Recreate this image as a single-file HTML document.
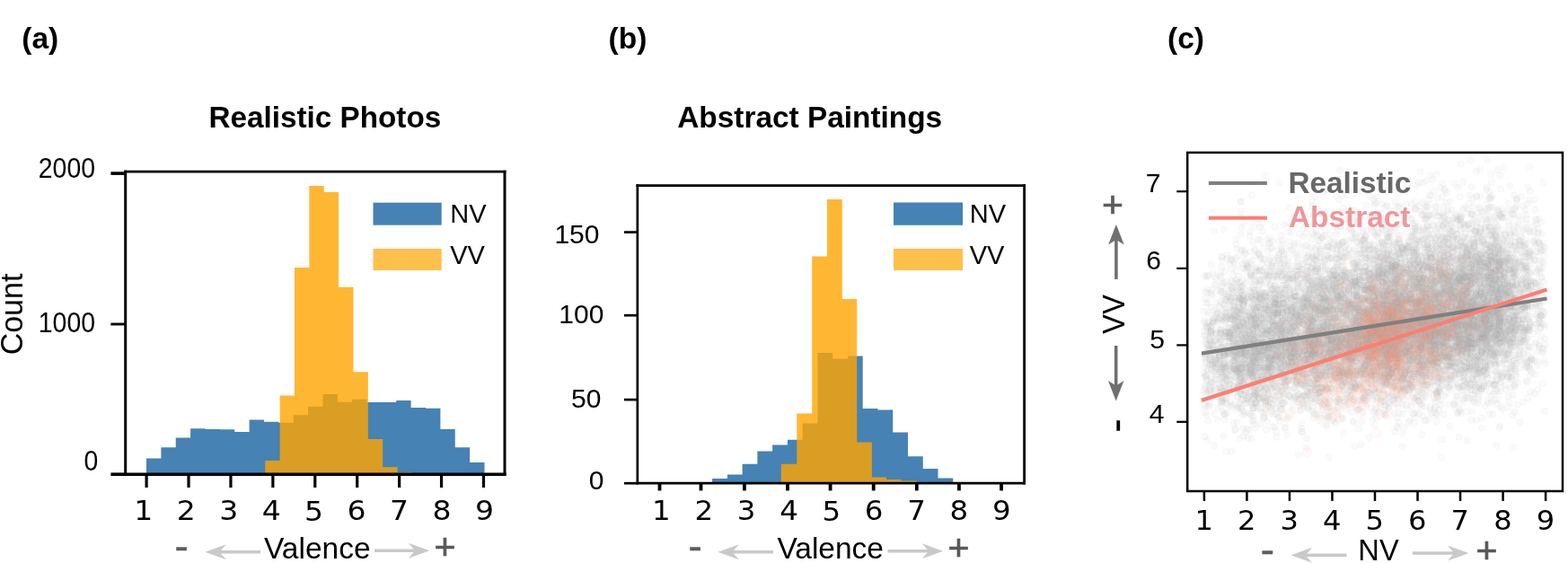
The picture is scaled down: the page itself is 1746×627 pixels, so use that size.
<!DOCTYPE html>
<html lang="en"><head><meta charset="utf-8"><title>Valence distributions</title>
<style>
html,body{margin:0;padding:0;background:#fff;}
body{width:1746px;height:627px;overflow:hidden;font-family:"Liberation Sans", Arial, Helvetica, sans-serif;}
svg{display:block;}
</style></head><body>
<svg width="1746" height="627" viewBox="0 0 1746 627">
<rect width="1746" height="627" fill="#fff"/>
<text x="24.3" y="54.2" font-family='"Liberation Sans", Arial, Helvetica, sans-serif' font-size="33.5" font-weight="bold" text-anchor="start" fill="#000" >(a)</text>
<text x="677.6" y="54.2" font-family='"Liberation Sans", Arial, Helvetica, sans-serif' font-size="33.5" font-weight="bold" text-anchor="start" fill="#000" >(b)</text>
<text x="1300.0" y="54.2" font-family='"Liberation Sans", Arial, Helvetica, sans-serif' font-size="33.5" font-weight="bold" text-anchor="start" fill="#000" >(c)</text>
<text x="361.9" y="141.6" font-family='"Liberation Sans", Arial, Helvetica, sans-serif' font-size="33.25" font-weight="bold" text-anchor="middle" fill="#000" >Realistic Photos</text>
<text x="901.7" y="141.7" font-family='"Liberation Sans", Arial, Helvetica, sans-serif' font-size="33.4" font-weight="bold" text-anchor="middle" fill="#000" >Abstract Paintings</text>
<path d="M163.00,528.2L163.00,510.60L179.37,510.60L179.37,498.30L195.74,498.30L195.74,487.60L212.11,487.60L212.11,477.30L228.48,477.30L228.48,478.10L244.85,478.10L244.85,478.30L261.22,478.30L261.22,481.10L277.59,481.10L277.59,467.60L293.96,467.60L293.96,469.80L310.33,469.80L310.33,470.80L326.70,470.80L326.70,462.30L343.07,462.30L343.07,452.80L359.43,452.80L359.43,439.10L375.80,439.10L375.80,447.80L392.17,447.80L392.17,444.80L408.54,444.80L408.54,448.10L424.91,448.10L424.91,448.10L441.28,448.10L441.28,446.10L457.65,446.10L457.65,454.10L474.02,454.10L474.02,454.80L490.39,454.80L490.39,478.10L506.76,478.10L506.76,498.30L523.13,498.30L523.13,515.10L539.50,515.10L539.50,528.2Z" fill="#4682b4" fill-opacity="1"/>
<path d="M295.26,528.2L295.26,513.10L311.63,513.10L311.63,440.40L328.00,440.40L328.00,297.90L344.37,297.90L344.37,207.00L360.73,207.00L360.73,214.00L377.10,214.00L377.10,319.80L393.47,319.80L393.47,414.20L409.84,414.20L409.84,489.10L426.21,489.10L426.21,520.30L442.58,520.30L442.58,526.00L458.95,526.00L458.95,528.2Z" fill="#ffa500" fill-opacity="0.8"/>
<line x1="139.7" y1="189.79999999999998" x2="139.7" y2="530.0" stroke="#000" stroke-width="3.0"/>
<line x1="562" y1="189.79999999999998" x2="562" y2="530.0" stroke="#000" stroke-width="3.0"/>
<line x1="138.2" y1="191.1" x2="563.5" y2="191.1" stroke="#000" stroke-width="2.6"/>
<line x1="138.2" y1="528.2" x2="563.5" y2="528.2" stroke="#000" stroke-width="3.6"/>
<line x1="123.4" y1="193.1" x2="139.7" y2="193.1" stroke="#000" stroke-width="3.6"/>
<text transform="translate(105.98,198.3) scale(1.0,1.095)" font-family='"Liberation Sans", Arial, Helvetica, sans-serif' font-size="28.4" text-anchor="end" fill="#000">2000</text>
<line x1="123.4" y1="361.0" x2="139.7" y2="361.0" stroke="#000" stroke-width="2.9"/>
<text transform="translate(105.98,370.4) scale(1.0,1.095)" font-family='"Liberation Sans", Arial, Helvetica, sans-serif' font-size="28.4" text-anchor="end" fill="#000">1000</text>
<line x1="123.4" y1="528.2" x2="139.7" y2="528.2" stroke="#000" stroke-width="3.6"/>
<text transform="translate(109.38,523.5) scale(1.0,1.095)" font-family='"Liberation Sans", Arial, Helvetica, sans-serif' font-size="28.4" text-anchor="end" fill="#000">0</text>
<line x1="163.10" y1="528.2" x2="163.10" y2="543" stroke="#000" stroke-width="3.2"/>
<text transform="translate(159.80,579.1) scale(1.12,1)" font-family='"DejaVu Sans", "Liberation Sans", sans-serif' font-size="29.5" text-anchor="middle" fill="#000">1</text>
<line x1="210.02" y1="528.2" x2="210.02" y2="543" stroke="#000" stroke-width="3.2"/>
<text transform="translate(207.25,579.1) scale(1.12,1)" font-family='"DejaVu Sans", "Liberation Sans", sans-serif' font-size="29.5" text-anchor="middle" fill="#000">2</text>
<line x1="256.94" y1="528.2" x2="256.94" y2="543" stroke="#000" stroke-width="3.2"/>
<text transform="translate(254.70,579.1) scale(1.12,1)" font-family='"DejaVu Sans", "Liberation Sans", sans-serif' font-size="29.5" text-anchor="middle" fill="#000">3</text>
<line x1="303.86" y1="528.2" x2="303.86" y2="543" stroke="#000" stroke-width="3.2"/>
<text transform="translate(302.15,579.1) scale(1.12,1)" font-family='"DejaVu Sans", "Liberation Sans", sans-serif' font-size="29.5" text-anchor="middle" fill="#000">4</text>
<line x1="350.78" y1="528.2" x2="350.78" y2="543" stroke="#000" stroke-width="3.2"/>
<text transform="translate(349.60,580.2) scale(1.12,1)" font-family='"DejaVu Sans", "Liberation Sans", sans-serif' font-size="29.5" text-anchor="middle" fill="#000">5</text>
<line x1="397.70" y1="528.2" x2="397.70" y2="543" stroke="#000" stroke-width="3.2"/>
<text transform="translate(397.05,579.1) scale(1.12,1)" font-family='"DejaVu Sans", "Liberation Sans", sans-serif' font-size="29.5" text-anchor="middle" fill="#000">6</text>
<line x1="444.62" y1="528.2" x2="444.62" y2="543" stroke="#000" stroke-width="3.2"/>
<text transform="translate(444.50,579.1) scale(1.12,1)" font-family='"DejaVu Sans", "Liberation Sans", sans-serif' font-size="29.5" text-anchor="middle" fill="#000">7</text>
<line x1="491.54" y1="528.2" x2="491.54" y2="543" stroke="#000" stroke-width="3.2"/>
<text transform="translate(491.95,579.1) scale(1.12,1)" font-family='"DejaVu Sans", "Liberation Sans", sans-serif' font-size="29.5" text-anchor="middle" fill="#000">8</text>
<line x1="538.46" y1="528.2" x2="538.46" y2="543" stroke="#000" stroke-width="3.2"/>
<text transform="translate(539.40,579.1) scale(1.12,1)" font-family='"DejaVu Sans", "Liberation Sans", sans-serif' font-size="29.5" text-anchor="middle" fill="#000">9</text>
<rect x="415.5" y="225.7" width="76.2" height="25" fill="#4682b4"/>
<rect x="415.5" y="277" width="76.2" height="24" fill="#ffa500" fill-opacity="0.7"/>
<text x="501.2" y="247.5" font-family='"Liberation Sans", Arial, Helvetica, sans-serif' font-size="29" font-weight="normal" text-anchor="start" fill="#000" >NV</text>
<text x="501.2" y="293.6" font-family='"Liberation Sans", Arial, Helvetica, sans-serif' font-size="29" font-weight="normal" text-anchor="start" fill="#000" >VV</text>
<text transform="translate(24.9,350.0) rotate(-90) scale(1,1.025)" font-family='"Liberation Sans", Arial, Helvetica, sans-serif' font-size="34" text-anchor="middle">Count</text>
<text x="353.3" y="622" font-family='"Liberation Sans", Arial, Helvetica, sans-serif' font-size="33.5" font-weight="normal" text-anchor="middle" fill="#000" >Valence</text>
<text transform="translate(202.0,611.9) rotate(0)" x="-7.83" y="12.50" font-family='"Liberation Sans", Arial, Helvetica, sans-serif' font-size="47" font-weight="normal" fill="#5e5e5e" stroke="#5e5e5e" stroke-width="0.3">-</text>
<line x1="290" y1="614.7" x2="243.4" y2="614.7" stroke="#c9c9c9" stroke-width="3.6"/>
<polygon points="228.4,614.7 251.9,606.2 244.4,614.7 251.9,623.2" fill="#c9c9c9"/>
<line x1="417" y1="613.2" x2="463.3" y2="613.2" stroke="#c9c9c9" stroke-width="3.6"/>
<polygon points="478.3,613.2 454.8,604.7 462.3,613.2 454.8,621.7" fill="#c9c9c9"/>
<text transform="translate(495.55,609.6) rotate(0)" x="-11.97" y="13.63" font-family='"Liberation Sans", Arial, Helvetica, sans-serif' font-size="41" font-weight="normal" fill="#595959" stroke="#595959" stroke-width="0.7">+</text>
<path d="M793.10,538.2L793.10,532.90L809.86,532.90L809.86,528.40L826.62,528.40L826.62,516.70L843.38,516.70L843.38,502.40L860.14,502.40L860.14,495.40L876.90,495.40L876.90,489.70L893.66,489.70L893.66,471.40L910.42,471.40L910.42,393.10L927.18,393.10L927.18,399.60L943.94,399.60L943.94,396.40L960.70,396.40L960.70,455.00L977.46,455.00L977.46,456.40L994.22,456.40L994.22,481.40L1010.98,481.40L1010.98,508.20L1027.74,508.20L1027.74,521.90L1044.50,521.90L1044.50,532.40L1061.26,532.40L1061.26,538.2Z" fill="#4682b4" fill-opacity="1"/>
<path d="M869.80,538.2L869.80,516.70L887.30,516.70L887.30,460.40L904.20,460.40L904.20,285.60L921.00,285.60L921.00,222.00L937.80,222.00L937.80,333.00L954.20,333.00L954.20,492.40L970.90,492.40L970.90,531.40L987.00,531.40L987.00,534.00L1003.40,534.00L1003.40,535.40L1020.80,535.40L1020.80,538.2Z" fill="#ffa500" fill-opacity="0.8"/>
<line x1="709.85" y1="205.29999999999998" x2="709.85" y2="539.6" stroke="#000" stroke-width="2.7"/>
<line x1="1140.6" y1="205.29999999999998" x2="1140.6" y2="539.6" stroke="#000" stroke-width="2.8"/>
<line x1="708.5" y1="206.7" x2="1142.0" y2="206.7" stroke="#000" stroke-width="2.8"/>
<line x1="708.5" y1="538.2" x2="1142.0" y2="538.2" stroke="#000" stroke-width="2.8"/>
<line x1="695" y1="258.6" x2="709.85" y2="258.6" stroke="#000" stroke-width="2.7"/>
<text transform="translate(667.44,271.3) scale(1.0,1.0)" font-family='"Liberation Sans", Arial, Helvetica, sans-serif' font-size="30" text-anchor="end" fill="#000">150</text>
<line x1="695" y1="351.2" x2="709.85" y2="351.2" stroke="#000" stroke-width="2.7"/>
<text transform="translate(672.34,360.4) scale(1.0,1.0)" font-family='"Liberation Sans", Arial, Helvetica, sans-serif' font-size="30" text-anchor="end" fill="#000">100</text>
<line x1="695" y1="445.1" x2="709.85" y2="445.1" stroke="#000" stroke-width="2.7"/>
<text transform="translate(669.34,453.7) scale(1.0,1.0)" font-family='"Liberation Sans", Arial, Helvetica, sans-serif' font-size="30" text-anchor="end" fill="#000">50</text>
<line x1="695" y1="538.2" x2="709.85" y2="538.2" stroke="#000" stroke-width="2.7"/>
<text transform="translate(672.34,545.4) scale(1.0,1.0)" font-family='"Liberation Sans", Arial, Helvetica, sans-serif' font-size="30" text-anchor="end" fill="#000">0</text>
<line x1="734.50" y1="538.2" x2="734.50" y2="546.4" stroke="#000" stroke-width="3.8"/>
<text transform="translate(736.40,578.9) scale(1.1,1)" font-family='"DejaVu Sans", "Liberation Sans", sans-serif' font-size="29.5" text-anchor="middle" fill="#000">1</text>
<line x1="780.50" y1="538.2" x2="780.50" y2="546.4" stroke="#000" stroke-width="3.8"/>
<text transform="translate(783.75,578.9) scale(1.1,1)" font-family='"DejaVu Sans", "Liberation Sans", sans-serif' font-size="29.5" text-anchor="middle" fill="#000">2</text>
<line x1="828.90" y1="538.2" x2="828.90" y2="546.4" stroke="#000" stroke-width="3.8"/>
<text transform="translate(831.10,578.9) scale(1.1,1)" font-family='"DejaVu Sans", "Liberation Sans", sans-serif' font-size="29.5" text-anchor="middle" fill="#000">3</text>
<line x1="877.00" y1="538.2" x2="877.00" y2="546.4" stroke="#000" stroke-width="3.8"/>
<text transform="translate(878.45,578.9) scale(1.1,1)" font-family='"DejaVu Sans", "Liberation Sans", sans-serif' font-size="29.5" text-anchor="middle" fill="#000">4</text>
<line x1="924.60" y1="538.2" x2="924.60" y2="546.4" stroke="#000" stroke-width="3.8"/>
<text transform="translate(925.80,579.6) scale(1.1,1)" font-family='"DejaVu Sans", "Liberation Sans", sans-serif' font-size="29.5" text-anchor="middle" fill="#000">5</text>
<line x1="972.70" y1="538.2" x2="972.70" y2="546.4" stroke="#000" stroke-width="3.8"/>
<text transform="translate(973.15,578.9) scale(1.1,1)" font-family='"DejaVu Sans", "Liberation Sans", sans-serif' font-size="29.5" text-anchor="middle" fill="#000">6</text>
<line x1="1020.80" y1="538.2" x2="1020.80" y2="546.4" stroke="#000" stroke-width="3.8"/>
<text transform="translate(1020.50,578.9) scale(1.1,1)" font-family='"DejaVu Sans", "Liberation Sans", sans-serif' font-size="29.5" text-anchor="middle" fill="#000">7</text>
<line x1="1067.90" y1="538.2" x2="1067.90" y2="546.4" stroke="#000" stroke-width="3.8"/>
<text transform="translate(1067.85,578.9) scale(1.1,1)" font-family='"DejaVu Sans", "Liberation Sans", sans-serif' font-size="29.5" text-anchor="middle" fill="#000">8</text>
<line x1="1115.00" y1="538.2" x2="1115.00" y2="546.4" stroke="#000" stroke-width="3.8"/>
<text transform="translate(1115.20,578.9) scale(1.1,1)" font-family='"DejaVu Sans", "Liberation Sans", sans-serif' font-size="29.5" text-anchor="middle" fill="#000">9</text>
<rect x="995" y="225.5" width="77" height="25.3" fill="#4682b4"/>
<rect x="995" y="277" width="77" height="24" fill="#ffa500" fill-opacity="0.7"/>
<text x="1079.7" y="247.5" font-family='"Liberation Sans", Arial, Helvetica, sans-serif' font-size="29" font-weight="normal" text-anchor="start" fill="#000" >NV</text>
<text x="1079.7" y="293.8" font-family='"Liberation Sans", Arial, Helvetica, sans-serif' font-size="29" font-weight="normal" text-anchor="start" fill="#000" >VV</text>
<text x="924.7" y="622" font-family='"Liberation Sans", Arial, Helvetica, sans-serif' font-size="33.5" font-weight="normal" text-anchor="middle" fill="#000" >Valence</text>
<text transform="translate(774.2,611.8) rotate(0)" x="-7.83" y="12.50" font-family='"Liberation Sans", Arial, Helvetica, sans-serif' font-size="47" font-weight="normal" fill="#5e5e5e" stroke="#5e5e5e" stroke-width="0.3">-</text>
<line x1="861" y1="614.8" x2="814.4" y2="614.8" stroke="#c9c9c9" stroke-width="3.6"/>
<polygon points="799.4,614.8 822.9,606.3 815.4,614.8 822.9,623.3" fill="#c9c9c9"/>
<line x1="988.4" y1="613.8" x2="1035.2" y2="613.8" stroke="#c9c9c9" stroke-width="3.6"/>
<polygon points="1050.2,613.8 1026.7,605.3 1034.2,613.8 1026.7,622.3" fill="#c9c9c9"/>
<text transform="translate(1067.5,610) rotate(0)" x="-11.97" y="13.63" font-family='"Liberation Sans", Arial, Helvetica, sans-serif' font-size="41" font-weight="normal" fill="#595959" stroke="#595959" stroke-width="0.7">+</text>
<defs><marker id="mg" markerUnits="userSpaceOnUse" markerWidth="12" markerHeight="12" refX="6" refY="6"><circle cx="6" cy="6" r="3.6" fill="#b4b4b4" fill-opacity="0.062" stroke="#a0a0a0" stroke-opacity="0.06" stroke-width="0.9"/></marker><marker id="ms" markerUnits="userSpaceOnUse" markerWidth="18" markerHeight="18" refX="9" refY="9"><circle cx="9" cy="9" r="5.6" fill="#ff9a76" fill-opacity="0.055" stroke="#ff9670" stroke-opacity="0.045" stroke-width="1"/></marker><filter id="bl" x="0" y="0" width="100%" height="100%" filterUnits="userSpaceOnUse"><feGaussianBlur stdDeviation="0.55"/></filter><clipPath id="cc"><rect x="1322.2" y="169.9" width="417.79999999999995" height="377.1"/></clipPath></defs>
<g clip-path="url(#cc)"><g filter="url(#bl)">
<polyline fill="none" stroke="none" marker-start="url(#mg)" marker-mid="url(#mg)" marker-end="url(#mg)" points="1522.5,344.4 1509.0,396.1 1558.1,319.5 1558.3,319.8 1561.3,336.2 1694.5,341.7 1541.3,366.2 1489.7,394.3 1505.3,282.6 1356.0,398.5 1650.8,333.4 1537.0,340.5 1584.1,347.4 1618.6,286.4 1625.4,322.5 1630.7,368.3 1449.4,471.4 1376.3,397.9 1701.4,313.7 1558.0,328.3 1490.1,373.1 1719.4,350.5 1634.3,390.1 1629.5,289.7 1383.9,409.1 1538.1,298.8 1452.4,390.8 1392.8,429.1 1674.9,317.8 1564.0,321.1 1340.6,415.7 1585.1,353.3 1398.4,437.9 1678.0,288.6 1470.7,326.9 1525.3,355.8 1597.0,351.8 1593.8,299.5 1397.7,359.8 1441.9,309.5 1660.0,356.4 1599.5,290.0 1625.8,384.2 1564.9,335.6 1573.0,401.0 1385.9,327.4 1595.1,383.8 1612.9,337.0 1473.2,421.1 1598.8,256.0 1671.6,363.1 1525.3,379.2 1520.7,376.3 1395.1,454.6 1622.2,340.3 1625.4,327.9 1522.6,317.4 1627.2,306.9 1489.9,345.6 1449.1,358.7 1522.0,381.0 1398.8,284.8 1566.3,399.6 1624.0,314.3 1565.1,351.2 1522.7,387.6 1602.8,398.4 1588.7,278.1 1539.6,389.6 1416.0,295.9 1375.4,365.5 1438.7,382.5 1492.9,319.1 1377.2,352.8 1468.5,336.8 1472.6,313.7 1702.9,282.4 1665.2,374.1 1435.3,372.9 1452.6,380.6 1630.8,317.7 1472.4,344.0 1462.3,394.9 1566.2,413.6 1653.2,333.3 1669.6,332.6 1512.4,382.3 1410.7,417.6 1498.6,328.4 1694.0,263.5 1565.9,335.6 1567.3,412.5 1372.6,324.4 1450.0,410.6 1363.6,375.2 1457.7,309.9 1625.7,354.9 1568.4,359.5 1626.9,298.6 1494.0,317.7 1446.2,392.2 1600.5,390.6 1631.0,286.1 1566.3,360.1 1699.2,309.6 1534.0,374.1 1618.7,352.5 1528.8,318.6 1396.5,421.9 1466.5,422.4 1607.6,320.2 1603.6,348.4 1511.0,390.1 1377.6,409.9 1579.5,378.8 1419.3,338.4 1517.2,443.1 1623.7,385.9 1539.0,360.3 1691.4,369.5 1547.0,327.9 1659.9,394.3 1393.2,307.4 1600.9,328.4 1623.6,278.5 1346.1,362.7 1582.7,430.7 1692.8,409.4 1489.6,329.3 1592.4,314.8 1401.4,403.8 1426.4,418.5 1486.8,355.5 1686.2,344.1 1625.4,256.0 1423.7,393.9 1515.4,238.7 1597.0,332.4 1540.6,362.1 1370.4,447.6 1521.2,379.4 1445.2,346.7 1392.8,430.5 1557.6,347.3 1359.5,367.7 1597.6,365.6 1587.4,356.0 1561.5,277.8 1525.7,270.0 1591.3,284.4 1624.6,377.6 1628.3,395.9 1683.0,359.9 1474.9,363.5 1568.7,359.6 1526.9,420.6 1632.6,375.0 1631.3,393.8 1478.9,382.9 1666.3,301.3 1579.4,374.6 1548.6,357.7 1514.2,251.7 1405.7,383.1 1634.9,334.3 1417.2,404.9 1639.7,221.1 1658.9,331.0 1643.0,340.3 1575.6,361.2 1572.3,367.6 1523.5,378.6 1508.4,387.4 1598.9,300.7 1569.5,376.2 1594.4,337.4 1677.6,292.2 1679.0,335.0 1644.1,358.1 1441.4,386.5 1527.7,417.7 1460.6,393.7 1359.0,446.4 1446.4,301.5 1366.8,417.3 1510.3,344.0 1525.4,385.4 1660.6,441.2 1353.2,434.4 1601.9,336.0 1562.6,347.5 1425.7,368.5 1680.5,294.5 1536.1,354.2 1531.4,365.8 1403.0,337.9 1551.0,375.4 1478.0,378.6 1627.2,257.6 1597.2,368.3 1594.1,271.2 1554.7,298.0 1614.5,407.6 1462.1,339.1 1502.8,345.1 1362.9,394.6 1595.7,343.9 1599.5,462.4 1432.8,395.7 1368.2,405.8 1714.9,301.7 1494.9,269.4 1634.6,249.0 1344.3,423.3 1575.8,305.7 1620.6,404.6 1620.9,371.0 1571.1,350.5 1577.3,332.8 1418.4,364.7 1496.5,322.6 1594.2,358.4 1512.9,384.3 1597.7,343.3 1422.7,338.9 1502.2,369.9 1548.2,352.2 1480.8,435.6 1636.1,284.4 1588.9,409.5 1517.5,364.1 1584.6,335.6 1716.2,344.1 1603.2,347.0 1564.7,319.5 1585.2,329.3 1503.0,410.0 1451.2,401.1 1413.6,303.2 1674.3,398.0 1662.3,285.6 1687.2,243.6 1509.5,293.8 1666.6,372.8 1699.7,286.2 1537.5,444.7 1538.2,417.6 1346.1,405.5 1472.9,383.6 1410.8,345.3 1641.6,386.7 1352.3,496.1 1409.7,411.6 1639.6,237.8 1622.9,459.5 1656.4,178.0 1562.3,394.7 1570.8,429.4 1657.3,310.5 1550.4,347.7 1650.1,377.1 1595.1,399.5 1602.3,300.5 1589.7,405.7 1496.8,377.4 1519.6,332.5 1488.2,315.7 1617.5,346.8 1342.4,332.9 1396.6,355.6 1474.4,401.1 1577.6,316.3 1395.5,385.5 1555.7,362.1 1641.3,363.7 1568.5,360.5 1667.6,335.9 1622.3,351.5 1654.5,355.0 1606.4,407.4 1639.5,342.5 1595.0,311.8 1514.1,363.4 1642.7,427.9 1375.1,323.7 1402.6,326.9 1351.9,390.1 1632.3,272.5 1390.4,444.2 1543.2,285.4 1552.4,352.3 1661.6,316.4 1527.5,359.7 1625.7,245.2 1620.2,453.1 1403.9,311.4 1642.2,350.8 1420.0,340.0 1601.5,372.1 1394.4,406.8 1621.8,385.1 1478.3,378.3 1574.7,301.6 1610.9,265.7 1465.9,290.5 1532.8,391.7 1517.5,374.2 1602.9,352.4 1541.5,369.8 1650.2,311.9 1477.7,332.4 1700.2,296.2 1672.3,238.7 1623.6,390.6 1654.2,346.2 1503.8,414.6 1577.3,347.0 1609.9,345.4 1411.7,451.7 1541.0,337.6 1649.2,433.1 1528.7,387.6 1385.1,449.8 1347.3,451.5 1529.2,272.0 1384.1,360.8 1496.3,350.0 1543.3,384.2 1580.9,364.0 1582.9,370.7 1406.1,328.6 1629.8,408.5 1657.1,347.3 1384.3,485.8 1690.0,426.2 1476.2,401.6 1618.1,278.9 1387.1,404.7 1482.1,390.2 1557.8,470.1 1548.0,359.6 1556.2,385.4 1688.0,364.4 1479.4,377.1 1460.5,390.3 1674.6,283.3 1423.9,302.2 1640.5,383.5 1533.4,426.7 1454.6,387.1 1582.0,393.3 1359.7,410.0 1540.2,383.1 1595.2,367.8 1592.8,298.9 1641.5,291.4 1387.9,383.8 1628.4,420.5 1684.5,333.8 1663.9,445.9 1383.3,393.0 1502.8,367.0 1587.3,352.5 1605.8,377.9 1642.9,329.0 1606.7,353.1 1651.6,399.4 1462.2,377.5 1429.7,331.7 1544.7,304.9 1521.5,228.6 1507.2,402.1 1437.4,390.3 1674.8,316.4 1562.2,325.6 1630.5,308.9 1638.3,302.9 1595.3,318.2 1486.2,325.0 1418.9,423.8 1584.1,359.1 1519.6,415.9 1670.3,350.5 1450.9,342.0 1675.1,392.5 1531.4,342.4 1515.5,278.5 1678.1,349.6 1426.5,369.2 1465.5,285.6 1661.5,333.2 1688.8,230.3 1654.2,354.9 1443.3,330.3 1628.8,362.0 1671.1,294.7 1493.7,377.0 1657.8,253.0 1412.1,333.5 1678.1,414.5 1374.3,370.4 1427.8,413.3 1405.2,422.5 1448.3,350.0 1471.7,317.9 1567.5,406.2 1396.1,317.4 1495.6,415.7 1423.2,348.7 1624.5,356.3 1547.9,343.4 1406.7,344.2 1519.7,354.3 1530.8,308.9 1457.0,426.1 1579.4,229.5 1484.6,327.8 1540.0,304.3 1544.5,304.5 1441.4,373.4 1597.6,403.0 1644.1,293.7 1570.1,361.2 1544.8,304.4 1568.4,320.0 1485.4,399.1 1609.5,380.2 1558.8,344.8 1394.5,347.5 1494.4,346.0 1667.2,347.8 1539.1,250.0 1540.3,377.3 1571.7,226.7 1527.8,358.2 1631.3,308.2 1646.0,268.5 1401.1,441.0 1395.9,333.6 1408.1,330.1 1616.2,285.2 1618.7,425.7 1480.3,408.5 1546.8,371.7 1556.0,306.0 1641.5,274.0 1410.5,341.7 1695.8,369.9 1419.3,322.6 1716.5,278.8 1628.6,313.1 1651.1,329.5 1558.7,433.5 1421.6,367.0 1402.0,282.9 1498.4,356.4 1384.6,342.5 1640.5,345.9 1384.6,393.6 1392.3,304.0 1497.8,366.4 1412.7,354.9 1382.5,325.1 1489.9,357.9 1366.7,394.4 1556.8,383.7 1552.4,337.8 1659.0,288.9 1622.8,359.2 1642.9,256.8 1527.8,346.9 1647.5,301.1 1647.5,368.6 1464.3,417.4 1509.6,402.1 1687.1,231.9 1559.9,380.9 1685.4,305.7 1630.1,416.8 1666.4,333.3 1681.1,301.4 1569.0,404.5 1536.3,367.2 1608.2,210.8 1593.2,330.3 1538.0,345.9 1465.2,395.2 1593.5,341.1 1387.6,384.4 1544.1,373.2 1593.6,356.8 1665.3,354.1 1535.9,364.1 1400.6,415.4 1536.7,304.8 1641.4,266.6 1466.4,382.7 1561.9,299.8 1411.3,347.3 1401.6,444.6 1664.7,274.8 1545.5,373.7 1582.9,325.2 1504.0,368.1 1593.5,366.7 1423.8,385.0 1640.3,372.2 1589.7,320.3 1343.3,422.7 1394.8,398.7 1484.8,371.9 1639.8,353.8 1529.3,338.8 1616.4,344.5 1637.5,312.4 1599.4,374.8 1468.8,314.6 1626.2,378.4 1643.5,363.4 1579.6,292.4 1650.5,432.9 1528.8,376.4 1692.8,269.2 1593.8,277.6 1632.7,397.1 1680.0,320.4 1413.9,412.6 1528.9,240.4 1634.2,278.1 1680.7,301.5 1488.2,314.7 1448.9,352.2 1536.9,310.1 1474.5,346.3 1648.8,375.9 1523.3,313.0 1489.8,288.0 1626.4,289.1 1371.6,353.1 1647.5,328.2 1535.2,303.2 1655.7,371.0 1566.7,323.8 1576.7,394.3 1614.5,286.4 1452.8,378.2 1541.0,302.6 1426.5,389.7 1471.5,367.0 1610.4,360.5 1534.6,371.1 1667.6,299.7 1650.3,260.1 1609.8,368.0 1620.5,409.9 1430.8,404.5 1567.5,387.1 1695.6,340.4 1420.5,441.4 1369.6,294.0 1600.3,292.3 1543.8,346.8 1400.2,454.9 1462.7,262.0 1590.7,340.2 1651.0,325.6 1411.3,388.6 1376.7,398.1 1625.6,348.1 1583.1,379.4 1574.8,386.7 1494.8,360.1 1657.7,403.0 1402.9,328.4 1664.8,290.8 1638.0,367.2 1546.4,284.4 1545.4,378.9 1621.1,396.1 1539.5,362.4 1650.0,390.6 1628.7,394.9 1559.4,414.0 1558.6,379.2 1473.4,416.7 1516.9,332.6 1513.6,346.6 1459.9,313.5 1532.9,391.4 1567.0,359.7 1458.2,342.6 1563.5,385.4 1544.1,314.3 1603.9,286.2 1552.9,480.7 1428.1,381.4 1628.5,429.8 1457.3,405.5 1367.3,353.0 1545.9,370.5 1552.5,307.9 1553.9,394.8 1527.3,422.0 1468.5,362.4 1506.8,393.1 1670.8,427.3 1389.7,297.4 1351.6,435.0 1454.6,377.0 1583.4,336.9 1562.2,282.7 1350.1,357.5 1397.6,408.1 1609.2,366.0 1644.5,363.0 1490.8,408.8 1572.8,397.6 1476.9,361.1 1553.4,347.1 1582.3,388.9 1615.3,322.9 1625.9,336.5 1556.3,388.2 1373.8,402.4 1464.7,373.1 1544.4,370.8 1583.5,320.8 1649.0,324.3 1432.0,392.8 1531.1,340.2 1603.1,370.1 1516.5,213.2 1529.8,388.4 1390.5,440.7 1511.1,456.3 1493.0,327.5 1527.8,405.0 1419.1,347.5 1584.4,378.4 1619.4,336.9 1666.5,310.9 1589.1,323.0 1479.1,367.6 1483.3,379.1 1345.6,395.8 1609.0,397.6 1607.6,402.0 1378.2,433.6 1503.9,319.0 1705.7,312.6 1672.3,386.6 1593.2,365.2 1553.2,302.2 1393.0,291.5 1465.1,389.3 1378.5,333.2 1342.5,417.4 1539.3,404.8 1606.6,364.3 1639.7,387.4 1506.5,300.9 1491.9,389.8 1660.5,301.3 1519.3,323.5 1386.2,372.0 1600.5,361.2 1619.3,409.0 1579.2,339.9 1415.6,415.0 1619.7,355.2 1545.1,427.0 1502.9,371.0 1600.1,364.7 1602.8,360.2 1602.4,316.7 1620.6,303.5 1393.5,382.0 1595.2,313.1 1665.7,373.3 1638.5,434.2 1533.1,376.8 1447.9,457.3 1657.7,290.3 1423.7,365.5 1532.8,411.5 1477.3,431.7 1655.5,362.4 1606.9,363.6 1642.9,278.8 1624.9,373.1 1599.3,395.3 1569.3,318.2 1717.7,353.8 1588.0,353.4 1458.4,366.1 1542.2,340.2 1669.3,296.8 1533.4,398.4 1531.7,302.6 1559.0,333.4 1446.9,244.8 1610.4,428.6 1504.6,372.6 1609.6,281.1 1658.7,261.9 1564.9,360.6 1668.8,297.3 1347.5,380.0 1611.4,373.3 1445.2,385.2 1468.0,364.5 1643.8,381.3 1649.6,418.3 1625.2,347.8 1660.2,194.7 1715.1,272.4 1373.8,372.4 1653.9,408.8 1585.4,382.5 1577.0,316.1 1603.0,435.3 1625.8,312.6 1395.3,424.3 1434.5,406.3 1495.6,306.9 1459.6,321.4 1660.1,335.8 1549.5,373.0 1612.7,319.5 1659.4,285.3 1533.3,397.2 1525.0,303.8 1539.9,313.5 1502.5,341.0 1379.3,424.6 1581.5,387.2 1674.8,357.3 1630.6,347.5 1673.0,374.0 1537.7,369.2 1458.4,399.4 1633.3,323.1 1486.6,368.1 1432.7,359.9 1633.4,319.0 1632.0,303.1 1624.0,337.7 1365.0,410.1 1598.9,378.6 1563.2,354.7 1344.8,435.2 1703.8,279.5 1561.2,300.2 1675.3,401.6 1714.0,353.8 1657.0,367.8 1603.8,339.5 1701.5,364.9 1717.4,298.7 1460.2,382.5 1541.8,280.9 1493.5,411.2 1410.0,386.7 1606.0,306.5 1568.8,352.7 1487.5,297.0 1544.9,305.9 1508.9,388.6 1411.8,279.6 1668.5,325.2 1544.7,365.7 1477.9,344.1 1542.0,408.1 1432.7,385.2 1667.1,373.0 1608.9,358.6 1642.6,314.0 1444.3,292.8 1594.8,426.1 1654.4,272.5 1561.6,393.5 1675.5,363.9 1651.1,357.3 1601.6,263.3 1557.8,460.1 1659.9,328.1 1588.9,363.7 1510.3,417.7 1394.0,419.3 1434.6,354.7 1343.5,397.4 1637.2,314.4 1544.4,312.7 1603.7,410.5 1399.9,394.5 1404.7,249.3 1655.5,297.1 1662.3,376.3 1692.9,311.2 1691.9,268.9 1592.8,393.1 1629.7,295.8 1665.4,271.9 1377.6,371.6 1562.2,374.3 1630.7,387.4 1582.1,406.0 1343.0,393.4 1493.0,340.7 1525.0,289.8 1591.4,361.7 1596.8,319.5 1368.7,371.5 1416.5,344.9 1559.5,306.3 1419.9,381.6 1546.6,396.6 1523.1,392.0 1630.6,350.2 1544.5,374.4 1566.9,359.7 1589.6,269.6 1648.4,355.0 1383.1,278.3 1650.0,293.0 1655.3,369.0 1641.2,425.8 1552.8,460.3 1602.4,291.9 1600.4,350.2 1674.1,400.8 1537.5,370.2 1540.1,403.6 1596.5,406.3 1553.0,378.1 1623.2,412.0 1619.1,359.5 1534.8,458.7 1633.9,395.6 1658.2,346.9 1492.1,314.2 1512.4,428.5 1632.1,442.7 1556.9,305.6 1511.6,323.8 1567.0,298.3 1658.1,353.2 1616.4,276.8 1386.6,384.9 1673.0,320.1 1674.6,308.8 1620.8,238.7 1384.8,412.9 1535.6,345.4 1554.3,294.2 1408.8,401.6 1569.1,274.8 1355.5,390.8 1574.0,385.4 1482.2,458.3 1581.9,382.0 1663.7,286.1 1432.6,379.0 1645.9,361.8 1459.9,286.3 1628.4,298.7 1691.3,240.3 1624.5,345.8 1490.6,414.5 1585.9,372.0 1643.7,366.6 1578.3,340.9 1593.5,391.7 1427.1,322.0 1566.4,318.9 1545.6,323.7 1401.4,392.3 1569.1,386.2 1605.1,363.3 1649.6,310.6 1605.2,351.6 1447.4,397.2 1576.1,301.6 1673.5,394.5 1544.9,375.4 1656.6,328.4 1373.8,361.1 1492.4,445.5 1479.9,394.1 1617.1,370.9 1670.1,343.8 1627.9,449.5 1360.6,318.7 1622.5,369.5 1626.2,360.3 1649.8,290.8 1687.7,394.8 1528.8,335.5 1663.0,312.2 1527.1,321.7 1403.9,414.3 1596.7,459.5 1664.7,260.3 1542.4,417.1 1520.4,399.4 1469.0,347.3 1354.8,372.0 1479.8,340.6 1584.3,416.4 1383.7,377.6 1573.2,287.9 1542.3,371.6 1569.4,362.3 1504.5,382.9 1417.0,328.2 1572.5,402.2 1476.7,375.0 1489.6,293.6 1380.4,428.9 1502.5,340.0 1669.4,293.9 1536.8,376.0 1438.0,359.8 1349.2,419.5 1442.8,405.6 1616.5,313.9 1634.4,378.6 1514.5,337.4 1548.3,318.1 1558.6,377.7 1565.0,377.5 1412.4,418.0 1475.8,300.0 1686.7,369.1 1477.8,411.0 1523.7,362.6 1668.8,378.0 1580.8,375.1 1517.8,366.3 1649.9,294.8 1445.2,398.7 1615.2,352.4 1511.3,352.8 1564.4,326.2 1651.3,350.7 1463.5,423.8 1667.5,343.6 1642.3,435.0 1670.7,389.2 1651.4,374.5 1662.3,303.7 1530.5,394.4 1572.4,343.1 1371.7,289.2 1662.3,257.0 1518.6,420.8 1446.2,355.9 1698.2,296.9 1490.9,296.1 1688.5,419.6 1626.6,327.5 1504.6,310.5 1429.2,338.0 1546.9,289.4 1664.3,428.6 1586.8,360.0 1600.4,372.1 1586.4,357.6 1620.8,351.5 1423.4,277.8 1377.0,373.1 1553.3,270.2 1508.3,372.5 1637.0,313.1 1564.5,416.1 1651.7,369.7 1530.6,386.3 1403.7,376.4 1525.2,352.7 1531.8,359.8 1667.1,389.0 1359.7,351.1 1532.1,402.1 1512.3,446.3 1427.8,344.0 1585.0,264.9 1398.0,398.8 1556.1,382.5 1598.4,359.5 1561.4,367.3 1472.5,432.2 1553.6,368.6 1431.2,385.7 1431.2,400.8 1569.8,375.4 1503.0,389.9 1428.3,401.1 1607.5,287.5 1536.6,406.1 1646.7,416.4 1478.0,454.3 1485.7,384.7 1476.7,322.9 1628.4,330.0 1573.4,375.5 1361.7,332.1 1623.2,331.3 1459.2,427.4 1597.8,395.0 1570.8,279.2 1513.1,343.7 1634.4,378.4 1598.4,330.3 1685.4,358.2 1505.8,257.7 1604.6,351.0 1428.2,397.0 1453.9,356.1 1545.6,413.6 1611.6,306.6 1412.0,389.1 1587.7,323.0 1572.8,279.0 1693.9,244.3 1543.3,398.5 1583.6,436.9 1354.7,400.7 1501.5,371.1 1453.0,416.7 1669.6,382.0 1491.5,390.9 1479.5,431.9 1640.8,245.7 1344.0,322.0 1364.5,397.9 1414.9,406.0 1465.6,400.4 1625.9,330.0 1556.0,336.1 1604.9,370.5 1467.7,268.0 1600.2,301.7 1379.9,409.9 1614.4,367.9 1470.5,390.3 1516.8,389.0 1595.6,359.9 1457.8,386.2 1600.4,367.9 1497.6,421.5 1524.7,353.4 1485.0,389.5 1639.7,341.1 1656.2,375.0 1692.2,339.8 1492.0,272.1 1504.7,410.3 1557.2,373.9 1567.2,323.9 1662.7,341.2 1482.8,380.4 1676.8,329.2 1544.8,342.9 1496.7,403.0 1702.5,223.2 1574.3,316.3 1500.4,285.2 1497.3,395.4 1631.3,361.4 1425.4,382.5 1467.7,414.9 1558.1,372.4 1433.3,345.6 1558.8,362.9 1389.8,368.2 1589.6,428.3 1522.1,426.7 1682.9,327.3 1454.8,376.9 1378.9,413.8 1526.5,396.0 1470.9,333.4 1604.2,371.1 1394.9,400.6 1569.8,309.1 1630.0,435.6 1508.3,277.1 1576.3,350.3 1407.0,409.3 1639.2,335.8 1546.5,373.9 1576.0,379.6 1526.0,336.0 1365.0,427.9 1639.8,303.5 1617.2,402.2 1363.8,349.0 1615.2,406.2 1519.6,298.0 1646.0,268.7 1583.8,324.2 1626.3,343.7 1535.1,367.6 1526.1,376.1 1528.8,409.3 1549.3,292.5 1444.8,427.0 1535.2,347.7 1509.7,380.9 1650.3,288.4 1472.1,315.7 1553.3,396.8 1598.5,291.6 1645.0,327.6 1677.3,410.0 1525.6,321.0 1573.4,299.8 1557.4,313.8 1522.6,302.6 1396.0,440.8 1467.0,422.1 1647.5,348.5 1567.5,348.1 1664.7,257.0 1659.8,365.1 1382.2,325.4 1416.4,371.6 1489.6,371.8 1511.4,337.1 1579.9,354.0 1594.4,366.6 1626.5,407.2 1540.1,381.4 1653.4,287.9 1609.6,408.2 1670.0,291.1 1511.3,367.4 1645.3,395.7 1429.6,435.7 1521.9,383.3 1429.7,369.8 1653.2,313.8 1680.3,325.0 1472.0,368.3 1504.9,375.4 1633.6,336.0 1581.0,362.6 1512.3,389.1 1417.0,401.3 1639.4,353.4 1509.1,363.5 1403.6,406.6 1518.2,383.0 1519.1,443.4 1569.0,360.1 1587.1,329.2 1498.5,382.2 1584.9,362.4 1489.5,391.1 1574.9,310.7 1388.3,422.0 1623.0,363.0 1602.3,385.3 1657.2,310.7 1580.1,414.4 1583.0,354.6 1468.7,400.5 1435.6,364.8 1669.0,308.6 1696.5,447.9 1606.3,326.3 1587.6,348.9 1554.0,332.9 1574.2,280.9 1501.1,428.1 1552.5,370.7 1581.4,304.0 1604.9,423.1 1586.3,429.5 1512.8,379.6 1603.5,288.7 1603.6,421.0 1706.7,343.1 1552.6,314.8 1665.0,294.1 1602.8,331.5 1437.5,347.6 1604.9,422.4 1612.2,287.8 1697.0,341.9 1633.1,320.6 1655.5,339.0 1531.4,339.6 1503.3,388.6 1534.6,311.1 1554.7,296.1 1528.6,372.8 1574.5,323.4 1497.6,346.3 1438.4,398.4 1611.2,310.5 1440.9,355.4 1495.7,381.5 1476.7,473.0 1459.2,383.8 1430.2,426.4 1513.8,363.5 1629.8,429.4 1621.3,289.3 1640.5,362.2 1546.8,411.9 1676.7,322.6 1536.1,412.5 1654.6,348.5 1535.6,398.8 1417.9,385.1 1574.1,292.9 1568.1,356.4 1572.5,367.2 1615.9,385.4 1626.1,388.8 1544.5,339.5 1393.6,407.9 1561.2,339.7 1591.9,401.8 1683.6,365.6 1663.3,352.5 1546.3,363.7 1397.1,425.7 1705.5,330.1 1560.5,380.7 1669.0,293.4 1428.0,425.6 1576.3,393.3 1596.4,443.9 1486.9,343.5 1599.8,373.5 1597.8,316.4 1392.3,387.4 1540.7,369.4 1593.4,381.9 1638.6,373.7 1699.3,315.1 1553.7,358.4 1505.8,357.0 1469.0,394.5 1586.4,349.5 1584.9,362.2 1568.3,372.6 1649.4,394.4 1465.6,315.7 1656.2,382.6 1462.0,395.2 1402.0,397.4 1542.0,350.7 1603.4,352.7 1612.7,344.7 1438.9,302.5 1561.8,461.0 1418.6,344.6 1427.4,377.6 1576.6,278.5 1568.9,305.6 1518.4,346.8 1651.6,413.8 1613.9,279.1 1655.8,380.6 1604.3,278.6 1648.7,385.0 1675.4,316.1 1456.4,291.1 1495.5,317.3 1675.1,305.1 1653.7,371.0 1570.3,370.4 1633.8,309.2 1678.8,325.2 1674.6,346.7 1603.7,305.0 1628.6,388.2 1591.4,295.8 1569.1,285.1 1392.9,390.6 1434.7,423.3 1559.5,357.6 1693.5,263.8 1466.9,394.9 1535.8,417.9 1486.6,252.3 1559.1,409.3 1589.0,354.3 1638.7,381.3 1678.2,362.6 1718.4,270.3 1530.6,313.0 1441.1,330.4 1539.9,393.8 1643.3,295.8 1593.4,370.3 1523.6,324.5 1570.1,405.4 1564.5,322.1 1373.9,406.8 1366.6,287.8 1423.2,333.3 1364.7,327.1 1615.8,423.7 1559.0,293.8 1453.5,367.3 1614.5,302.6 1509.0,313.6 1584.8,341.4 1396.6,323.0 1530.8,279.0 1615.0,260.6 1383.2,383.7 1569.6,311.1 1540.8,408.0 1486.6,417.1 1525.6,298.9 1554.0,306.5 1456.2,406.5 1528.0,368.1 1380.0,348.7 1537.0,373.0 1674.6,393.5 1571.5,324.8 1426.0,375.4 1549.1,310.8 1674.4,343.7 1400.9,346.9 1497.8,415.7 1659.9,280.3 1459.0,400.9 1582.4,383.0 1533.9,376.0 1540.1,375.4 1660.5,366.4 1567.9,377.2 1571.5,366.1 1540.3,303.9 1504.8,402.6 1467.8,381.2 1465.8,339.3 1610.5,292.4 1549.2,383.6 1567.9,268.2 1370.1,423.7 1451.8,344.1 1508.9,356.2 1598.4,428.8 1382.6,445.7 1411.5,434.6 1613.7,301.9 1628.2,369.6 1667.0,291.4 1545.2,390.9 1555.6,338.7 1674.8,340.4 1398.1,279.1 1459.1,363.5 1520.0,332.9 1682.0,351.9 1462.0,329.5 1627.0,339.2 1364.1,431.0 1533.8,361.3 1452.5,331.4 1387.0,437.5 1534.0,380.7 1599.5,313.7 1555.6,465.4 1458.8,399.7 1601.5,352.9 1592.5,456.0 1595.3,371.5 1370.7,413.2 1637.0,384.8 1446.7,381.6 1553.1,364.9 1482.4,398.9 1649.0,414.6 1606.5,344.8 1576.1,248.6 1513.1,376.9 1545.2,345.9 1387.3,376.5 1701.3,317.3 1470.7,349.9 1623.1,369.4 1627.7,344.3 1532.6,244.1 1520.2,311.9 1569.2,435.6 1555.4,377.8 1567.4,369.6 1485.6,392.7 1579.8,418.6 1579.6,398.4 1461.9,387.0 1559.0,369.0 1443.9,381.4 1374.0,436.7 1603.7,343.3 1532.1,334.3 1388.3,357.0 1633.2,274.6 1684.4,377.8 1429.4,415.9 1632.5,307.0 1533.7,343.0 1411.8,386.8 1436.5,360.8 1380.9,408.0 1449.7,321.1 1565.9,371.9 1422.8,349.5 1580.3,320.9 1361.9,405.6 1385.7,414.4 1393.5,304.9 1579.6,203.4 1614.8,318.0 1481.3,383.1 1483.7,378.2 1540.9,350.0 1616.9,352.9 1541.9,387.4 1605.0,300.4 1633.0,458.5 1579.4,400.4 1514.8,384.2 1407.8,410.1 1587.1,227.6 1617.7,407.6 1358.6,391.5 1364.3,359.5 1422.1,372.8 1476.5,345.0 1493.6,418.3 1657.4,291.4 1599.8,337.3 1397.3,438.8 1595.8,377.2 1613.2,328.3 1418.0,361.5 1360.7,290.7 1540.3,366.3 1509.3,368.0 1656.6,281.3 1574.1,318.7 1626.1,297.9 1587.0,389.2 1501.6,385.3 1599.3,384.0 1554.9,408.0 1407.5,464.9 1537.3,357.0 1531.0,369.5 1545.9,454.1 1677.8,381.0 1572.9,391.6 1598.8,270.8 1597.9,403.6 1608.4,272.5 1529.0,353.9 1426.4,415.3 1680.3,355.7 1494.9,277.0 1352.9,379.6 1392.4,385.5 1413.3,339.2 1374.6,351.4 1400.6,360.1 1569.3,285.6 1422.8,363.3 1427.1,279.2 1638.3,377.1 1373.9,471.2 1428.4,391.6 1548.1,321.1 1517.2,377.4 1511.0,391.1 1522.1,372.5 1393.5,406.0 1550.3,383.5 1426.0,365.9 1588.4,272.9 1514.0,309.4 1599.2,229.8 1453.1,360.8 1421.0,397.3 1567.9,274.7 1426.0,404.6 1615.4,292.7 1499.4,414.2 1587.8,292.4 1549.7,366.1 1546.2,348.4 1562.2,328.7 1551.0,339.2 1626.6,312.4 1520.7,315.3 1439.4,372.7 1686.1,395.7 1584.0,357.4 1635.8,358.8 1611.9,359.6 1551.3,293.2 1588.4,384.6 1368.9,335.5 1462.2,335.4 1643.4,285.7 1665.0,377.1 1581.1,348.6 1410.2,384.6 1670.5,320.7 1542.6,323.5 1459.2,364.3 1586.1,375.4 1463.3,348.0 1532.5,359.8 1454.9,498.6 1548.6,425.1 1599.0,403.0 1484.8,396.1 1615.0,372.5 1473.4,332.3 1569.8,467.9 1572.5,389.0 1572.3,431.8 1644.5,218.1 1440.8,353.6 1643.7,316.8 1653.5,298.2 1632.7,348.4 1436.1,390.7 1527.2,376.8 1542.7,358.1 1593.3,346.1 1499.8,374.8 1690.2,382.7 1469.2,391.4 1622.8,332.7 1643.5,341.8 1560.2,398.6 1644.1,253.2 1626.8,269.6 1529.2,323.0 1618.1,266.7 1445.8,383.9 1610.6,367.5 1346.2,350.7 1491.1,388.7 1507.4,292.7 1628.1,341.9 1679.4,389.6 1663.1,334.6 1527.2,417.6 1537.2,362.6 1364.3,347.7 1654.1,316.9 1499.7,365.5 1367.1,373.6 1569.0,356.8 1402.4,407.6 1469.5,440.3 1429.1,401.9 1656.5,388.6 1674.2,341.5 1591.1,390.9 1451.9,361.1 1534.3,343.7 1670.5,356.0 1539.4,362.5 1427.7,355.1 1557.0,304.6 1456.6,390.0 1585.2,309.7 1555.7,403.5 1538.7,318.7 1599.6,265.3 1545.5,346.2 1555.4,423.7 1526.5,309.2 1522.2,333.9 1487.0,332.0 1506.3,314.1 1399.5,375.2 1453.2,382.1 1599.8,382.4 1539.6,368.5 1638.2,283.8 1395.5,368.2 1611.9,364.5 1672.4,370.8 1575.4,385.1 1356.5,367.1 1601.7,273.1 1591.6,352.9 1401.5,413.1 1668.8,315.6 1452.1,333.1 1351.6,385.9 1447.9,385.1 1608.9,315.5 1581.7,326.4 1418.9,392.9 1518.8,370.0 1667.1,319.6 1704.1,327.7 1460.6,356.7 1633.0,333.8 1521.5,287.2 1639.9,370.0 1654.0,351.5 1617.7,327.3 1710.2,289.8 1629.5,264.7 1653.2,426.4 1508.0,357.2 1528.5,444.9 1604.3,284.2 1633.1,280.1 1631.1,314.7 1653.6,394.5 1383.8,337.5 1363.5,394.3 1576.2,350.4 1486.2,372.6 1459.2,382.9 1619.3,316.9 1470.4,340.6 1536.9,394.1 1484.0,306.9 1465.2,389.3 1563.3,354.8 1638.1,335.3 1593.2,357.4 1558.7,342.9 1432.0,402.7 1463.4,342.5 1621.0,386.3 1451.9,377.9 1442.4,414.3 1373.6,410.3 1344.9,347.3 1488.2,432.0 1532.0,362.8 1453.8,393.9 1485.0,403.0 1681.7,324.9 1394.8,372.2 1575.5,232.6 1524.4,300.4 1528.1,360.3 1650.9,296.4 1668.5,392.8 1534.4,356.6 1347.8,372.5 1478.9,374.1 1594.8,363.1 1381.7,386.4 1619.9,373.6 1471.4,372.3 1591.3,303.3 1533.1,368.6 1633.3,326.7 1462.1,358.1 1649.1,282.7 1632.1,373.5 1401.6,359.7 1489.8,421.2 1578.9,270.1 1385.9,405.9 1601.5,360.9 1455.2,488.4 1466.7,421.8 1558.1,343.1 1670.5,324.5 1380.9,424.9 1583.0,385.0 1456.4,403.5 1670.5,474.1 1485.3,376.3 1542.5,372.2 1609.3,402.1 1586.9,371.3 1418.2,398.9 1676.9,336.6 1576.4,283.9 1402.0,317.4 1691.5,293.5 1423.1,361.8 1409.4,195.9 1573.3,308.0 1347.5,400.4 1625.6,250.5 1344.8,370.9 1467.2,342.6 1537.3,338.4 1547.2,402.9 1694.6,360.5 1667.7,328.2 1601.4,409.0 1439.7,311.2 1600.8,398.6 1556.0,381.3 1569.7,317.1 1562.0,352.8 1591.0,390.9 1632.0,379.4 1593.2,311.0 1577.4,375.2 1650.1,433.5 1660.6,388.3 1478.1,369.8 1419.3,338.3 1520.0,320.7 1685.5,335.6 1720.2,275.9 1673.5,381.0 1548.3,346.6 1454.1,424.8 1549.5,210.3 1373.3,378.0 1579.7,384.0 1684.6,378.0 1364.1,416.4 1495.1,287.8 1680.3,355.2 1343.9,359.7 1452.0,326.3 1373.9,397.0 1702.2,276.8 1544.2,405.7 1513.9,348.6 1679.7,287.6 1563.4,444.6 1600.6,354.9 1667.1,363.7 1532.5,436.8 1487.2,345.1 1604.3,394.6 1498.8,324.0 1393.4,415.7 1396.2,306.5 1423.4,347.5 1374.2,381.3 1519.7,374.4 1642.6,245.0 1603.6,342.3 1601.0,398.3 1573.9,398.1 1468.2,345.0 1444.9,385.5 1570.0,287.2 1539.7,254.7 1561.3,429.3 1361.9,325.1 1561.2,420.4 1540.4,358.1 1556.3,397.8 1460.0,303.5 1440.0,398.6 1606.1,363.2 1417.0,403.7 1437.1,398.3 1579.8,324.3 1574.3,321.0 1569.7,399.3 1524.3,328.3 1556.8,266.2 1669.0,403.3 1466.2,373.9 1598.9,396.9 1390.9,294.4 1613.7,402.8 1636.6,344.4 1377.7,441.8 1496.8,386.8 1710.7,244.8 1626.7,339.3 1509.0,396.5 1560.5,337.1 1658.2,357.3 1467.6,382.0 1578.0,376.4 1578.9,374.2 1404.1,381.4 1437.0,397.9 1530.4,289.8 1461.0,322.6 1371.4,313.1 1625.7,318.2 1525.9,272.4 1570.7,313.1 1567.5,395.1 1489.9,388.2 1477.9,373.2 1556.1,358.0 1654.4,335.3 1605.3,289.4 1550.6,298.3 1521.0,381.1 1559.8,292.7 1488.6,279.9 1614.4,387.8 1491.0,287.3 1487.3,396.7 1573.4,369.2 1635.2,311.9 1579.1,323.1 1433.9,408.8 1669.3,315.3 1549.4,398.7 1570.6,391.0 1573.0,428.5 1394.1,448.4 1664.4,391.6 1482.5,368.0 1554.3,296.6 1655.4,313.4 1579.3,406.3 1667.4,311.7 1459.9,336.7 1450.8,395.0 1503.2,338.4 1437.5,412.4 1439.6,402.9 1648.3,402.6 1506.3,378.1 1445.3,307.0 1569.3,304.5 1664.2,358.0 1418.8,402.9 1641.6,314.3 1586.5,389.7 1668.0,303.6 1651.5,403.0 1482.3,337.7 1674.1,329.0 1525.7,358.3 1402.3,330.5 1458.7,416.3 1538.4,346.4 1685.2,359.3 1592.5,362.9 1557.9,370.5 1683.8,366.5 1557.2,344.2 1612.8,295.9 1663.8,343.1 1403.6,348.3 1668.4,264.3 1545.4,409.1 1587.4,312.2 1607.2,230.0 1359.5,357.8 1633.2,370.7 1445.3,375.5 1500.8,342.1 1547.8,416.7 1557.9,342.7 1395.6,402.4 1569.6,427.9 1601.9,411.1 1493.3,428.5 1582.5,384.3 1615.8,359.3 1548.1,371.1 1673.4,290.8 1548.9,405.0 1403.3,383.3 1379.6,404.7 1668.2,322.0 1357.7,355.5 1431.0,365.0 1407.3,274.9 1395.8,384.5 1442.1,415.0 1497.4,382.6 1539.6,314.4 1618.4,323.3 1522.6,355.9 1482.5,377.7 1543.2,379.6 1622.1,365.0 1378.9,357.3 1661.3,423.9 1660.9,371.0 1576.3,358.0 1659.9,286.0 1516.6,391.2 1464.3,400.9 1359.2,377.5 1621.8,362.9 1398.5,353.7 1661.8,303.7 1621.8,358.6 1435.4,321.2 1552.2,343.6 1584.2,326.1 1580.4,342.1 1670.2,300.8 1482.3,431.9 1550.0,367.7 1468.7,318.4 1370.6,375.8 1641.0,362.9 1589.5,364.2 1681.6,272.7 1440.5,363.0 1550.6,389.3 1591.6,466.5 1499.0,374.9 1522.8,318.9 1695.6,352.7 1560.3,274.9 1486.3,337.9 1586.9,374.4 1597.0,312.8 1677.9,324.8 1482.5,398.3 1559.5,341.1 1511.6,359.2 1530.0,376.4 1464.5,344.0 1686.7,301.3 1493.3,386.4 1649.9,317.1 1363.6,396.1 1397.9,476.7 1551.1,429.9 1616.2,407.8 1641.5,364.3 1385.4,335.5 1537.9,291.9 1593.8,343.6 1397.3,371.9 1621.4,352.0 1581.6,405.7 1383.3,358.6 1659.6,329.7 1593.8,336.8 1570.6,304.2 1557.8,296.2 1395.5,383.9 1391.0,374.0 1532.9,412.3 1638.4,270.3 1582.0,385.9 1648.0,315.7 1449.9,404.1 1620.8,306.1 1633.4,393.4 1583.6,324.5 1575.6,319.9 1473.5,215.3 1375.5,381.7 1597.7,307.0 1573.4,309.7 1608.0,275.6 1524.4,304.6 1592.0,372.0 1599.0,355.8 1490.6,384.7 1653.7,375.6 1391.2,377.3 1356.5,388.7 1485.2,411.2 1494.6,414.3 1440.2,397.6 1575.4,362.7 1444.4,333.6 1623.0,313.1 1589.1,351.8 1518.5,322.8 1364.3,410.8 1426.9,351.8 1569.5,315.4 1378.4,406.8 1610.9,373.9 1648.9,325.6 1530.3,309.6 1664.5,321.2 1594.1,412.6 1543.3,337.5 1428.4,415.0 1437.0,326.9 1466.3,407.6 1633.0,404.8 1412.8,271.2 1498.9,303.2 1648.8,292.4 1648.0,365.3 1495.9,374.1 1597.0,371.8 1523.8,371.2 1439.5,386.8 1388.9,418.8 1438.0,376.4 1450.8,397.2 1409.6,378.8 1406.4,375.4 1481.3,245.0 1433.8,380.6 1430.3,367.5 1391.6,418.1 1466.6,319.7 1600.5,220.8 1498.4,376.3 1684.3,331.9 1544.9,442.8 1534.5,378.6 1640.2,335.4 1684.3,462.5 1428.1,354.1 1392.9,397.3 1612.3,342.2 1529.2,388.5 1434.9,287.0 1418.7,394.5 1622.8,324.8 1627.3,341.9 1655.7,322.9 1641.8,388.4 1595.1,382.9 1545.5,409.7 1503.8,405.2 1697.0,380.4 1618.0,421.0 1365.1,333.6 1607.0,387.4 1392.2,382.6 1607.1,275.0 1666.9,291.5 1558.1,391.4 1533.2,277.3 1453.1,383.2 1657.5,244.5 1621.8,386.4 1653.1,254.5 1641.3,275.6 1462.9,412.1 1546.0,409.2 1490.6,390.4 1412.3,368.5 1554.8,425.8 1401.2,387.2 1526.4,355.3 1452.4,409.7 1655.8,346.0 1642.4,400.5 1620.1,330.2 1519.2,278.6 1485.9,353.9 1575.2,284.7 1348.3,325.5 1666.6,371.2 1520.6,386.6 1575.0,399.1 1562.9,320.5 1509.9,385.7 1661.5,325.3 1649.0,350.4 1692.9,365.1 1483.3,312.7 1631.3,307.2 1668.3,270.6 1595.8,287.3 1490.2,332.2 1381.2,345.1 1554.7,314.3 1451.7,388.3 1377.7,383.1 1417.7,418.9 1410.6,334.2 1572.2,382.4 1660.1,312.6 1671.0,340.1 1448.2,346.4 1409.4,393.3 1407.7,369.3 1532.5,394.2 1567.8,304.3 1394.2,384.7 1635.4,372.0 1612.9,394.5 1413.8,387.7 1482.7,389.9 1382.4,365.6 1456.3,455.0 1589.2,391.4 1622.8,412.5 1464.1,301.9 1566.7,433.9 1351.0,358.4 1533.5,318.9 1606.9,281.8 1635.1,346.6 1461.0,388.9 1635.5,281.8 1694.4,326.0 1636.4,353.8 1346.8,449.1 1439.7,385.4 1624.9,403.9 1500.4,438.1 1534.5,392.7 1379.7,413.2 1666.2,339.6 1719.1,313.8 1606.3,251.3 1391.7,393.8 1492.4,386.8 1394.5,321.0 1673.2,241.8 1455.1,390.5 1628.1,312.1 1635.0,286.4 1501.1,339.8 1546.1,299.9 1652.9,413.1 1445.2,321.4 1389.6,409.3 1529.5,409.8 1563.4,475.8 1457.9,360.6 1397.5,376.3 1580.5,371.5 1668.6,356.9 1664.5,400.8 1639.1,309.6 1375.3,320.2 1353.6,349.8 1581.7,380.7 1386.6,364.0 1348.7,368.6 1645.4,330.4 1501.6,333.4 1561.3,333.4 1549.0,315.1 1480.5,305.6 1626.5,294.4 1603.0,360.4 1655.1,297.4 1495.8,232.2 1598.8,369.9 1560.3,423.9 1613.4,361.4 1528.9,315.7 1617.7,258.9 1385.6,279.4 1679.3,384.2 1537.1,363.8 1710.8,303.2 1622.6,351.5 1659.3,275.1 1647.9,321.6 1538.5,394.6 1480.1,363.5 1627.1,392.3 1603.8,370.8 1537.9,351.6 1556.0,329.7 1548.1,343.5 1502.8,335.5 1638.6,467.7 1597.3,300.6 1557.5,375.6 1398.6,334.5 1367.0,369.0 1619.7,387.0 1507.8,375.1 1641.3,275.0 1687.9,289.4 1716.7,375.1 1669.8,328.3 1547.3,387.1 1438.5,383.9 1474.6,344.8 1439.1,382.2 1435.1,355.5 1420.8,405.4 1400.8,365.2 1576.4,347.0 1447.5,359.7 1358.3,393.2 1691.9,383.6 1574.6,381.7 1489.3,384.3 1352.5,414.0 1574.5,277.7 1471.8,344.6 1578.8,358.9 1486.2,318.1 1392.7,325.7 1359.0,304.0 1685.3,341.7 1387.6,396.0 1623.0,321.9 1517.7,410.0 1649.0,401.1 1349.1,422.0 1578.5,301.5 1640.8,316.0 1673.8,273.9 1601.1,398.0 1580.7,268.0 1431.3,476.5 1567.2,325.6 1636.4,334.2 1625.9,314.3 1440.5,423.0 1455.3,376.4 1411.6,359.2 1669.6,297.7 1411.6,309.8 1584.1,342.4 1541.5,382.6 1501.7,246.6 1618.5,388.7 1643.2,353.2 1664.6,347.3 1543.9,334.2 1457.4,277.8 1699.4,271.5 1489.9,344.0 1645.9,384.6 1558.1,371.3 1347.8,428.2 1691.1,396.6 1607.2,356.4 1675.4,307.3 1590.5,396.8 1527.2,356.1 1501.4,352.9 1367.1,393.6 1632.7,364.5 1603.3,370.9 1562.1,373.5 1501.9,283.2 1346.3,389.3 1380.6,379.0 1534.2,286.7 1441.5,363.3 1571.0,289.9 1421.1,322.4 1384.5,445.4 1389.1,353.2 1507.3,323.4 1548.5,345.1 1379.0,368.9 1657.3,395.4 1537.4,356.0 1511.4,344.5 1615.4,350.8 1580.5,381.5 1578.2,335.8 1600.8,392.1 1397.4,414.3 1527.3,391.3 1583.5,317.0 1615.9,249.2 1608.6,324.3 1668.6,331.5 1403.9,364.0 1386.6,422.3 1483.9,344.8 1697.4,384.7 1564.2,335.1 1501.2,401.9 1550.8,353.7 1596.0,330.0 1544.5,360.7 1686.4,458.8 1645.1,313.5 1585.3,348.4 1419.1,308.0 1610.7,397.4 1563.5,392.6 1455.6,341.1 1441.3,418.1 1653.8,350.0 1514.6,372.3 1457.2,416.1 1430.0,448.5 1673.1,340.4 1676.5,324.2 1396.8,449.5 1445.5,314.8 1450.6,336.1 1553.6,310.1 1628.6,272.8 1486.7,353.8 1508.5,497.0 1653.0,351.8 1590.0,405.2 1434.3,304.8 1663.1,358.8 1626.3,336.0 1412.0,389.5 1670.5,322.9 1520.0,390.7 1421.1,343.2 1361.1,420.9 1633.3,381.3 1521.6,396.4 1594.0,387.8 1435.6,390.3 1378.3,285.0 1623.8,344.4 1568.6,268.9 1646.3,289.3 1501.7,310.2 1399.1,384.7 1431.2,373.0 1389.7,358.8 1390.7,394.0 1640.8,376.9 1538.5,376.7 1618.8,393.5 1520.4,401.6 1598.4,273.7 1647.8,293.0 1498.3,365.8 1580.8,273.0 1540.7,340.0 1511.6,373.9 1584.7,354.9 1584.9,307.4 1570.7,401.2 1542.4,357.9 1383.2,371.6 1512.5,411.9 1425.3,371.5 1461.7,385.1 1635.3,294.5 1647.3,395.2 1645.3,449.1 1512.5,360.7 1417.6,341.2 1634.2,372.6 1627.2,268.3 1584.5,333.3 1387.2,331.8 1529.3,356.9 1567.3,291.5 1479.5,509.5 1549.4,283.6 1574.8,399.0 1421.8,361.8 1593.1,391.5 1628.8,249.5 1612.8,408.1 1637.7,373.4 1452.9,335.1 1469.0,304.3 1432.3,396.3 1413.4,350.2 1609.0,306.0 1508.4,316.4 1667.1,189.4 1433.1,424.8 1673.1,366.4 1480.6,334.9 1472.9,302.2 1464.9,319.2 1536.1,393.8 1627.3,361.7 1587.4,442.2 1566.9,422.5 1426.5,379.6 1496.1,482.4 1584.7,348.5 1595.5,394.7 1444.1,436.9 1626.9,310.1 1655.5,293.4 1664.5,394.7 1363.9,353.8 1549.0,257.3 1659.9,391.9 1659.0,230.8 1557.3,292.6 1639.1,342.7 1607.8,392.3 1620.8,350.7 1563.3,328.9 1592.9,411.5 1342.4,459.4 1676.8,372.0 1668.1,313.0 1484.3,328.2 1613.4,309.9 1562.9,364.5 1383.4,396.3 1546.7,331.3 1568.8,396.7 1500.9,411.7 1629.3,202.6 1592.8,310.7 1637.4,319.6 1494.2,237.4 1591.3,364.2 1631.0,328.3 1644.0,322.9 1567.7,368.6 1476.4,411.8 1517.4,317.8 1536.1,374.0 1655.3,368.9 1587.2,329.9 1582.4,386.1 1614.9,363.5 1400.4,341.0 1620.0,268.2 1572.8,298.1 1645.0,397.0 1580.6,283.0 1523.4,379.5 1427.7,455.6 1606.7,322.0 1707.9,314.8 1519.4,318.2 1610.7,324.6 1457.1,322.2 1644.8,282.0 1533.0,405.1 1634.8,324.7 1584.8,395.6 1581.6,295.7 1447.5,309.8 1451.4,441.0 1592.1,354.4 1479.7,354.8 1430.2,376.7 1656.3,295.6 1556.1,336.2 1563.3,345.5 1551.7,325.9 1600.8,357.4 1622.2,361.2 1431.6,296.0 1588.0,325.8 1632.9,362.6 1679.9,300.6 1707.8,313.4 1383.7,462.0 1565.2,368.5 1668.5,370.7 1399.4,328.3 1458.9,445.9 1599.3,436.4 1420.9,338.3 1688.6,221.7 1617.7,369.5 1667.4,250.8 1544.9,339.5 1450.9,381.6 1639.2,458.5 1387.5,405.8 1556.4,341.8 1516.8,391.5 1637.7,313.0 1643.7,435.5 1572.2,322.7 1496.8,432.8 1617.1,309.6 1566.2,312.1 1370.4,373.4 1393.9,357.2 1683.1,306.0 1601.8,330.6 1617.7,320.5 1594.4,306.4 1572.4,305.8 1681.3,296.1 1642.1,307.0 1589.3,309.6 1452.5,352.5 1541.9,289.3 1427.2,409.2 1674.0,291.2 1667.3,325.7 1343.4,436.9 1592.3,345.2 1592.0,341.4 1682.6,309.3 1501.9,408.0 1384.1,403.7 1480.3,390.4 1599.7,327.2 1614.4,348.3 1423.6,400.8 1653.9,361.7 1515.9,347.9 1548.7,285.0 1373.0,379.7 1626.2,270.8 1428.6,288.6 1454.4,305.8 1595.6,374.0 1558.7,281.4 1548.7,415.6 1553.4,360.2 1438.7,361.1 1589.2,326.4 1601.9,333.2 1602.8,393.1 1586.5,387.3 1544.4,393.6 1637.3,317.0 1659.2,404.6 1497.9,301.6 1490.3,334.7 1638.2,238.6 1571.4,382.8 1527.1,342.9 1689.3,399.0 1599.9,314.0 1525.3,345.0 1360.0,371.5 1610.2,378.2 1346.8,401.9 1500.5,393.1 1370.0,427.5 1593.3,265.1 1488.5,362.6 1524.3,377.4 1647.4,347.9 1586.0,244.2 1513.0,355.2 1494.4,312.9 1411.4,406.8 1435.7,330.9 1577.5,269.5 1651.6,332.3 1671.2,279.1 1366.1,374.9 1612.5,400.9 1378.1,396.8 1384.8,358.1 1429.1,370.8 1669.8,359.5 1414.4,449.0 1473.4,397.9 1541.9,425.9 1643.7,324.2 1503.2,368.9 1513.4,428.5 1590.0,398.5 1660.1,298.6 1713.2,346.7 1549.5,340.1 1577.1,279.4 1709.6,233.6 1582.5,358.8 1399.6,342.2 1432.0,399.4 1603.3,336.4 1583.3,321.2 1659.4,362.4 1550.1,383.2 1415.3,457.4 1594.4,409.6 1660.7,412.7 1666.1,351.3 1577.1,338.3 1670.9,392.2 1492.8,335.3 1554.7,299.2 1592.8,399.3 1469.2,425.3 1625.7,364.3 1482.1,392.5 1535.5,306.2 1626.7,420.4 1603.6,374.4 1682.9,330.8 1530.5,390.3 1415.4,392.3 1663.7,326.3 1575.4,388.5 1622.7,334.5 1569.2,365.9 1527.1,385.8 1562.1,303.5 1565.8,347.6 1441.9,379.0 1516.8,342.6 1499.7,398.7 1601.6,358.8 1695.9,355.0 1648.8,289.9 1540.2,340.2 1481.4,418.4 1558.1,269.5 1477.0,373.1 1678.1,375.2 1425.6,293.7 1539.6,323.0 1588.3,429.2 1577.1,312.8 1513.4,335.0 1499.5,396.7 1529.0,362.6 1481.8,335.5 1533.5,351.3 1419.1,429.8 1542.7,451.9 1641.9,346.5 1605.1,307.9 1484.4,345.4 1595.8,380.9 1544.6,338.8 1584.1,381.8 1663.1,359.3 1341.3,307.2 1394.9,361.5 1666.5,367.3 1604.6,450.7 1394.5,381.5 1632.2,349.3 1560.6,383.9 1386.2,391.7 1563.2,333.5 1417.8,362.7 1582.7,450.0 1542.6,365.8 1465.4,445.5 1488.7,446.6 1665.3,263.3 1357.2,431.0 1632.3,327.3 1524.0,345.6 1411.5,396.0 1472.6,310.7 1584.3,294.1 1455.8,360.5 1671.2,210.6 1581.0,393.1 1508.3,372.3 1436.2,310.7 1519.0,320.1 1505.7,391.8 1395.5,414.9 1403.8,288.0 1672.3,419.3 1540.0,362.4 1431.0,383.5 1407.2,347.6 1365.1,444.6 1616.4,336.8 1580.4,435.7 1456.6,369.5 1372.6,340.5 1541.3,338.6 1474.5,332.8 1576.3,363.6 1666.4,363.9 1530.1,434.0 1630.2,423.3 1484.0,389.5 1432.2,330.0 1462.3,347.7 1440.2,363.2 1606.7,204.3 1567.8,275.3 1571.3,412.9 1436.4,373.1 1412.2,341.6 1463.2,389.6 1464.2,355.9 1559.8,353.8 1363.9,352.7 1677.5,339.9 1617.1,428.8 1641.1,332.7 1587.9,396.7 1512.9,384.0 1542.3,351.5 1493.1,337.2 1626.4,395.4 1666.3,433.2 1664.4,310.4 1666.0,345.1 1562.0,482.8 1613.1,423.5 1684.6,314.6 1421.6,294.7 1438.9,401.5 1452.3,353.8 1391.9,324.3 1584.9,386.8 1577.9,440.3 1362.9,368.7 1607.0,373.9 1485.1,370.4 1593.2,374.5 1389.0,363.7 1670.7,337.6 1631.4,321.8 1628.5,281.7 1626.5,361.4 1467.9,385.1 1509.9,452.6 1492.4,357.6 1669.6,309.5 1605.2,245.4 1446.0,403.7 1498.2,426.6 1588.2,343.2 1610.4,379.0 1596.4,380.3 1615.7,376.8 1488.8,386.0 1406.6,381.2 1419.8,369.5 1467.5,262.0 1662.8,267.8 1637.8,326.7 1409.0,331.1 1514.0,358.2 1591.9,428.2 1459.7,379.8 1577.9,289.4 1660.8,348.7 1584.2,309.2 1647.7,232.1 1639.2,306.8 1417.6,417.9 1624.7,265.4 1587.6,330.7 1615.1,317.7 1519.0,284.5 1696.0,282.5 1659.4,388.1 1561.1,361.3 1718.5,203.0 1550.8,325.8 1507.2,360.8 1474.9,417.8 1625.1,348.0 1586.1,235.3 1687.7,297.4 1572.0,290.6 1703.9,281.7 1604.9,306.4 1347.0,368.2 1582.4,293.7 1594.8,335.2 1439.4,358.3 1594.1,333.6 1567.7,362.8 1520.3,403.9 1415.6,431.6 1521.9,287.6 1515.0,418.2 1567.7,333.9 1361.0,445.4 1666.9,350.6 1681.6,318.5 1595.5,385.2 1555.1,375.9 1390.3,337.1 1385.1,458.8 1343.3,308.4 1423.6,328.9 1651.3,307.7 1529.9,348.5 1411.6,387.7 1576.3,442.6 1661.2,280.4 1572.6,295.0 1510.2,353.6 1479.3,397.5 1421.5,384.5 1415.6,357.2 1611.1,347.6 1611.9,293.6 1518.5,371.4 1496.2,425.9 1686.4,293.7 1615.8,368.0 1651.8,366.3 1406.8,466.1 1395.5,388.0 1533.8,321.4 1577.8,396.1 1654.8,309.8 1592.4,379.4 1584.1,335.9 1495.9,295.4 1410.8,367.3 1486.4,419.1 1380.4,420.6 1589.0,340.2 1664.1,306.2 1511.1,247.8 1391.3,377.0 1547.9,337.8 1412.8,343.4 1524.3,437.1 1628.4,368.4 1524.1,410.0 1600.8,313.1 1544.6,325.5 1526.7,454.6 1458.6,372.2 1446.5,385.2 1464.3,316.3 1554.9,398.8 1347.9,433.8 1341.6,420.1 1405.9,392.6 1408.0,339.0 1382.9,398.3 1655.8,270.2 1510.6,323.4 1671.3,328.8 1619.6,403.8 1446.2,355.5 1614.4,265.3 1639.1,314.7 1616.0,419.0 1422.8,370.4 1428.7,369.1 1646.2,287.1 1548.3,417.2 1510.8,423.0 1403.0,372.4 1643.0,359.7 1411.5,422.2 1666.3,326.4 1530.4,360.1 1659.6,339.9 1445.5,396.0 1644.7,370.1 1622.0,309.5 1613.8,397.2 1530.5,353.4 1637.6,308.7 1583.6,239.0 1604.5,401.6 1483.3,391.5 1597.0,399.1 1687.2,427.8 1519.3,386.5 1431.1,419.0 1451.2,333.6 1613.2,335.7 1648.0,258.3 1656.0,299.5 1626.7,319.6 1581.9,373.1 1549.2,301.9 1662.6,337.9 1448.0,319.5 1457.3,384.1 1564.0,363.5 1524.2,350.5 1529.2,391.5 1529.5,356.3 1511.0,385.6 1603.3,391.1 1480.6,344.5 1451.3,451.8 1555.7,342.9 1629.5,351.4 1662.7,369.2 1581.6,369.6 1367.1,435.6 1670.3,366.6 1634.5,385.6 1348.9,430.3 1508.8,375.3 1626.6,337.8 1605.2,347.2 1615.4,360.4 1579.9,435.4 1511.0,389.2 1471.3,264.8 1522.6,377.3 1705.5,404.1 1587.8,341.0 1410.2,478.4 1590.5,230.3 1616.8,335.9 1530.4,367.9 1439.5,321.7 1611.4,365.4 1367.3,406.9 1477.5,474.3 1684.0,238.6 1569.4,388.2 1626.3,238.5 1628.7,345.2 1507.9,316.8 1664.6,346.8 1416.7,388.5 1586.1,364.8 1522.0,330.8 1655.4,362.5 1713.9,387.9 1567.0,402.3 1660.4,319.2 1509.9,432.0 1414.1,318.7 1557.7,398.7 1538.5,305.1 1668.3,336.5 1437.0,351.0 1367.7,330.0 1436.2,407.9 1645.2,405.9 1393.8,414.0 1530.6,473.8 1515.5,361.8 1559.6,363.3 1599.7,325.0 1421.2,435.1 1517.6,377.9 1607.4,268.6 1632.2,410.2 1490.1,283.5 1570.4,304.8 1688.0,333.6 1363.5,387.5 1634.1,398.3 1668.8,384.9 1400.7,394.6 1507.8,328.2 1606.7,316.0 1564.4,349.1 1549.5,390.0 1586.5,254.8 1585.7,406.6 1489.4,461.0 1398.7,298.7 1686.3,308.9 1360.2,411.3 1415.1,379.8 1342.5,419.5 1702.1,354.8 1548.7,331.0 1484.3,310.5 1472.5,450.3 1654.8,243.5 1667.8,277.5 1395.8,395.7 1508.1,296.8 1402.8,443.4 1378.7,428.3 1519.1,397.3 1381.8,438.5 1626.7,354.7 1406.8,398.8 1479.1,355.7 1484.2,293.9 1460.6,411.1 1666.8,379.7 1396.8,438.6 1534.3,370.2 1587.2,364.7 1547.7,366.5 1651.9,419.0 1547.3,361.1 1373.5,352.2 1671.0,293.7 1529.7,416.9 1564.2,381.8 1600.1,372.6 1670.0,331.4 1503.3,351.0 1402.9,412.3 1598.9,386.3 1533.8,305.7 1397.9,403.4 1642.2,257.2 1491.5,415.2 1374.5,349.5 1633.1,337.4 1547.0,387.9 1505.9,438.3 1621.4,277.2 1562.7,329.0 1458.6,366.1 1481.3,274.7 1664.7,378.2 1703.0,410.4 1488.3,319.9 1555.7,373.5 1584.9,310.6 1497.3,373.1 1615.7,387.7 1591.7,327.7 1577.0,206.4 1609.6,329.0 1641.7,274.0 1462.2,341.1 1470.9,430.7 1463.9,392.3 1551.7,312.1 1679.6,337.8 1505.2,257.0 1468.2,427.7 1657.3,231.6 1697.0,270.0 1659.4,361.6 1431.6,363.0 1606.2,358.8 1415.8,384.6 1672.5,362.2 1546.0,393.9 1601.0,330.4 1457.8,403.3 1451.4,449.4 1552.3,364.8 1480.9,319.1 1569.3,295.5 1392.3,395.6 1406.1,443.5 1508.5,372.8 1461.3,224.7 1492.8,331.5 1385.5,419.5 1442.5,355.4 1565.3,359.4 1570.9,294.0 1390.7,402.2 1629.8,365.4 1593.4,313.1 1628.4,303.2 1635.7,324.5 1593.4,300.8 1378.8,362.3 1648.7,360.8 1602.6,390.7 1640.3,369.8 1557.0,336.9 1583.2,484.0 1421.3,339.0 1590.7,370.4 1435.4,231.0 1578.9,367.7 1675.3,303.4 1425.1,469.1 1575.5,465.5 1651.6,342.1 1557.3,351.3 1460.9,251.7 1689.0,223.9 1678.7,368.2 1554.5,324.5 1684.4,340.6 1667.6,348.7 1415.1,401.3 1664.2,342.0 1510.8,410.2 1574.9,304.9 1555.2,285.8 1386.4,396.1 1515.0,333.1 1656.0,368.1 1546.0,349.8 1464.7,398.2 1636.8,278.1 1531.9,314.1 1535.9,399.5 1423.8,381.9 1430.2,311.1 1551.1,313.2 1497.7,275.4 1601.5,412.7 1570.8,329.1 1661.7,309.5 1509.3,379.2 1450.7,379.6 1489.8,380.2 1527.5,324.9 1493.9,428.0 1586.9,387.7 1639.6,304.1 1405.2,376.5 1411.5,404.1 1410.0,412.2 1527.8,257.2 1629.4,346.8 1665.6,383.2 1480.1,334.6 1510.4,378.2 1654.1,379.6 1642.6,409.1 1400.5,402.4 1474.6,448.3 1511.9,380.3 1436.4,414.4 1659.2,276.7 1546.2,350.5 1628.3,332.9 1574.4,394.6 1708.3,325.2 1388.4,396.4 1629.2,358.6 1341.6,399.5 1656.1,383.8 1597.6,357.0 1359.9,446.7 1377.7,470.0 1460.9,354.6 1364.8,390.6 1640.4,446.2 1640.0,351.0 1588.7,349.9 1436.5,343.8 1445.6,401.8 1590.2,379.8 1382.9,421.3 1584.9,365.1 1460.9,229.0 1592.6,374.0 1535.8,327.7 1585.3,314.7 1544.8,345.4 1365.0,392.5 1561.1,340.8 1646.0,391.2 1604.3,307.9 1530.6,402.1 1549.3,290.6 1697.7,284.6 1502.4,393.6 1398.3,401.0 1614.4,320.5 1570.2,347.3 1471.8,328.4 1529.4,376.2 1660.9,359.8 1542.7,393.0 1587.5,400.7 1670.9,318.6 1359.1,366.4 1551.3,363.9 1656.8,375.0 1549.8,415.6 1461.9,294.0 1719.9,347.3 1679.6,377.2 1394.8,332.1 1644.1,368.4 1546.3,448.9 1375.1,331.2 1390.7,370.7 1468.1,341.7 1560.1,314.3 1419.2,367.9 1499.7,338.2 1606.5,382.7 1598.3,388.0 1552.6,344.8 1472.2,410.0 1594.0,298.1 1591.9,379.3 1636.3,374.2 1669.6,298.3 1531.8,331.3 1552.6,358.8 1453.5,330.8 1384.5,357.1 1565.9,310.8 1696.6,341.3 1590.2,316.8 1534.6,328.3 1594.0,380.5 1502.4,414.3 1397.4,354.3 1602.1,381.0 1477.2,398.4 1681.0,354.7 1565.1,324.5 1544.9,315.8 1524.1,333.4 1586.2,367.5 1435.7,390.3 1443.4,388.8 1683.6,334.3 1645.5,362.5 1480.6,352.9 1661.7,257.9 1651.6,376.0 1405.1,351.5 1554.8,367.7 1616.1,326.6 1586.5,326.1 1679.2,368.6 1539.6,348.6 1644.5,366.5 1505.9,403.9 1475.1,334.7 1548.7,353.5 1581.4,323.1 1523.6,325.6 1344.3,363.0 1379.1,378.2 1374.3,400.8 1638.4,413.0 1636.5,431.8 1565.1,273.2 1502.6,386.9 1580.4,338.9 1508.9,353.9 1454.7,398.5 1691.4,249.9 1446.0,289.4 1455.8,394.4 1679.3,358.0 1497.3,346.5 1469.8,316.9 1428.1,348.3 1654.6,368.3 1614.1,353.3 1533.2,407.8 1362.1,314.7 1397.9,362.3 1578.7,424.7 1412.9,428.8 1603.6,337.3 1457.4,456.0 1503.6,389.8 1381.8,323.2 1593.4,333.4 1607.6,384.6 1402.9,386.8 1612.5,332.4 1451.4,357.0 1447.4,352.3 1454.6,352.0 1383.1,328.7 1401.1,377.9 1610.8,226.2 1393.7,330.9 1563.4,417.5 1682.9,419.7 1645.9,298.1 1536.6,426.5 1609.8,342.0 1701.4,386.0 1539.3,314.0 1639.8,267.3 1583.7,300.8 1702.5,282.0 1547.4,441.4 1417.5,406.7 1570.4,328.5 1494.4,417.3 1581.8,414.7 1610.5,409.5 1669.9,363.4 1651.3,329.5 1704.1,363.9 1593.2,360.3 1404.5,379.4 1496.9,366.4 1577.7,356.0 1612.5,260.6 1368.6,391.1 1451.5,399.4 1545.9,345.5 1697.0,402.4 1591.3,356.2 1409.1,432.8 1541.6,383.5 1539.9,316.6 1489.0,309.0 1612.6,332.6 1669.3,350.4 1405.6,381.6 1531.0,382.8 1677.4,290.1 1592.0,393.2 1669.3,375.3 1384.1,477.0 1648.5,256.2 1676.9,329.9 1574.6,295.8 1587.9,348.9 1495.0,306.3 1548.1,383.3 1543.3,364.2 1545.9,417.6 1467.5,331.6 1624.2,290.9 1571.1,396.4 1559.5,411.0 1593.0,318.8 1519.3,410.3 1621.4,243.9 1541.7,415.8 1540.6,386.6 1597.1,424.6 1634.9,293.7 1444.8,396.7 1421.5,377.2 1400.7,390.3 1585.4,376.8 1447.4,428.0 1675.3,260.7 1604.3,350.7 1676.8,369.9 1390.2,313.5 1612.8,355.2 1655.1,339.9 1628.9,344.3 1467.0,298.9 1417.5,400.3 1582.0,353.9 1424.5,344.8 1376.9,366.1 1368.8,346.4 1657.9,220.0 1656.8,307.1 1558.4,350.0 1545.1,288.6 1671.7,388.6 1514.3,394.6 1475.3,332.4 1396.3,379.5 1661.3,387.4 1639.8,352.4 1685.7,364.7 1360.4,326.1 1552.6,386.0 1465.5,392.9 1538.5,367.9 1496.8,394.2 1413.0,414.1 1611.6,335.8 1642.7,334.6 1501.7,277.8 1555.0,408.2 1638.9,284.5 1569.1,302.7 1537.8,377.9 1622.5,277.6 1592.2,280.4 1693.0,355.7 1550.7,302.8 1532.2,414.1 1628.7,299.6 1529.5,345.1 1514.6,363.4 1611.6,376.7 1475.2,352.9 1437.7,394.3 1491.2,366.1 1551.6,297.0 1688.5,317.5 1656.4,334.7 1505.8,313.8 1596.9,366.7 1389.5,432.3 1664.7,290.3 1447.2,444.4 1546.8,312.7 1586.4,369.3 1416.7,367.7 1683.7,410.4 1533.0,288.3 1413.5,408.8 1620.0,335.9 1493.3,361.1 1665.8,323.7 1470.7,448.6 1549.0,367.0 1471.7,373.1 1627.1,382.7 1431.1,427.2 1650.6,388.1 1614.5,319.5 1385.6,289.9 1587.6,331.5 1717.7,427.2 1559.0,340.9 1436.4,357.2 1610.8,357.5 1526.5,364.7 1515.3,430.4 1602.6,436.1 1654.5,315.8 1639.0,342.4 1634.0,317.6 1505.4,371.8 1470.5,363.4 1663.7,352.9 1636.4,379.0 1610.0,368.0 1627.3,397.6 1588.0,339.4 1563.2,432.6 1558.3,229.5 1489.5,347.5 1553.4,408.0 1394.5,348.7 1685.9,347.1 1434.1,433.0 1551.6,349.8 1598.2,371.8 1539.7,436.8 1525.3,360.5 1580.0,336.6 1588.6,378.4 1519.3,405.0 1668.0,253.0 1442.6,408.1 1648.4,377.7 1559.4,341.8 1570.7,366.3 1567.6,357.7 1586.7,267.6 1621.3,350.0 1494.5,236.8 1458.2,369.3 1569.0,381.0 1624.0,311.2 1429.1,388.4 1641.2,302.7 1587.7,230.5 1381.7,346.6 1644.0,378.0 1483.3,367.8 1566.1,369.0 1480.5,383.4 1408.1,385.7 1508.1,343.8 1341.9,381.2 1497.1,430.6 1590.4,282.2 1699.9,407.9 1618.8,335.3 1521.8,400.8 1681.7,381.6 1380.2,331.6 1542.1,366.6 1524.7,372.3 1571.7,307.2 1640.8,368.9 1495.1,421.1 1571.7,452.5 1585.4,295.9 1628.9,391.6 1657.0,293.6 1406.8,428.9 1519.2,436.9 1541.1,345.9 1368.0,365.0 1395.8,423.1 1503.2,408.4 1525.9,304.5 1507.5,234.4 1472.2,336.9 1537.2,359.4 1388.8,382.2 1644.2,382.4 1451.7,391.5 1406.0,412.6 1578.8,335.8 1604.1,292.6 1383.0,313.1 1485.5,362.7 1508.4,390.9 1647.2,388.7 1344.1,326.0 1488.0,392.9 1476.6,324.8 1522.2,380.1 1552.2,374.5 1641.8,356.5 1670.6,316.6 1431.6,387.0 1376.3,301.8 1586.6,321.0 1603.4,352.8 1515.1,379.4 1509.3,360.1 1629.6,263.8 1616.8,336.5 1392.6,306.4 1670.3,299.9 1658.2,386.0 1655.7,247.5 1662.1,365.7 1594.0,409.9 1624.6,333.6 1470.6,320.7 1640.3,322.1 1581.0,285.0 1665.4,307.0 1675.6,321.1 1530.6,341.9 1452.9,307.3 1552.6,347.4 1361.9,402.9 1671.6,358.6 1684.2,288.0 1441.6,350.5 1665.0,260.4 1510.4,362.5 1693.1,303.6 1370.9,334.4 1625.1,351.6 1585.1,359.1 1495.3,395.2 1629.7,366.8 1660.2,321.2 1488.7,425.6 1545.4,377.2 1491.6,362.0 1490.4,330.7 1580.8,309.2 1656.8,341.5 1546.8,348.9 1358.7,441.6 1605.4,344.0 1488.6,332.8 1498.4,372.2 1544.5,353.9 1521.9,382.4 1512.0,456.8 1548.1,365.4 1378.0,414.2 1463.7,368.5 1480.9,454.1 1402.3,386.1 1600.9,420.5 1681.6,282.6 1661.4,291.3 1546.9,271.5 1619.8,303.3 1656.5,367.2 1628.1,278.9 1503.9,346.9 1610.9,411.9 1383.0,331.5 1687.2,332.5 1458.1,367.0 1426.9,373.5 1506.0,387.1 1626.8,311.2 1442.5,341.9 1698.0,276.9 1436.5,411.4 1510.4,358.6 1545.1,420.1 1522.0,291.0 1701.3,340.4 1453.3,356.8 1462.8,465.4 1386.1,393.8 1550.5,398.8 1454.1,260.2 1489.2,300.4 1651.6,331.1 1580.7,329.2 1653.5,359.8 1574.1,404.9 1692.2,268.2 1546.9,323.8 1660.9,220.8 1636.9,354.1 1694.3,368.4 1397.7,392.8 1427.8,449.1 1481.8,379.0 1655.5,357.6 1559.6,378.1 1596.2,351.4 1512.6,375.4 1528.3,287.5 1428.6,327.0 1371.2,344.3 1669.7,376.1 1650.3,340.9 1446.6,361.3 1475.2,323.3 1354.1,352.3 1412.6,365.1 1549.1,349.4 1646.0,395.6 1397.1,356.9 1589.7,277.7 1402.0,390.9 1437.8,365.5 1640.7,382.5 1538.7,346.4 1617.9,319.8 1547.3,365.7 1532.4,325.3 1651.0,349.4 1587.9,274.8 1651.2,356.3 1601.7,341.1 1550.0,326.6 1652.5,362.5 1585.2,374.5 1690.1,302.4 1646.7,355.5 1557.9,444.2 1577.6,331.9 1413.6,384.3 1642.1,418.6 1458.8,427.5 1542.9,317.4 1425.3,397.1 1665.9,281.4 1542.5,447.2 1650.0,392.1 1406.9,426.8 1484.2,271.7 1396.0,353.9 1482.9,345.8 1520.5,350.5 1628.2,349.1 1615.2,387.9 1607.9,254.5 1645.6,307.1 1516.0,338.9 1684.1,234.2 1472.5,385.9 1393.2,355.4 1666.4,266.0 1471.8,311.6 1520.0,271.1 1583.3,360.4 1672.0,323.3 1521.0,262.2 1466.2,371.8 1583.0,335.1 1570.3,365.5 1374.8,345.7 1501.3,418.9 1389.3,402.8 1458.1,399.1 1614.4,388.6 1412.4,401.7 1539.3,359.1 1598.5,318.1 1376.1,358.0 1596.6,318.5 1561.0,274.5 1378.4,414.4 1440.9,383.7 1650.7,321.2 1511.9,404.4 1672.2,379.8 1420.6,332.4 1612.6,313.4 1446.0,413.4 1493.8,377.2 1441.3,329.3 1686.4,298.7 1631.9,340.5 1579.1,374.4 1463.7,378.0 1652.0,331.8 1395.1,418.9 1596.9,397.8 1627.7,411.5 1586.4,357.9 1510.3,380.7 1456.6,372.5 1425.1,359.2 1568.8,374.6 1469.2,343.0 1396.0,308.0 1644.3,301.6 1561.0,337.0 1429.6,281.8 1585.6,401.2 1440.9,390.5 1590.6,359.9 1577.5,394.8 1635.3,356.1 1646.5,370.8 1606.4,345.3 1390.5,369.2 1506.0,302.6 1697.0,378.6 1409.5,447.7 1576.7,320.6 1380.4,488.4 1571.4,331.3 1460.7,374.9 1526.8,347.7 1425.7,328.0 1580.1,366.1 1546.8,373.0 1591.0,401.5 1716.4,308.9 1459.5,400.5 1544.0,298.3 1607.0,316.0 1559.0,308.3 1462.4,293.0 1591.7,276.4 1414.4,444.2 1544.9,289.5 1583.3,345.0 1484.7,364.5 1616.7,306.0 1505.0,354.4 1514.7,263.9 1592.5,296.2 1468.3,431.5 1525.3,383.2 1521.6,385.0 1393.1,354.9 1510.6,299.2 1553.0,348.1 1429.8,404.4 1359.4,325.3 1579.6,293.3 1429.9,338.1 1626.2,244.2 1477.8,341.4 1568.0,392.2 1571.2,411.4 1543.3,306.4 1623.2,404.6 1585.4,372.7 1515.1,290.0 1601.1,440.8 1541.5,369.3 1384.6,337.3 1393.0,393.3 1393.9,392.0 1616.8,329.0 1647.5,374.5 1580.0,310.3 1532.2,455.7 1618.6,392.2 1670.2,305.4 1579.4,266.3 1540.5,334.8 1598.7,392.7 1591.3,263.9 1506.7,339.3 1493.7,368.0 1513.7,389.0 1574.6,383.6 1542.4,399.7 1613.2,364.3 1485.6,381.3 1547.4,319.7 1397.4,391.0 1347.1,398.9 1353.2,405.1 1627.5,308.5 1536.0,344.0 1385.2,387.4 1618.4,353.6 1513.2,316.5 1458.8,368.4 1425.5,365.4 1505.7,303.1 1616.3,322.6 1532.1,325.4 1554.5,319.2 1691.2,347.3 1455.2,421.2 1574.2,361.1 1553.4,286.0 1483.9,363.5 1667.1,449.9 1586.8,363.9 1427.7,356.6 1381.8,349.1 1533.0,386.9 1403.6,339.4 1518.9,323.5 1439.5,451.3 1416.4,375.4 1599.9,469.4 1407.5,384.5 1657.7,354.7 1515.3,356.8 1569.3,342.4 1651.7,343.8 1571.4,333.5 1666.2,372.9 1467.1,335.1 1591.5,335.9 1607.8,332.6 1633.3,379.1 1640.6,271.0 1454.4,385.5 1545.0,325.2 1568.0,334.4 1552.9,430.6 1648.1,324.8 1433.3,335.2 1676.8,411.7 1508.4,313.5 1472.3,456.1 1462.8,366.7 1560.0,406.5 1455.9,405.2 1515.7,366.3 1589.8,382.7 1565.7,346.8 1672.9,281.2 1594.5,351.2 1452.4,404.9 1441.9,358.5 1554.7,325.1 1655.1,357.6 1424.0,317.3 1405.4,293.5 1374.1,339.3 1370.8,355.0 1361.5,424.6 1532.6,442.5 1413.6,289.5 1622.4,292.6 1664.5,242.5 1350.1,403.4 1662.2,427.9 1577.0,316.6 1547.1,399.2 1469.1,393.8 1709.8,244.3 1379.7,335.7 1531.5,364.5 1413.8,398.1 1527.8,339.3 1358.8,370.1 1588.4,321.4 1604.5,445.0 1626.2,318.3 1381.1,319.8 1503.5,385.5 1343.1,383.6 1440.6,380.7 1586.4,276.8 1529.5,458.7 1660.2,262.4 1653.6,297.7 1413.6,352.6 1632.7,292.5 1548.8,281.0 1504.6,372.6 1525.5,299.6 1373.2,413.3 1650.4,344.6 1621.7,260.2 1407.6,394.6 1608.4,413.3 1509.2,370.0 1622.6,361.6 1407.1,381.9 1606.5,340.4 1643.3,340.8 1485.1,457.1 1595.3,334.6 1491.3,381.9 1596.5,327.3 1453.6,321.9 1677.4,394.9 1591.6,336.4 1661.9,392.5 1636.7,430.1 1496.4,335.8 1570.9,404.4 1653.4,323.5 1458.3,420.3 1470.7,364.3 1575.3,373.3 1475.4,355.6 1494.0,406.5 1475.2,423.5 1634.0,369.6 1553.3,295.6 1475.2,290.7 1395.2,454.4 1393.3,415.6 1555.8,347.6 1534.2,354.0 1554.2,366.9 1570.2,433.8 1572.3,326.7 1600.7,404.2 1396.7,344.7 1624.5,324.7 1663.9,371.3 1539.2,278.4 1663.1,439.0 1609.6,360.5 1639.7,339.7 1576.3,345.4 1350.5,384.3 1428.9,351.4 1393.9,217.3 1529.3,366.1 1376.1,387.1 1541.9,361.7 1613.7,431.0 1580.5,340.9 1416.1,449.0 1607.8,373.4 1639.4,239.7 1492.8,403.5 1526.1,347.4 1694.5,317.0 1391.8,351.5 1595.5,340.7 1682.6,237.7 1559.4,362.8 1651.9,371.2 1478.0,289.5 1544.2,373.4 1564.2,421.7 1535.9,403.5 1676.8,331.7 1390.3,445.1 1425.3,385.9 1695.9,316.4 1575.5,277.7 1585.1,341.3 1703.5,402.2 1500.7,379.3 1686.7,269.5 1463.5,319.8 1464.8,373.8 1489.4,359.8 1643.3,282.0 1465.9,319.5 1478.4,385.6 1379.9,382.1 1441.2,441.9 1586.9,398.0 1597.2,384.3 1573.9,355.3 1432.4,405.9 1542.3,269.3 1656.4,348.6 1570.0,332.8 1548.8,253.8 1627.4,336.3 1461.2,368.0 1418.6,353.7 1565.8,333.9 1674.8,186.9 1665.1,300.1 1667.8,323.1 1581.4,351.5 1559.2,365.5 1481.6,377.9 1664.5,380.7 1669.0,333.3 1557.2,326.4 1625.2,346.0 1492.7,364.2 1491.9,368.8 1373.2,370.3 1410.4,432.6 1388.0,449.4 1699.9,254.1 1583.3,394.7 1640.1,229.8 1470.0,332.7 1656.0,381.1 1608.0,320.8 1400.3,382.0 1621.3,328.6 1385.3,422.3 1578.5,415.7 1633.5,443.0 1676.9,326.4 1684.2,376.8 1699.9,339.9 1617.4,356.5 1594.9,307.9 1660.4,304.5 1649.8,375.9 1707.9,289.1 1511.1,387.6 1542.3,352.3 1717.4,335.3 1554.6,289.8 1574.1,460.8 1409.0,298.7 1616.0,308.5 1622.1,441.5 1358.1,355.5 1490.3,444.4 1515.7,358.4 1548.5,380.4 1526.6,320.3 1551.7,371.0 1642.8,345.8 1620.7,361.5 1637.1,396.4 1571.0,373.5 1498.4,439.1 1366.2,375.2 1655.1,381.7 1515.7,375.0 1615.1,325.4 1607.9,285.5 1463.3,343.6 1600.5,346.7 1615.1,364.6 1535.2,308.9 1465.2,359.6 1557.4,353.7 1640.8,279.8 1407.8,381.0 1599.7,347.6 1534.5,362.3 1424.1,283.2 1464.6,342.9 1649.9,329.6 1457.4,284.0 1544.4,376.6 1563.5,320.8 1638.9,353.7 1436.6,378.6 1638.3,348.6 1707.2,268.6 1462.1,360.1 1633.2,410.6 1421.0,320.4 1493.9,379.5 1714.9,281.1 1590.7,352.4 1586.7,317.9 1532.3,339.3 1642.0,340.6 1685.5,370.9 1489.1,398.0 1663.7,396.1 1573.2,370.3 1691.6,273.3 1508.5,423.3 1511.8,329.6 1577.7,358.7 1464.6,365.1 1424.9,373.1 1561.4,326.0 1532.9,219.2 1572.6,372.6 1545.3,398.7 1365.3,348.8 1552.7,370.7 1540.9,379.4 1509.9,345.9 1525.1,406.2 1419.6,397.7 1627.6,248.1 1433.4,379.8 1552.8,327.4 1349.8,329.8 1648.7,408.2 1546.4,378.7 1550.9,363.7 1590.6,340.5 1514.1,367.3 1486.0,410.5 1658.9,373.7 1511.6,385.5 1615.0,383.8 1551.2,354.8 1572.8,394.4 1578.8,356.2 1686.2,332.0 1715.3,351.4 1551.1,376.9 1678.1,318.5 1382.4,373.3 1421.6,360.4 1508.9,421.4 1417.9,331.5 1537.0,395.3 1554.9,354.4 1595.6,342.6 1552.1,399.4 1533.3,363.6 1393.6,488.3 1658.4,290.7 1526.7,336.6 1524.1,367.0 1575.2,293.9 1541.4,333.7 1671.6,378.1 1639.1,387.5 1556.6,385.3 1422.9,409.3 1380.1,388.7 1606.0,300.1 1341.6,394.3 1594.4,260.8 1358.0,396.6 1417.2,428.0 1653.2,337.4 1403.7,419.3 1603.2,378.9 1516.7,374.9 1549.8,335.2 1398.1,397.1 1602.6,384.1 1586.3,452.8 1624.9,356.7 1369.9,370.3 1629.4,389.5 1496.5,344.8 1504.9,371.3 1611.8,375.7 1595.0,308.9 1647.5,282.6 1552.4,396.6 1658.8,365.0 1543.7,371.0 1547.9,297.9 1453.0,367.1 1586.2,439.8 1518.5,334.6 1615.4,356.3 1510.9,362.1 1683.3,377.5 1470.2,383.9 1427.0,306.5 1695.2,355.8 1403.4,472.2 1665.5,379.2 1477.2,363.7 1456.0,285.3 1545.5,396.7 1543.0,358.8 1592.1,325.5 1539.5,314.2 1432.3,467.2 1548.1,364.9 1404.7,390.6 1502.9,414.5 1420.9,373.8 1551.6,375.4 1699.3,306.7 1677.8,341.9 1599.1,293.6 1548.8,316.4 1540.1,305.2 1542.8,372.1 1383.0,424.5 1489.2,274.7 1374.8,420.1 1548.3,379.0 1504.2,304.2 1348.5,371.2 1403.8,312.8 1455.9,373.5 1639.6,287.9 1645.6,381.2 1412.9,368.5 1543.7,417.0 1602.0,312.5 1593.5,287.5 1550.1,367.9 1521.6,395.1 1519.9,348.5 1413.0,439.8 1407.6,343.8 1537.2,353.5 1659.6,247.9 1689.1,221.3 1388.3,308.0 1669.6,361.6 1555.8,337.5 1645.2,409.3 1496.0,395.2 1490.9,366.3 1604.8,509.3 1506.0,372.8 1537.3,308.2 1685.4,238.8 1646.6,445.4 1376.8,432.6 1416.6,298.2 1416.9,383.0 1584.4,300.7 1406.3,362.1 1594.2,352.0 1630.0,443.6 1412.3,342.0 1497.3,382.1 1551.6,380.0 1494.4,310.9 1458.8,406.5 1489.3,387.7 1474.8,393.7 1509.6,343.0 1488.5,311.8 1568.5,367.6 1422.9,410.5 1703.3,360.6 1657.6,342.0 1462.0,313.2 1483.3,326.3 1571.9,336.1 1588.6,324.6 1694.3,381.3 1487.0,288.0 1600.4,368.9 1473.2,360.2 1597.2,372.7 1500.3,367.9 1630.3,270.4 1636.1,356.2 1586.2,309.2 1446.5,357.7 1518.6,335.1 1555.9,318.9 1553.9,361.2 1554.2,373.3 1489.5,377.2 1556.6,365.4 1523.9,349.8 1635.3,250.3 1515.0,386.0 1504.2,341.5 1648.7,399.4 1615.7,358.3 1547.5,258.5 1709.5,332.0 1546.9,324.3 1710.2,339.9 1570.0,352.7 1471.2,291.8 1482.9,413.3 1532.1,330.0 1408.5,367.2 1489.5,333.5 1514.7,445.1 1585.4,408.6 1624.6,293.5 1579.7,309.8 1713.0,368.8 1414.8,317.7 1387.8,368.5 1506.0,361.9 1622.1,273.2 1664.8,241.2 1547.4,389.9 1407.4,434.8 1343.5,377.9 1399.1,418.2 1653.8,344.6 1635.5,363.6 1400.1,410.5 1450.0,344.8 1502.0,378.3 1535.5,388.6 1473.6,398.7 1533.5,365.7 1683.0,374.5 1392.9,405.8 1664.1,311.3 1442.1,408.8 1402.5,382.3 1400.0,395.7 1580.3,417.3 1673.4,366.9 1410.2,166.0 1713.4,317.9 1592.8,375.7 1503.4,400.1 1567.0,418.6 1588.4,368.6 1573.1,362.2 1565.5,401.7 1606.2,373.5 1648.3,318.5 1641.1,299.6 1395.5,398.3 1554.6,321.3 1629.7,402.7 1400.5,266.5 1650.4,321.6 1548.1,366.2 1678.5,341.8 1658.5,361.9 1678.7,453.4 1402.4,376.6 1660.7,299.0 1436.7,309.7 1441.8,354.4 1503.8,429.1 1653.0,402.3 1661.3,377.6 1527.8,442.3 1571.0,365.0 1576.5,254.6 1433.8,346.3 1364.7,352.5 1661.0,396.4 1413.6,383.5 1362.9,445.6 1396.1,403.2 1512.6,370.6 1568.3,362.1 1595.5,358.8 1465.0,410.9 1404.8,355.9 1385.3,389.0 1635.6,400.3 1610.8,306.1 1371.8,451.1 1539.4,372.6 1680.8,448.2 1611.9,332.1 1650.4,333.0 1501.0,321.7 1694.7,295.9 1574.5,289.2 1403.8,432.1 1581.4,372.2 1473.5,383.9 1704.4,328.7 1531.5,335.2 1560.3,313.3 1416.9,293.1 1599.3,415.1 1434.2,315.1 1570.2,314.6 1700.1,404.0 1527.6,317.9 1615.2,310.6 1453.0,430.3 1411.3,351.2 1496.9,301.1 1525.3,277.9 1533.3,382.3 1581.4,293.5 1541.1,328.6 1610.7,384.0 1641.6,406.0 1582.2,400.3 1474.2,399.9 1521.5,396.3 1522.0,396.3 1463.9,392.6 1459.5,382.8 1653.9,356.9 1366.8,409.8 1637.8,305.1 1635.3,357.4 1565.7,347.5 1651.9,296.5 1587.9,358.3 1489.0,453.4 1673.9,295.0 1415.2,420.6 1635.9,409.1 1547.8,328.8 1625.3,344.6 1642.0,364.1 1384.5,390.7 1386.2,393.1 1518.7,434.7 1652.4,359.7 1355.8,467.6 1470.3,338.8 1495.7,269.0 1605.1,327.5 1524.4,305.7 1476.1,314.4 1627.8,352.3 1636.2,308.0 1608.8,332.7 1676.5,298.2 1504.7,381.3 1626.2,375.9 1608.2,304.7 1473.0,327.7 1669.7,334.2 1589.0,243.4 1562.5,418.3 1622.3,382.7 1545.4,343.0 1645.3,379.9 1445.3,411.5 1582.9,327.6 1627.5,324.3 1699.6,239.3 1641.3,304.7 1580.9,335.9 1599.5,387.6 1495.0,345.0 1535.7,320.5 1629.8,345.9 1623.5,208.6 1651.9,332.7 1601.3,251.6 1632.0,351.6 1492.4,251.3 1686.9,330.9 1496.0,322.2 1368.7,326.1 1428.0,299.8 1469.9,378.4 1599.6,325.8 1481.6,261.1 1542.6,383.1 1617.9,267.9 1669.9,333.1 1467.3,295.7 1554.2,296.0 1529.9,417.5 1505.1,380.5 1485.8,316.6 1627.6,390.7 1680.4,250.9 1511.6,413.6 1664.5,302.1 1558.1,359.0 1488.2,327.2 1701.3,341.9 1638.6,405.0 1661.8,326.3 1445.8,407.1 1628.0,326.4 1610.4,354.3 1603.7,351.9 1425.5,293.6 1554.9,413.0 1555.8,398.6 1365.7,356.2 1650.0,354.6 1526.8,427.2 1639.4,361.9 1589.7,321.4 1638.2,380.4 1522.4,388.4 1513.7,307.3 1520.8,446.5 1584.3,395.3 1614.4,224.4 1504.0,311.4 1703.2,367.6 1666.4,348.7 1687.0,339.8 1575.0,446.2 1602.6,303.2 1651.4,292.4 1686.7,363.8 1687.7,259.8 1562.2,431.1 1517.4,366.7 1558.8,265.9 1361.0,392.3 1486.5,324.6 1654.7,392.4 1468.2,319.4 1629.1,295.4 1582.9,387.5 1552.9,323.6 1498.5,331.7 1553.8,336.9 1438.2,412.5 1438.5,396.8 1572.3,364.5 1444.3,408.9 1529.0,373.3 1619.4,366.9 1606.8,380.1 1592.8,377.3 1564.4,378.3 1630.2,315.8 1592.8,368.9 1649.0,249.1 1542.0,440.0 1540.6,357.6 1378.5,352.3 1542.4,390.2 1665.0,392.2 1446.2,387.2 1654.8,373.0 1416.9,384.3 1410.3,408.4 1659.2,319.5 1458.8,358.8 1481.4,337.3 1612.1,304.3 1620.4,314.3 1674.7,325.2 1604.2,306.3 1419.6,318.2 1624.4,343.7 1504.7,393.6 1567.8,367.4 1540.5,332.3 1649.5,432.7 1553.7,224.8 1548.9,358.7 1502.3,382.2 1561.5,339.9 1649.4,359.7 1604.0,394.1 1669.6,355.6 1469.4,345.5 1649.6,396.7 1444.1,352.7 1649.7,355.5 1398.3,347.0 1658.8,360.8 1540.7,426.5 1685.9,401.8 1567.1,333.6 1449.8,383.3 1579.2,356.7 1345.5,384.4 1501.4,372.7 1607.8,249.4 1436.6,367.4 1433.7,248.4 1409.2,445.8 1552.3,279.5 1482.7,326.6 1614.9,297.1 1672.0,277.9 1596.0,387.3 1383.3,386.0 1491.0,328.6 1444.4,367.8 1586.5,367.7 1384.9,379.6 1607.4,328.3 1368.3,377.1 1673.0,287.6 1541.8,302.6 1452.8,379.7 1590.4,366.6 1540.5,338.7 1547.1,264.6 1429.0,416.6 1482.4,386.5 1398.1,387.9 1567.6,426.4 1495.4,387.8 1405.4,372.6 1635.9,289.1 1563.2,357.9 1407.9,395.9 1632.3,360.3 1580.1,334.2 1514.4,388.9 1606.4,373.7 1649.1,297.8 1467.5,322.5 1483.6,285.9 1664.8,312.8 1514.7,373.4 1637.9,238.3 1471.4,404.9 1438.9,406.2 1615.7,317.5 1493.6,297.5 1590.5,239.1 1436.8,379.4 1629.8,300.7 1550.5,301.1 1482.9,423.6 1460.4,326.2 1509.8,299.5 1611.1,339.2 1704.0,436.1 1438.8,370.5 1544.6,228.5 1419.6,351.2 1464.8,435.7 1690.4,352.4 1564.0,392.4 1423.3,346.1 1532.0,361.7 1588.8,316.4 1566.3,300.9 1643.9,346.3 1569.4,372.0 1503.8,309.5 1572.9,385.2 1611.5,375.5 1593.7,322.1 1661.9,347.6 1409.6,336.1 1629.0,367.3 1530.9,369.6 1699.5,267.6 1343.5,387.0 1365.1,443.5 1408.3,456.9 1606.6,412.7 1619.4,308.3 1541.4,327.6 1354.8,347.3 1614.6,422.2 1467.1,354.1 1530.6,370.9 1530.9,261.7 1418.2,359.8 1632.4,344.8 1356.8,354.2 1512.5,345.9 1468.8,312.0 1510.1,367.5 1531.5,460.2 1685.9,256.2 1711.0,349.5 1607.3,375.8 1681.5,317.3 1531.6,322.1 1624.9,357.4 1527.7,328.9 1526.1,332.7 1483.7,388.3 1635.9,364.2 1489.5,379.3 1370.5,391.9 1459.3,352.5 1608.7,239.4 1402.7,431.2 1565.5,361.5 1406.7,359.6 1637.6,370.4 1473.5,384.5 1563.4,319.8 1579.3,313.8 1351.9,379.8 1579.3,344.1 1605.6,337.4 1579.4,288.4 1649.7,326.3 1435.4,351.0 1535.8,360.4 1562.0,413.9 1526.4,370.7 1604.4,399.3 1593.7,317.8 1571.1,378.3 1505.9,388.1 1525.9,285.2 1632.3,354.0 1524.8,384.9 1621.5,358.5 1445.8,407.7 1593.0,284.1 1687.2,359.3 1554.5,423.9 1410.4,350.7 1381.6,224.3 1643.4,362.9 1557.6,390.9 1445.9,412.0 1657.5,333.6 1492.1,373.3 1460.8,394.9 1560.2,394.0 1568.8,321.4 1644.0,351.6 1543.2,311.0 1349.8,426.5 1592.0,217.3 1472.8,373.4 1666.2,302.1 1617.6,357.2 1410.4,442.8 1625.1,366.9 1538.5,373.1 1553.3,413.3 1546.2,378.7 1423.9,340.0 1661.0,274.2 1669.1,274.8 1403.5,438.3 1455.0,371.0 1557.9,375.7 1427.7,376.8 1513.9,407.1 1631.4,296.6 1476.3,409.1 1671.1,309.0 1556.1,405.2 1658.0,221.8 1634.6,358.4 1434.0,378.7 1443.7,416.4 1405.6,354.8 1642.0,303.6 1527.5,369.2 1662.3,274.6 1482.7,269.2 1488.0,386.0 1391.7,368.7 1581.8,324.2 1606.3,264.8 1365.4,397.9 1576.7,313.5 1524.0,368.1 1578.6,391.1 1383.4,415.3 1703.8,411.6 1452.9,322.8 1600.7,377.9 1527.0,400.3 1499.5,304.9 1459.3,388.7 1647.5,230.5 1569.4,294.1 1583.9,408.0 1578.1,442.0 1357.9,393.0 1405.8,421.4 1584.8,334.3 1604.1,355.2 1409.1,328.9 1465.9,283.9 1655.2,341.2 1659.8,315.6 1557.9,367.2 1665.3,325.9 1521.6,343.9 1556.7,399.1 1515.2,410.6 1610.4,357.7 1667.6,322.1 1510.4,412.7 1431.6,382.2 1621.0,446.8 1654.6,373.6 1489.6,415.4 1541.8,231.1 1458.9,390.3 1465.2,416.4 1563.4,362.0 1629.0,355.0 1629.2,381.5 1603.1,299.0 1463.5,341.9 1482.5,364.4 1692.6,368.4 1559.4,361.6 1442.3,380.6 1487.1,415.8 1677.1,371.0 1558.7,301.7 1659.4,365.4 1670.4,292.0 1479.0,313.9 1678.9,312.5 1493.0,390.8 1564.6,355.1 1705.2,317.7 1616.3,433.8 1666.4,310.3 1465.3,373.3 1474.2,362.9 1651.7,371.9 1398.0,244.6 1395.6,365.1 1463.2,389.5 1600.9,367.1 1546.5,363.2 1364.3,408.5 1479.5,361.4 1600.6,330.7 1622.6,391.4 1380.2,412.5 1422.1,395.2 1414.2,399.3 1576.9,337.7 1676.8,309.7 1651.6,375.1 1564.0,349.6 1526.3,367.4 1508.7,342.3 1592.1,337.4 1362.8,393.3 1498.8,216.7 1571.1,292.8 1396.4,325.3 1518.5,266.9 1587.0,372.7 1651.0,346.0 1634.0,321.7 1605.2,322.6 1628.8,328.5 1365.9,395.0 1607.2,381.2 1548.9,382.5 1477.9,423.8 1455.8,396.6 1571.5,369.5 1539.2,412.7 1434.6,293.8 1579.4,391.1 1562.2,384.9 1512.7,314.6 1472.4,396.8 1414.3,376.1 1545.1,263.8 1541.4,303.3 1644.2,341.6 1655.9,339.7 1669.5,315.0 1634.3,356.8 1425.9,455.9 1567.6,386.8 1465.8,360.2 1440.0,329.4 1700.7,378.4 1486.0,247.2 1584.0,363.0 1641.5,294.0 1601.7,341.8 1641.8,402.9 1636.3,393.9 1423.4,339.5 1388.5,410.8 1501.1,338.2 1563.8,314.7 1508.2,350.1 1646.9,355.9 1509.4,371.0 1556.4,334.9 1615.0,315.0 1654.4,390.9 1476.9,332.0 1392.9,358.1 1585.7,422.7 1688.0,413.4 1688.1,277.5 1570.9,300.3 1599.9,403.4 1564.1,414.0 1665.0,424.3 1459.0,343.6 1557.4,401.0 1546.2,352.8 1522.9,309.5 1530.4,343.3 1652.8,326.0 1580.9,345.7 1442.9,366.8 1412.5,354.3 1647.6,358.4 1641.5,356.6 1475.9,372.9 1451.2,337.0 1518.0,389.1 1499.6,349.0 1456.2,358.8 1431.2,429.2 1443.8,344.4 1671.7,291.1 1513.2,386.0 1416.4,409.5 1599.6,419.3 1675.2,290.0 1636.7,387.7 1653.4,355.0 1549.3,410.2 1395.0,381.0 1588.5,341.4 1410.0,386.0 1555.9,297.5 1527.1,356.8 1583.7,387.7 1549.9,297.2 1574.5,397.0 1632.9,351.7 1556.4,412.4 1693.8,343.7 1527.8,317.3 1570.7,352.4 1417.7,357.6 1494.2,377.8 1452.7,400.0 1678.3,327.9 1604.6,304.5 1635.5,375.8 1654.6,416.5 1586.0,340.3 1669.4,365.4 1398.3,406.5 1478.2,358.9 1642.7,288.0 1546.8,301.7 1611.0,214.3 1428.0,379.6 1668.2,316.6 1616.7,302.8 1573.9,390.5 1535.4,270.7 1374.4,340.8 1499.1,424.0 1658.9,284.9 1629.1,322.6 1551.0,347.5 1587.3,397.5 1670.0,341.6 1613.0,360.6 1478.7,464.6 1692.0,322.5 1571.0,310.8 1610.7,354.2 1502.8,400.3 1470.9,465.4 1649.1,339.4 1483.0,277.2 1672.8,354.6 1395.4,378.4 1551.9,325.6 1679.7,325.0 1364.8,420.0 1666.8,377.7 1377.4,294.7 1646.5,410.9 1539.3,339.7 1490.6,444.6 1580.9,368.7 1404.1,286.2 1548.5,415.9 1487.8,365.3 1638.3,374.7 1555.8,350.5 1682.2,368.3 1547.6,377.2 1524.3,278.3 1441.4,330.2 1676.8,330.7 1527.8,359.7 1581.1,336.2 1473.5,384.7 1441.9,302.4 1565.0,281.8 1548.0,391.3 1703.0,385.8 1550.4,418.8 1712.3,403.4 1348.8,412.3 1453.1,343.2 1425.8,408.3 1594.2,342.1 1628.8,295.0 1531.4,315.5 1489.6,346.4 1348.0,394.6 1438.1,399.0 1553.6,301.2 1673.6,268.3 1512.9,393.1 1515.5,495.2 1646.5,414.0 1492.7,380.9 1444.1,383.8 1709.5,271.4 1428.3,355.0 1459.3,380.6 1591.3,389.5 1607.5,285.5 1398.2,441.2 1680.5,319.7 1559.6,334.1 1536.2,329.3 1656.8,401.4 1629.0,350.9 1660.9,321.7 1579.8,347.2 1682.6,389.5 1492.3,324.4 1655.0,367.0 1465.9,420.5 1579.0,345.4 1470.5,371.3 1705.6,401.0 1609.6,323.0 1635.5,412.3 1601.0,240.3 1653.2,359.4 1654.1,403.0 1681.6,342.7 1460.8,316.0 1409.6,335.1 1623.9,429.0 1574.4,442.6 1496.9,388.2 1710.7,266.0 1407.9,399.5 1578.0,343.3 1530.5,310.7 1657.0,407.8 1541.2,351.8 1566.5,365.5 1523.7,370.0 1593.2,354.7 1504.7,265.4 1489.1,256.8 1402.2,333.1 1529.9,282.4 1440.2,380.5 1368.1,418.3 1431.6,413.4 1695.3,375.5 1534.3,358.0 1463.2,327.0 1482.4,343.2 1439.8,351.6 1557.9,312.7 1556.3,404.0 1469.6,400.1 1565.2,298.2 1539.6,427.5 1432.5,387.4 1440.3,384.9 1661.6,348.7 1568.4,276.9 1637.5,393.0 1641.8,397.5 1661.7,322.6 1619.0,341.0 1367.1,424.7 1562.9,378.4 1442.8,393.5 1399.4,374.8 1477.0,342.0 1528.5,294.8 1433.1,345.8 1574.1,383.0 1495.9,332.2 1507.5,390.7 1664.2,376.5 1577.4,405.2 1654.3,406.5 1490.2,377.5 1544.1,311.0 1445.7,411.7 1421.2,376.1 1674.2,352.3 1585.8,297.1 1639.2,294.3 1660.6,290.1 1587.5,351.4 1404.1,366.9 1605.7,333.3 1494.9,430.4 1612.2,307.1 1587.7,291.0 1565.3,388.9 1521.3,370.5 1585.4,346.0 1659.0,309.5 1426.4,359.9 1650.5,264.0 1397.1,338.9 1628.8,361.1 1615.5,407.2 1597.3,348.0 1611.6,399.3 1418.9,305.5 1646.9,303.8 1677.3,309.2 1490.3,372.8 1404.9,430.5 1493.2,329.3 1537.3,381.4 1529.7,336.1 1503.6,348.9 1616.9,331.1 1382.0,235.4 1437.0,342.2 1538.7,348.8 1541.5,325.7 1364.8,334.0 1373.7,343.0 1657.3,396.0 1658.3,368.6 1443.7,281.0 1340.8,346.9 1629.8,390.6 1575.9,343.5 1572.1,348.1 1541.8,421.6 1659.3,404.7 1670.9,337.4 1491.8,375.2 1382.4,392.4 1397.0,382.2 1676.6,379.0 1521.1,200.5 1618.4,365.6 1621.8,336.9 1550.1,343.6 1371.3,418.0 1592.1,321.7 1670.3,372.5 1662.2,316.6 1580.0,445.9 1649.4,352.9 1477.4,372.6 1530.1,329.6 1422.7,348.3 1533.9,365.2 1591.3,390.6 1688.4,372.1 1499.6,393.2 1359.1,434.9 1590.5,376.7 1684.5,325.5 1574.3,399.4 1463.5,392.4 1685.5,354.5 1700.0,318.5 1648.9,367.6 1571.2,372.1 1510.0,361.1 1373.5,383.4 1634.2,350.3 1535.7,280.4 1549.4,369.8 1491.6,373.4 1700.1,310.2 1640.8,415.2 1670.6,333.2 1492.1,378.8 1577.7,320.6 1549.9,277.5 1525.0,380.4 1495.2,342.2 1593.5,459.7 1650.5,340.8 1612.6,368.7 1435.9,342.3 1573.1,359.9 1505.3,370.3 1667.0,372.9 1523.6,396.8 1692.9,271.9 1618.3,355.7 1605.9,357.5 1698.3,322.9 1470.1,323.9 1648.9,288.4 1553.0,308.6 1426.8,338.3 1674.2,305.0 1564.8,320.7 1687.2,354.0 1703.1,257.7 1379.3,307.7 1438.0,370.2 1494.5,413.1 1606.7,361.4 1553.7,369.3 1621.9,315.1 1546.3,295.9 1479.6,356.4 1582.9,389.6 1613.0,308.1 1435.7,374.7 1687.0,347.4 1634.0,311.2 1426.8,342.1 1587.5,332.6 1611.9,366.1 1663.6,282.0 1468.4,379.5 1559.3,380.5 1536.5,356.9 1540.7,291.8 1622.6,244.6 1512.0,339.2 1562.6,324.2 1632.2,308.8 1682.5,385.5 1493.4,339.1 1537.9,381.7 1589.9,337.9 1574.9,310.1 1598.8,377.1 1561.0,278.2 1347.0,378.2 1634.1,290.4 1492.7,406.9 1508.8,342.8 1704.1,322.0 1562.8,283.8 1611.8,418.2 1577.4,401.7 1588.8,357.7 1410.7,365.3 1360.6,448.8 1438.6,403.2 1549.8,337.0 1427.6,362.2 1608.0,348.7 1609.1,395.2 1415.4,460.0 1579.8,403.2 1356.5,349.3 1476.4,385.7 1417.7,302.7 1467.9,377.4 1609.5,318.1 1568.7,378.8 1580.9,413.7 1514.1,209.3 1415.2,360.5 1389.6,332.3 1470.2,364.4 1523.2,274.4 1536.2,375.1 1593.3,320.7 1522.2,363.6 1430.0,414.4 1396.8,403.2 1513.8,311.9 1564.6,303.4 1667.9,274.4 1411.9,438.2 1394.2,468.9 1587.7,343.5 1665.6,406.7 1594.1,304.0 1629.4,352.9 1525.7,372.6 1637.8,410.8 1599.5,307.3 1557.1,297.6 1574.2,330.6 1533.9,264.1 1581.2,275.3 1517.8,385.2 1498.3,272.7 1341.8,450.6 1664.0,364.5 1378.0,315.4 1640.1,344.7 1448.2,404.9 1438.6,405.1 1418.8,430.3 1633.4,413.5 1509.7,416.6 1370.2,393.1 1563.1,328.5 1400.5,370.7 1604.1,328.6 1648.8,334.2 1654.9,383.9 1483.0,319.5 1418.8,445.0 1667.3,348.1 1547.0,362.5 1524.9,309.8 1642.4,438.6 1434.3,364.1 1588.7,311.7 1653.9,358.3 1380.6,391.4 1545.3,410.8 1521.7,413.6 1544.7,345.4 1394.9,351.8 1618.8,263.6 1593.5,374.5 1589.2,404.3 1470.7,408.0 1536.2,404.1 1607.2,343.9 1633.3,364.5 1571.9,346.2 1591.8,318.2 1690.7,356.5 1646.3,364.3 1540.1,293.6 1599.3,328.9 1612.8,342.1 1598.1,324.9 1510.1,355.2 1695.0,290.9 1673.9,302.1 1716.8,308.5 1652.6,354.6 1659.7,327.0 1512.0,164.1 1526.5,417.2 1394.5,407.4 1504.6,326.0 1385.4,398.0 1567.8,373.8 1668.7,284.2 1428.4,348.0 1376.3,404.3 1477.5,448.1 1602.4,328.0 1686.3,341.2 1661.4,372.5 1411.8,331.5 1627.9,272.8 1514.7,372.2 1674.7,305.3 1518.3,406.4 1671.8,342.1 1603.3,420.1 1428.9,347.6 1624.3,486.8 1636.0,381.6 1580.2,318.8 1419.1,336.2 1473.1,333.9 1540.8,356.1 1534.6,326.2 1607.4,316.0 1564.9,392.4 1626.9,312.8 1514.2,317.1 1577.6,376.1 1631.9,342.1 1632.6,341.4 1639.9,342.3 1521.9,337.7 1619.6,319.7 1425.9,441.0 1441.4,338.1 1472.5,399.7 1639.0,339.5 1348.4,369.1 1475.9,357.9 1554.7,327.4 1397.6,430.4 1387.2,481.4 1420.1,455.0 1674.6,268.0 1634.0,308.0 1663.7,345.3 1498.6,303.5 1390.1,416.8 1666.7,393.5 1661.3,356.0 1631.1,369.4 1589.1,375.1 1520.9,442.9 1426.2,345.2 1688.5,311.0 1408.1,340.6 1626.6,341.9 1530.9,307.8 1653.0,358.9 1540.9,345.0 1498.0,401.9 1482.3,379.8 1479.6,392.9 1553.5,395.3 1475.9,349.8 1398.3,355.4 1478.4,335.0 1416.4,394.9 1482.6,287.9 1608.0,349.5 1636.0,307.5 1569.8,423.5 1396.9,277.4 1463.0,370.3 1596.9,362.7 1680.0,299.6 1648.8,305.2 1517.9,302.5 1717.9,291.3 1576.9,336.7 1628.0,285.9 1581.3,359.9 1657.2,306.0 1528.3,363.6 1595.5,386.8 1445.4,362.3 1644.1,293.9 1714.4,324.0 1544.4,317.3 1627.8,434.5 1660.5,346.9 1697.4,272.9 1640.4,309.6 1425.5,424.5 1567.8,369.1 1445.1,394.2 1520.4,322.6 1663.5,344.6 1517.4,432.4 1541.0,289.9 1582.9,402.4 1431.9,333.4 1461.4,372.6 1422.4,349.0 1565.8,391.1 1360.7,286.5 1437.8,403.4 1664.8,320.7 1604.5,349.7 1672.3,326.3 1581.5,351.6 1603.7,330.6 1611.5,380.7 1710.0,382.8 1691.3,340.2 1681.9,326.8 1445.7,325.6 1593.1,391.0 1536.8,366.5 1391.4,377.5 1449.8,449.5 1648.2,302.8 1649.2,353.5 1643.0,291.5 1402.9,400.5 1663.9,302.0 1604.4,208.7 1713.3,325.5 1641.0,339.8 1616.4,303.5 1525.8,239.5 1517.5,267.7 1429.3,333.6 1583.7,379.4 1376.9,364.5 1624.6,316.3 1459.9,360.9 1598.7,296.7 1512.0,330.0 1535.1,299.6 1475.3,329.8 1685.1,338.7 1355.1,371.0 1391.1,387.6 1478.7,345.7 1655.7,337.3 1665.8,295.3 1614.2,322.9 1694.2,323.2 1544.0,394.3 1387.8,295.0 1651.9,431.2 1461.4,409.9 1583.2,346.9 1690.1,320.0 1711.0,338.4 1386.3,415.3 1467.7,369.0 1571.5,337.0 1528.4,353.7 1606.9,326.0 1379.3,394.9 1597.6,343.9 1717.0,387.9 1601.3,404.2 1516.5,260.4 1607.0,361.9 1713.3,243.9 1625.7,359.6 1456.3,241.6 1647.2,291.9 1582.7,351.5 1614.7,308.8 1508.2,363.5 1704.4,304.3 1655.2,429.4 1467.3,384.3 1437.1,424.2 1525.0,288.3 1554.0,301.7 1585.0,335.4 1377.3,354.2 1455.9,287.4 1609.7,328.0 1457.5,352.9 1503.7,366.0 1546.6,347.7 1584.4,328.3 1517.3,394.9 1561.8,343.3 1643.6,320.4 1512.6,383.7 1601.4,419.3 1571.9,331.0 1544.5,273.0 1597.8,328.5 1669.0,290.1 1646.8,289.5 1647.6,340.5 1546.0,419.4 1650.4,330.6 1505.0,337.0 1658.8,308.0 1536.5,380.2 1360.8,414.2 1378.2,392.1 1547.7,372.8 1453.7,439.9 1625.7,389.8 1500.4,396.5 1394.4,450.9 1580.8,315.6 1480.1,406.9 1474.7,261.9 1640.3,266.3 1550.7,345.1 1401.7,283.4 1575.7,354.8 1572.4,317.1 1514.5,354.2 1602.8,410.2 1635.9,399.9 1433.3,378.3 1622.5,320.5 1523.9,333.5 1667.2,359.3 1548.5,383.5 1600.8,443.5 1538.3,270.5 1370.6,332.4 1613.6,407.3 1565.9,390.0 1691.7,389.7 1627.1,274.9 1590.1,372.9 1522.6,343.4 1529.0,331.0 1444.8,361.0 1656.4,366.5 1642.1,412.5 1594.9,356.1 1619.7,307.8 1522.3,352.8 1499.3,388.3 1571.5,360.3 1499.6,397.0 1480.0,417.7 1514.8,414.1 1387.1,401.5 1632.7,308.6 1478.2,367.0 1533.7,283.9 1627.3,305.5 1598.1,266.5 1663.5,364.3 1546.7,384.4 1667.5,333.0 1635.2,364.0 1461.7,402.6 1607.0,374.4 1511.6,320.6 1715.2,298.7 1627.7,349.0 1701.7,367.7 1654.8,292.3 1488.4,386.7 1439.6,457.3 1530.5,356.9 1414.8,340.1 1685.6,307.9 1565.5,277.1 1460.9,299.6 1535.8,423.9 1536.7,357.7 1470.3,314.4 1433.3,398.7 1413.6,355.5 1623.9,389.1 1386.0,347.1 1624.0,382.2 1665.7,293.0 1518.8,383.4 1631.6,369.8 1387.7,374.9 1618.2,315.4 1536.7,406.3 1544.7,367.5 1522.1,370.2 1454.9,337.6 1555.5,370.4 1667.6,423.2 1570.2,330.5 1354.0,408.4 1407.3,355.0 1403.7,385.6 1717.0,346.2 1433.8,357.5 1619.1,343.3 1400.2,357.2 1547.1,345.2 1524.5,487.1 1595.1,199.8 1594.4,391.3 1436.7,268.9 1562.4,353.0 1487.9,381.2 1576.0,294.3 1561.5,305.9 1412.6,385.1 1554.2,375.9 1435.1,258.1 1631.8,298.1 1652.8,382.8 1668.1,347.5 1540.0,380.2 1584.9,299.9 1636.5,338.6 1568.1,406.7 1660.1,311.8 1381.9,379.6 1545.4,403.3 1374.6,410.0 1550.8,370.6 1607.7,366.4 1462.0,372.4 1649.5,392.6 1463.9,460.5 1419.7,330.5 1475.2,419.3 1587.5,344.5 1602.9,373.1 1669.8,281.3 1701.4,321.4 1459.6,431.5 1614.9,245.7 1594.5,384.6 1395.5,319.9 1411.0,396.5 1590.1,240.3 1485.9,301.6 1451.8,428.9 1665.1,351.0 1574.5,371.9 1681.1,358.1 1612.4,316.9 1398.5,447.6 1639.1,392.1 1617.7,346.7 1548.9,307.3 1552.0,362.4 1528.7,344.8 1643.0,362.5 1407.0,289.2 1670.8,345.3 1528.9,408.3 1499.4,366.8 1435.1,465.2 1652.2,309.3 1396.8,384.6 1599.8,438.7 1600.5,371.6 1672.9,385.5 1547.3,395.2 1474.5,348.2 1407.4,372.7 1616.5,365.4 1605.3,382.5 1516.0,358.3 1382.5,418.0 1572.0,257.1 1415.5,316.1 1417.4,336.2 1513.9,369.0 1469.6,377.0 1614.9,379.7 1656.4,283.0 1572.2,312.4 1485.3,386.1 1553.5,391.4 1448.5,374.2 1649.9,244.5 1538.3,394.0 1688.0,309.5 1630.1,320.4 1676.0,371.2 1424.6,446.3 1554.9,345.4 1530.5,383.2 1414.0,270.9 1658.3,350.1 1670.1,405.1 1570.5,364.3 1624.4,379.4 1396.5,435.2 1477.7,373.9 1426.9,331.9 1538.4,413.7 1658.4,371.1 1686.2,302.5 1547.0,417.9 1506.9,294.0 1525.1,218.9 1371.1,361.4 1384.6,379.4 1633.8,374.2 1554.0,408.1 1392.7,413.0 1512.6,351.4 1348.6,370.7 1651.8,342.8 1694.7,344.4 1558.5,356.2 1359.2,354.2 1598.2,365.5 1441.3,324.2 1466.1,431.4 1555.1,270.8 1518.2,360.3 1482.0,359.1 1675.8,376.1 1713.7,353.4 1410.3,325.7 1682.8,272.1 1582.7,345.1 1650.3,236.2 1679.2,281.6 1671.1,382.3 1456.6,353.8 1535.5,331.6 1511.5,301.6 1362.1,394.4 1588.7,414.2 1380.4,241.7 1347.7,406.2 1570.8,386.6 1537.2,367.5 1583.2,375.2 1392.6,365.1 1573.5,416.4 1566.3,356.6 1501.1,338.5 1662.2,291.4 1589.7,352.1 1693.1,326.1 1558.3,375.5 1518.8,301.5 1582.8,371.5 1547.8,354.7 1618.4,365.8 1547.8,288.8 1376.2,385.5 1581.5,356.0 1532.4,369.1 1379.3,331.6 1594.5,412.4 1614.0,355.9 1591.0,365.7 1641.4,337.3 1560.8,296.5 1500.6,385.9 1507.1,397.3 1640.4,416.1 1655.4,355.4 1627.6,325.5 1424.4,393.3 1537.3,339.3 1379.1,416.0 1449.5,391.5 1546.3,408.0 1559.2,336.7 1373.3,429.5 1577.5,339.5 1640.1,344.7 1431.3,317.8 1397.1,344.6 1602.2,288.3 1496.3,317.5 1650.3,363.3 1567.2,344.1 1558.5,380.2 1519.0,442.2 1608.6,263.8 1550.8,320.8 1675.7,356.0 1542.7,349.4 1453.4,342.3 1473.3,349.9 1554.1,332.6 1569.7,327.1 1501.7,396.8 1593.8,425.1 1469.1,383.1 1374.3,410.9 1614.6,410.1 1508.5,370.3 1678.8,343.1 1414.6,326.5 1635.5,376.2 1593.7,376.1 1461.4,341.5 1430.8,322.7 1408.1,386.9 1624.5,339.6 1398.2,381.5 1495.3,465.7 1661.9,277.2 1544.8,395.7 1532.6,420.4 1548.7,327.2 1411.0,372.2 1599.9,388.2 1611.5,298.2 1647.3,342.0 1342.8,438.8 1408.3,386.0 1540.1,276.8 1597.5,369.4 1530.8,344.3 1579.8,397.9 1622.1,416.8 1641.2,385.1 1398.9,313.4 1517.8,374.3 1408.3,448.2 1639.5,421.9 1668.9,362.2 1542.1,369.1 1675.1,260.9 1627.6,296.8 1408.1,422.2 1378.3,431.4 1523.2,420.4 1506.6,366.2 1611.8,385.2 1425.8,405.3 1710.9,338.2 1529.1,398.8 1635.4,367.4 1574.4,318.2 1566.7,409.1 1529.3,346.5 1376.5,364.5 1489.6,307.2 1380.4,409.8 1528.8,371.0 1511.8,342.1 1550.2,399.5 1560.3,356.3 1517.6,388.4 1445.2,286.2 1500.5,335.2 1414.7,415.5 1661.1,217.8 1593.9,363.9 1601.7,249.4 1480.2,309.7 1570.0,272.7 1434.9,403.7 1374.5,360.9 1462.4,357.2 1518.5,346.9 1718.6,336.2 1632.8,361.6 1413.0,386.4 1549.3,386.6 1662.9,365.0 1462.5,285.9 1650.1,315.8 1682.8,381.0 1476.8,390.5 1562.3,277.5 1626.8,413.1 1590.7,294.8 1561.6,356.7 1567.3,386.1 1460.8,381.9 1624.6,331.8 1613.3,325.7 1696.0,310.5 1657.6,364.7 1453.8,310.2 1519.3,309.4 1665.2,334.2 1406.8,392.7 1607.6,395.0 1532.5,404.8 1388.4,373.1 1542.3,377.4 1427.4,398.8 1419.9,382.8 1686.9,356.4 1571.1,430.5 1654.1,409.7 1488.0,340.3 1709.9,381.2 1624.1,372.4 1654.0,409.8 1389.0,367.1 1526.4,387.3 1713.7,340.8 1478.2,433.5 1382.2,253.5 1505.5,337.4 1441.5,418.4 1592.0,363.7 1388.8,298.7 1438.2,404.9 1655.8,208.2 1676.6,352.7 1686.9,411.4 1381.7,363.5 1589.5,393.8 1699.2,300.4 1520.3,334.3 1571.0,263.9 1541.8,412.2 1621.1,329.5 1670.7,355.5 1538.6,327.4 1485.2,307.3 1638.9,280.8 1469.3,381.8 1555.1,362.7 1474.0,362.7 1618.4,363.6 1616.0,376.2 1474.2,319.0 1422.8,388.3 1582.3,384.8 1397.7,448.6 1611.3,312.4 1510.4,359.1 1463.0,323.6 1693.0,386.3 1626.6,306.6 1629.6,377.6 1557.2,338.7 1582.7,333.1 1612.1,376.2 1598.2,373.4 1472.3,396.0 1465.0,328.0 1699.2,298.5 1417.6,350.6 1628.5,367.4 1496.5,370.6 1502.2,375.7 1629.6,351.6 1657.6,333.5 1545.6,296.8 1648.8,327.8 1489.0,421.0 1479.9,343.0 1554.4,387.0 1519.5,411.0 1550.3,389.0 1646.6,351.5 1557.9,350.2 1366.3,449.0 1571.8,376.3 1469.7,405.0 1507.7,380.4 1449.0,338.3 1607.5,314.9 1502.7,362.2 1529.6,414.3 1519.8,373.1 1407.3,412.0 1468.7,349.8 1530.7,340.3 1597.0,415.9 1609.9,329.9 1350.8,357.1 1667.6,234.1 1611.2,369.6 1611.1,341.1 1400.6,410.2 1680.7,369.4 1659.1,319.5 1548.5,345.7 1522.7,353.0 1561.2,378.5 1436.3,338.5 1561.1,345.8 1580.2,357.8 1476.6,211.7 1518.7,267.0 1639.6,355.9 1519.0,423.1 1720.0,364.2 1348.5,384.4 1451.9,409.5 1471.5,436.1 1544.8,263.4 1583.0,389.7 1575.2,342.9 1521.1,422.9 1576.6,332.7 1526.9,324.6 1602.6,345.8 1610.2,393.2 1395.7,472.4 1523.2,364.8 1341.1,357.2 1438.7,403.2 1615.5,259.4 1672.9,455.6 1643.8,387.2 1400.9,397.9 1454.8,382.9 1631.3,413.1 1480.4,412.1 1598.6,287.1 1501.9,326.6 1394.3,421.9 1438.5,392.7 1417.9,296.5 1585.3,365.9 1520.4,347.0 1697.4,298.8 1539.0,285.2 1587.9,371.8 1443.4,347.4 1416.9,357.4 1511.2,309.8 1550.4,396.0 1665.7,290.5 1685.0,371.8 1660.9,294.2 1463.1,391.0 1666.0,253.7 1646.6,375.7 1620.5,404.9 1608.3,311.9 1376.2,312.1 1502.5,417.1 1580.0,420.6 1373.2,336.5 1514.6,372.5 1646.5,412.7 1549.2,330.9 1581.0,337.0 1377.5,337.5 1625.7,347.4 1607.7,242.4 1575.2,288.9 1638.7,336.9 1524.8,384.6 1569.9,342.6 1391.9,408.8 1592.0,338.1 1614.5,377.3 1631.4,289.3 1532.8,423.4 1606.0,489.7 1396.0,252.0 1566.0,363.1 1553.0,320.8 1605.8,379.1 1538.7,269.4 1615.3,287.7 1556.8,317.9 1409.2,329.1 1512.0,297.2 1602.2,343.4 1647.2,393.4 1468.4,416.2 1505.8,411.8 1490.0,251.4 1593.5,317.7 1614.2,272.4 1660.4,325.9 1367.4,380.1 1680.9,264.9 1546.3,354.1 1635.6,226.6 1538.5,355.9 1600.6,337.8 1526.2,369.4 1617.2,375.0 1427.7,402.8 1384.9,439.7 1465.2,381.4 1341.2,369.0 1514.3,334.6 1543.4,334.4 1525.7,316.8 1399.5,391.5 1541.1,377.9 1619.4,399.8 1444.4,369.1 1341.6,397.3 1555.0,250.8 1601.6,316.7 1419.6,379.2 1503.6,370.7 1486.6,407.6 1384.7,360.5 1479.1,335.2 1521.6,256.2 1634.6,282.2 1672.5,392.0 1551.9,378.1 1443.0,352.4 1454.4,328.7 1487.3,381.3 1509.4,431.4 1612.6,334.5 1499.9,396.0 1550.1,356.6 1556.2,429.4 1368.9,452.2 1533.2,370.1 1409.0,385.7 1619.2,312.9 1667.4,343.7 1551.8,408.4 1397.9,343.4 1594.3,354.2 1554.3,326.1 1577.6,371.8 1607.4,348.7 1627.6,313.6 1415.3,386.7 1516.3,313.2 1655.6,340.8 1556.0,376.9 1670.2,382.0 1395.8,350.4 1438.9,443.1 1478.5,286.6 1476.5,401.8 1643.1,333.5 1528.4,384.5 1575.9,416.1 1512.8,360.8 1586.4,468.1 1523.1,323.7 1543.3,312.0 1506.2,399.1 1480.8,391.6 1688.2,384.1 1530.0,375.9 1408.9,359.7 1542.5,415.9 1395.0,444.4 1458.2,346.4 1507.4,304.3 1363.6,385.6 1533.1,388.6 1656.4,356.7 1565.8,427.5 1443.9,300.6 1444.7,314.7 1596.6,403.8 1403.1,362.3 1403.5,432.5 1557.3,403.3 1498.3,377.2 1650.7,301.8 1604.9,352.5 1502.4,396.9 1372.0,353.0 1593.9,282.6 1514.2,352.0 1408.3,359.3 1555.6,332.5 1439.0,309.6 1479.6,465.6 1635.8,271.9 1407.6,460.1 1651.4,342.3 1398.9,397.6 1374.1,388.1 1537.4,384.9 1566.8,372.1 1597.3,319.8 1469.9,393.7 1648.8,295.0 1654.9,386.9 1673.9,377.5 1665.6,414.0 1511.5,308.1 1575.1,251.7 1630.4,409.1 1580.5,285.2 1583.8,357.3 1686.8,332.1 1530.6,373.7 1577.7,341.3 1523.6,308.1 1628.9,330.1 1639.7,335.4 1506.7,334.3 1549.1,385.6 1653.6,381.6 1391.8,357.8 1525.6,361.8 1465.5,299.1 1557.0,376.1 1654.1,360.1 1436.2,275.2 1443.0,349.8 1593.7,350.9 1556.2,420.1 1569.0,370.8 1642.5,291.5 1543.2,425.4 1693.5,314.0 1497.0,319.7 1619.7,299.7 1564.4,390.9 1530.0,328.8 1479.0,279.1 1582.8,309.2 1658.3,272.8 1637.7,317.2 1558.4,363.3 1352.0,354.4 1578.2,356.7 1482.1,383.8 1456.6,332.1 1504.3,361.7 1363.3,357.3 1597.6,324.9 1616.9,286.9 1376.3,287.1 1673.2,242.7 1661.5,265.6 1505.0,407.0 1524.7,383.8 1364.7,369.7 1358.2,404.2 1676.8,286.9 1601.0,366.5 1483.1,375.1 1588.1,332.5 1692.1,344.9 1530.0,386.3 1681.3,366.8 1657.4,348.8 1652.8,316.6 1548.3,337.4 1672.8,364.1 1490.2,369.1 1535.7,308.5 1544.5,351.8 1553.6,338.3 1506.4,315.8 1649.2,284.6 1638.6,295.4 1628.0,348.1 1600.8,385.9 1539.0,398.7 1358.9,437.1 1575.2,366.6 1674.5,360.7 1607.1,373.5 1679.4,419.3 1435.8,403.0 1494.2,342.3 1529.3,334.7 1471.6,348.9 1659.1,276.3 1599.8,381.6 1526.0,377.7 1634.7,370.2 1519.5,266.2 1575.6,308.7 1363.3,401.2 1584.0,357.0 1453.9,399.5 1404.1,409.7 1551.5,360.1 1420.6,395.4 1695.4,256.9 1579.6,297.3 1615.9,364.6 1361.0,435.4 1344.2,410.9 1607.1,375.0 1452.1,429.3 1602.3,293.3 1416.7,395.4 1598.5,340.4 1470.1,442.7 1704.3,315.4 1622.5,353.3 1574.3,471.9 1506.3,344.2 1677.1,365.4 1566.3,337.1 1560.1,432.0 1700.4,249.4 1530.8,225.6 1631.4,301.8 1463.2,369.2 1592.2,330.9 1491.4,349.5 1715.7,318.7 1436.7,373.6 1397.7,426.0 1369.8,354.9 1676.6,370.4 1400.9,350.4 1605.8,352.2 1661.9,311.6 1643.5,285.7 1483.5,395.3 1644.2,286.0 1651.1,376.9 1567.1,406.9 1558.4,329.3 1515.0,391.7 1373.5,292.0 1535.3,330.5 1533.2,340.0 1637.2,297.7 1652.7,307.9 1598.8,336.3 1605.0,360.6 1483.5,352.3 1468.6,372.7 1618.5,384.8 1425.1,301.9 1428.9,398.1 1529.3,308.6 1425.1,339.0 1683.4,337.4 1525.0,400.4 1655.2,376.6 1649.9,389.9 1696.7,280.3 1588.2,318.2 1621.1,366.0 1639.1,286.7 1642.0,343.3 1551.1,371.1 1599.4,393.5 1608.0,389.1 1378.3,409.3 1604.5,380.4 1644.3,365.1 1658.1,328.1 1507.4,426.3 1468.0,351.2 1451.9,247.0 1370.8,332.5 1603.9,374.4 1646.3,286.5 1635.2,360.9 1672.3,290.9 1477.6,443.8 1541.2,419.5 1387.7,369.6 1477.1,283.9 1698.3,358.3 1525.6,370.8 1393.6,411.6 1622.0,385.9 1514.7,307.1 1487.2,363.0 1358.6,339.5 1597.2,369.3 1587.8,201.6 1604.9,273.0 1622.4,363.9 1412.1,417.0 1690.0,362.9 1531.8,335.2 1398.3,360.8 1670.6,435.4 1506.3,317.5 1494.9,330.6 1493.2,413.5 1684.5,351.2 1657.7,373.9 1566.8,392.7 1622.7,380.3 1613.6,336.6 1485.6,375.2 1391.7,407.0 1403.9,401.7 1419.4,347.6 1444.9,335.6 1630.6,337.2 1632.3,353.3 1513.8,282.4 1477.9,349.0 1685.1,376.3 1620.1,362.3 1659.5,358.2 1693.7,318.2 1426.7,378.5 1555.7,250.0 1587.5,281.5 1408.0,393.7 1595.0,324.5 1617.8,390.6 1482.0,410.8 1557.9,333.2 1656.0,362.7 1530.5,352.4 1369.1,376.9 1522.7,384.0 1532.6,389.2 1383.0,318.9 1659.4,406.6 1527.6,326.0 1417.0,352.9 1488.0,373.7 1407.3,390.9 1639.4,386.9 1477.4,385.1 1693.8,295.2 1518.8,423.0 1608.5,364.2 1533.7,308.7 1608.0,368.3 1426.7,378.0 1434.4,309.6 1688.9,283.7 1639.6,292.9 1452.9,377.3 1416.7,352.3 1521.5,318.4 1461.6,394.3 1371.9,369.2 1583.1,337.6 1396.0,431.4 1497.8,311.8 1547.4,353.9 1373.4,345.8 1706.5,324.6 1576.0,309.8 1484.0,353.5 1360.3,404.9 1671.7,381.4 1650.0,392.3 1599.9,437.7 1582.9,315.3 1477.0,310.5 1555.0,421.7 1639.9,406.9 1444.8,302.7 1624.3,374.3 1458.4,385.5 1518.6,416.8 1612.2,308.0 1530.0,259.3 1597.1,406.7 1461.0,355.3 1510.4,318.7 1523.7,374.7 1420.8,302.4 1690.8,381.4 1551.5,325.9 1509.9,362.5 1416.3,379.6 1624.0,411.0 1579.9,298.8 1453.0,401.6 1546.1,351.4 1627.3,391.4 1405.0,417.5 1421.8,409.1 1548.0,382.1 1434.6,295.8 1544.7,363.8 1547.8,368.9 1463.1,322.3 1575.9,359.1 1487.5,315.4 1547.1,424.6 1445.5,351.1 1590.3,374.5 1479.2,315.0 1638.7,350.4 1600.1,370.3 1649.4,375.7 1636.4,349.3 1601.1,348.7 1468.8,416.6 1570.7,386.5 1525.5,350.9 1548.1,344.1 1540.6,320.5 1399.1,449.5 1670.1,292.8 1446.1,439.3 1611.4,387.0 1610.0,342.1 1658.0,377.4 1656.6,299.8 1447.2,334.7 1612.9,329.3 1467.7,234.4 1392.2,401.1 1527.1,370.7 1605.3,305.1 1624.6,369.8 1455.4,336.0 1599.7,284.7 1669.8,240.3 1669.4,476.1 1407.9,391.3 1636.8,318.6 1677.2,373.2 1494.8,353.3 1536.8,386.6 1618.6,359.2 1400.0,342.2 1529.0,327.0 1690.0,303.1 1577.2,341.3 1508.3,354.6 1500.5,385.4 1428.4,312.2 1594.0,406.5 1511.7,352.6 1522.4,391.3 1553.0,449.7 1593.2,310.6 1599.9,381.8 1671.6,376.2 1511.0,319.6 1578.4,415.6 1609.6,314.6 1555.8,443.2 1640.5,422.9 1432.1,391.8 1482.3,335.8 1679.3,332.2 1700.1,370.8 1601.7,410.9 1529.0,370.1 1525.6,322.4 1638.5,296.2 1615.5,334.0 1428.1,332.0 1600.9,369.9 1523.6,334.6 1529.1,398.2 1506.3,376.0 1533.4,347.2 1627.8,303.1 1571.9,343.1 1645.2,410.9 1649.1,295.8 1641.3,271.8 1550.6,400.2 1626.7,412.4 1434.9,440.8 1511.3,377.9 1603.6,355.8 1560.0,359.0 1681.5,329.0 1371.8,397.6 1604.1,330.3 1508.4,389.9 1540.4,384.7 1401.2,370.6 1451.3,360.4 1627.5,335.7 1663.9,231.2 1559.0,283.3 1629.3,274.5 1525.8,367.5 1415.1,323.5 1506.5,340.0 1466.0,398.3 1673.4,285.7 1423.9,366.1 1641.6,301.8 1480.5,318.0 1525.2,405.3 1594.7,361.6 1582.5,387.5 1359.4,323.4 1591.4,333.4 1639.4,349.2 1506.3,410.1 1587.9,352.2 1651.8,351.1 1445.2,364.0 1602.0,436.7 1378.2,355.1 1380.6,350.0 1551.7,387.6 1459.0,297.6 1526.2,340.3 1614.4,354.0 1419.2,348.7 1608.0,382.6 1588.4,320.5 1627.7,355.9 1589.8,347.0 1518.3,426.0 1637.1,427.7 1619.8,417.2 1480.5,340.4 1566.3,356.2 1664.4,249.1 1506.6,420.1 1523.8,387.6 1616.4,401.9 1469.1,337.9 1550.7,316.2 1362.1,458.3 1489.5,353.1 1595.4,394.8 1600.1,399.4 1533.6,443.3 1601.7,271.7 1588.5,331.5 1535.3,351.7 1600.9,389.4 1501.6,344.9 1420.6,397.4 1515.7,404.3 1578.8,381.9 1689.1,293.8 1444.6,352.0 1535.5,309.3 1451.9,372.1 1549.9,440.0 1377.2,277.1 1569.4,382.5 1365.8,342.5 1619.6,343.5 1474.1,392.7 1503.9,323.7 1617.8,280.3 1390.6,348.2 1637.0,366.3 1701.7,364.9 1515.5,417.9 1543.4,361.9 1354.0,310.6 1413.8,397.7 1439.5,385.6 1574.4,317.9 1647.8,348.4 1417.9,371.5 1533.9,412.2 1457.9,372.9 1541.1,294.2 1671.7,354.9 1707.3,371.8 1426.5,376.3 1571.6,332.5 1395.2,404.4 1457.0,348.5 1617.8,284.6 1639.7,289.5 1516.4,360.1 1532.4,465.7 1676.5,404.9 1392.7,306.0 1415.9,277.0 1484.4,379.9 1376.7,392.0 1541.3,378.6 1373.6,391.2 1579.9,413.6 1495.2,291.1 1445.2,305.4 1611.1,406.4 1570.2,373.0 1509.7,341.8 1670.4,350.6 1607.5,461.4 1390.3,428.6 1698.7,339.3 1411.5,378.9 1637.8,382.3 1363.4,405.6 1547.8,324.1 1487.5,219.0 1395.7,402.2 1474.1,291.5 1512.8,375.4 1364.8,414.9 1599.1,460.4 1348.9,392.7 1587.4,409.1 1483.8,468.1 1520.1,370.7 1447.5,427.2 1581.9,285.5 1669.6,331.7 1535.8,295.6 1592.8,412.3 1341.1,408.7 1650.4,286.5 1510.3,368.2 1636.4,298.1 1561.3,350.0 1585.3,300.6 1659.5,345.3 1593.6,217.5 1614.5,343.0 1466.9,325.9 1373.5,384.8 1523.7,212.5 1530.7,362.7 1551.0,411.4 1485.7,334.2 1556.9,405.2 1612.7,244.9 1598.9,303.8 1573.3,433.6 1573.1,248.6 1567.7,388.3 1550.0,395.6 1504.5,402.0 1546.7,389.7 1507.8,347.6 1572.9,352.1 1453.4,381.8 1571.2,366.6 1681.5,383.9 1679.8,289.8 1614.9,375.9 1511.6,417.4 1421.3,424.4 1668.5,352.6 1565.0,315.9 1494.4,338.4 1657.1,394.3 1664.6,281.9 1680.6,273.5 1681.5,258.7 1656.1,227.7 1677.1,326.5 1662.2,461.6 1576.5,355.5 1575.2,419.1 1557.7,283.0 1498.2,312.4 1651.7,287.5 1664.7,311.1 1361.5,388.1 1378.1,389.6 1582.0,355.4 1488.4,315.2 1424.2,412.0 1645.1,331.2 1620.0,353.0 1417.0,390.5 1439.3,392.8 1712.1,259.7 1578.9,325.3 1647.4,339.0 1658.9,360.4 1398.0,369.0 1628.5,327.2 1505.3,342.8 1701.2,338.0 1604.4,266.5 1485.1,340.1 1670.4,337.9 1638.6,294.1 1509.9,318.8 1701.9,390.3 1374.0,431.4 1692.9,324.4 1638.3,382.7 1506.7,362.5 1657.6,295.3 1521.7,347.7 1571.4,406.9 1559.7,327.5 1571.9,348.0 1354.9,423.6 1513.8,352.2 1501.7,348.2 1390.8,355.9 1636.1,356.0 1469.3,325.8 1465.5,301.2 1561.6,393.2 1449.2,429.0 1563.2,339.7 1584.2,355.9 1568.5,350.0 1594.4,397.3 1592.0,431.5 1615.3,369.7 1622.9,375.4 1539.6,298.5 1538.0,386.6 1677.3,300.5 1505.3,399.1 1365.1,370.8 1617.0,403.9 1466.0,440.2 1465.9,346.6 1561.4,334.4 1652.4,408.4 1623.3,397.0 1684.5,338.8 1478.7,409.5 1546.9,437.6 1493.9,357.8 1618.7,345.0 1663.9,324.6 1594.0,385.7 1440.0,393.6 1591.6,377.2 1546.4,321.1 1698.4,342.4 1662.5,331.8 1592.2,400.0 1562.1,275.1 1452.8,391.0 1599.3,383.1 1434.4,406.1 1608.6,386.7 1654.4,372.6 1596.6,355.9 1400.2,409.4 1646.8,330.3 1540.2,352.8 1627.1,304.7 1362.6,404.8 1450.7,395.1 1652.5,318.2 1614.2,313.1 1615.2,350.5 1636.8,364.4 1654.0,364.8 1381.5,344.8 1653.5,235.3 1560.3,421.6 1502.3,384.1 1661.6,343.7 1384.6,405.2 1471.0,310.0 1560.6,359.8 1444.9,381.1 1634.5,385.5 1531.3,278.5 1695.0,337.2 1647.7,375.0 1425.3,425.7 1422.2,384.4 1586.5,346.4 1593.9,366.8 1637.2,326.0 1645.2,323.6 1575.5,343.1 1565.4,367.6 1563.5,279.1 1559.6,372.9 1402.6,363.2 1612.3,407.1 1646.5,260.5 1507.4,289.0 1472.0,371.8 1638.6,338.7 1482.8,401.0 1444.3,354.8 1544.0,349.4 1396.7,415.2 1649.6,372.9 1436.3,388.7 1387.3,392.6 1672.6,373.9 1463.1,358.4 1491.5,309.2 1620.6,386.4 1660.0,357.5 1593.1,312.2 1451.2,420.5 1530.4,391.3 1456.6,335.2 1536.2,328.2 1504.5,425.5 1653.1,358.3 1694.4,365.1 1460.4,378.1 1634.6,306.8 1575.1,394.7 1562.3,398.0 1568.4,372.7 1530.0,346.0 1573.9,254.7 1641.4,383.0 1597.4,434.6 1573.8,410.2 1550.4,415.3 1550.0,393.1 1621.6,312.2 1653.0,311.5 1581.3,385.1 1567.6,387.9 1443.6,422.7 1450.0,401.5 1537.2,450.2 1463.8,288.9 1396.1,424.5 1522.0,375.0 1629.4,324.7 1534.7,327.4 1485.3,354.4 1465.3,396.2 1527.5,367.3 1679.8,233.5 1576.2,326.3 1348.4,380.3 1414.5,368.9 1384.0,338.9 1592.4,420.8 1450.4,413.9 1665.1,322.7 1701.0,320.1 1399.2,448.3 1377.2,417.2 1484.6,400.8 1596.5,213.0 1638.9,302.5 1596.2,375.5 1573.5,371.6 1458.1,368.8 1549.2,401.8 1617.1,290.9 1455.5,364.0 1693.0,377.8 1696.5,324.7 1596.1,251.4 1399.4,393.5 1548.3,294.4 1532.1,348.7 1398.6,447.8 1401.4,389.9 1522.1,346.1 1646.4,284.3 1391.6,347.5 1633.4,350.1 1634.7,371.6 1520.0,323.1 1647.5,291.3 1568.3,386.3 1561.5,343.3 1375.0,412.2 1628.4,350.0 1391.0,350.7 1566.6,384.0 1554.1,312.2 1344.6,490.1 1474.1,393.2 1486.3,420.9 1425.2,337.8 1548.2,342.1 1403.1,386.0 1637.7,427.4 1609.7,338.8 1365.4,422.9 1665.5,338.0 1678.6,337.7 1353.8,317.6 1629.2,326.5 1598.0,418.5 1538.8,237.9 1628.0,314.1 1553.8,344.7 1602.9,295.2 1613.7,366.5 1540.2,420.4 1613.6,275.1 1651.9,425.7 1374.0,314.8 1680.4,363.4 1567.2,411.8 1502.8,268.7 1543.4,375.7 1493.1,386.1 1356.1,441.6 1469.0,328.0 1462.4,413.8 1532.9,403.5 1548.6,416.0 1681.9,300.3 1562.8,380.0 1693.6,360.6 1480.3,404.8 1615.3,340.4 1353.3,404.7 1399.6,400.6 1588.6,368.9 1528.3,378.6 1415.2,380.8 1464.9,348.6 1644.6,338.3 1654.3,368.9 1549.4,425.1 1622.9,376.2 1539.4,334.7 1628.8,357.8 1459.3,338.2 1542.8,388.5 1581.4,378.3 1703.1,287.7 1365.9,364.5 1593.9,361.1 1393.5,362.2 1566.5,394.5 1366.4,460.1 1686.5,233.0 1489.1,325.1 1406.5,400.5 1458.1,352.5 1575.8,355.7 1638.3,311.2 1670.0,366.4 1629.0,306.0 1666.6,318.7 1395.8,427.9 1433.5,347.9 1634.0,326.7 1579.4,328.1 1538.3,418.8 1529.9,418.8 1486.9,378.3 1664.6,363.1 1559.7,398.1 1643.1,376.6 1579.8,301.0 1531.4,376.3 1487.6,341.6 1481.5,389.2 1579.2,406.7 1401.9,352.2 1669.5,375.6 1679.6,288.8 1527.6,397.6 1643.4,328.4 1620.9,392.9 1377.5,331.0 1420.4,430.9 1390.9,298.5 1543.8,330.9 1602.5,336.8 1591.5,376.3 1362.3,427.5 1627.5,393.9 1408.5,418.0 1530.7,289.5 1518.5,384.8 1543.9,303.7 1568.9,379.3 1708.6,296.7 1463.0,326.6 1396.7,401.4 1705.5,398.1 1673.4,342.8 1603.3,297.5 1511.3,298.7 1551.1,432.4 1423.7,333.6 1461.3,296.1 1583.4,402.0 1485.5,312.8 1648.8,337.5 1456.6,411.8 1580.8,416.2 1558.1,231.7 1553.9,325.6 1375.5,402.3 1497.5,332.7 1638.0,305.1 1597.8,337.1 1555.1,336.0 1605.3,339.1 1462.4,448.2 1591.1,360.5 1677.2,338.6 1596.7,357.5 1677.6,327.5 1558.1,377.2 1547.6,322.4 1583.1,437.8 1526.9,439.3 1583.9,299.7 1543.6,347.4 1507.9,368.9 1545.9,357.1 1432.1,344.6 1594.7,335.9 1447.0,370.4 1432.1,391.6 1496.6,395.7 1616.7,360.4 1650.8,375.4 1678.6,378.8 1521.5,354.7 1606.2,303.9 1494.7,300.9 1585.4,366.9 1669.9,353.0 1716.1,351.6 1464.7,435.1 1474.2,371.3 1480.5,338.9 1353.1,405.1 1657.0,300.1 1480.4,332.4 1422.4,447.9 1530.2,437.2 1609.4,351.9 1397.9,361.4 1426.8,382.6 1494.6,270.2 1662.0,316.5 1535.6,403.7 1555.1,312.2 1564.7,345.1 1628.5,401.4 1537.4,297.8 1549.2,295.3 1460.4,369.9 1501.7,417.1 1496.9,415.8 1557.4,432.8 1514.6,327.8 1456.4,453.6 1431.7,335.9 1541.1,250.7 1488.3,288.3 1572.9,380.4 1527.7,338.6 1523.1,415.0 1679.0,394.8 1580.7,366.8 1417.0,345.4 1689.4,350.8 1720.6,383.7 1484.5,339.5 1545.1,298.9 1558.4,399.7 1561.1,339.7 1605.5,302.1 1393.3,447.5 1545.0,393.2 1392.9,381.7 1378.8,412.9 1693.4,391.4 1653.3,407.9 1580.1,388.2 1371.3,319.6 1570.7,348.9 1551.6,336.4 1597.1,406.3 1696.3,229.6 1476.2,367.5 1560.1,383.5 1618.3,330.0 1398.1,329.6 1606.1,322.5 1630.4,254.1 1618.1,385.7 1402.7,394.4 1564.7,361.1 1632.6,340.4 1610.0,304.0 1541.0,323.5 1637.4,351.8 1516.9,403.5 1441.6,398.4 1551.2,356.1 1673.5,255.5 1595.7,370.3 1380.9,416.0 1612.4,272.6 1363.6,434.8 1623.9,287.6 1598.4,300.8 1579.3,359.5 1525.4,334.5 1555.2,323.1 1517.7,301.6 1503.5,377.2 1590.2,353.8 1584.6,351.3 1615.9,342.4 1474.3,335.3 1492.7,285.9 1507.6,356.7 1517.9,363.6 1588.9,338.7 1643.4,257.3 1456.4,377.4 1423.1,391.9 1648.5,345.5 1528.6,398.3 1567.2,275.1 1381.8,354.2 1549.5,298.1 1547.5,421.1 1424.8,352.1 1523.5,324.3 1656.7,308.9 1577.2,267.7 1494.0,418.4 1520.7,322.2 1410.6,367.8 1561.4,330.5 1702.3,397.0 1653.2,354.4 1464.5,344.0 1620.5,374.3 1511.1,328.7 1450.0,354.4 1567.1,313.8 1509.1,359.7 1696.2,274.6 1675.9,359.7 1496.5,366.4 1612.6,295.9 1656.4,335.5 1609.8,438.1 1480.4,356.7 1473.7,400.8 1502.2,303.5 1640.2,338.9 1375.5,410.3 1610.6,344.6 1447.1,404.7 1609.5,352.6 1597.5,352.1 1376.6,364.7 1590.4,406.0 1467.4,401.6 1488.6,323.0 1468.3,375.4 1551.4,407.6 1564.3,315.9 1660.2,353.8 1515.0,317.7 1506.6,328.2 1432.8,379.1 1389.8,487.9 1583.8,266.8 1412.3,451.9 1498.8,352.6 1481.7,365.0 1628.8,365.3 1718.2,278.9 1631.0,306.9 1520.3,382.1 1534.7,305.9 1679.7,368.9 1488.1,308.0 1697.0,255.6 1603.8,357.1 1681.9,382.2 1558.8,390.2 1542.4,380.5 1457.1,406.4 1616.5,327.9 1603.3,385.1 1674.1,277.3 1442.8,349.5 1442.8,408.1 1524.1,357.5 1524.6,383.9 1517.9,359.1 1341.2,373.5 1384.0,439.6 1669.8,369.1 1395.4,408.4 1620.4,361.1 1654.6,416.6 1651.6,345.8 1504.3,387.2 1502.9,315.9 1620.2,305.7 1396.1,371.6 1623.2,398.0 1667.3,396.3 1581.2,395.9 1580.0,389.3 1383.9,332.5 1540.6,281.8 1503.9,339.5 1507.1,317.2 1443.1,441.0 1399.9,324.0 1566.2,338.0 1515.6,353.3 1612.1,316.0 1383.7,298.1 1605.0,397.4 1364.8,394.3 1545.1,340.3 1397.0,352.8 1393.6,361.1 1535.4,339.0 1382.2,439.2 1642.3,339.7 1604.9,305.0 1684.2,369.9 1555.9,365.1 1347.4,405.1 1410.0,307.2 1537.3,389.1 1667.9,435.8 1539.3,392.3 1459.1,318.0 1669.3,234.6 1419.6,379.1 1565.8,363.1 1523.3,368.7 1496.9,397.7 1637.5,361.2 1600.3,334.4 1630.0,307.9 1558.2,336.6 1548.3,355.1 1679.8,337.8 1550.3,299.6 1687.0,373.5 1637.5,375.5 1416.8,321.6 1564.3,327.0 1626.2,337.8 1621.8,284.6 1537.8,385.9 1637.8,298.5 1592.6,297.2 1680.5,341.8 1484.7,301.1 1619.9,415.2 1432.2,368.2 1541.2,385.6 1537.0,376.7 1573.7,371.8 1655.3,366.1 1525.1,305.7 1364.2,460.4 1597.3,379.8 1576.1,336.3 1443.2,402.8 1426.4,380.1 1512.6,247.7 1685.2,308.8 1399.3,352.7 1541.8,354.0 1550.9,272.3 1379.8,330.3 1568.5,361.8 1371.3,367.7 1504.1,318.4 1509.1,350.0 1678.8,362.4 1557.1,362.3 1643.2,257.1 1575.3,373.0 1431.9,417.1 1695.9,365.4 1607.2,303.1 1384.5,328.9 1532.7,359.4 1537.9,319.4 1576.1,268.0 1618.9,321.2 1559.5,286.5 1572.5,365.8 1592.5,419.4 1667.4,344.1 1563.3,391.1 1445.0,343.7 1580.0,356.7 1384.2,424.3 1572.6,390.0 1570.0,357.2 1669.2,342.9 1350.6,407.3 1441.4,393.3 1558.1,376.2 1532.8,339.2 1449.7,409.0 1564.0,381.6 1410.0,317.0 1494.9,403.4 1654.0,297.2 1414.3,453.5 1701.2,443.0 1464.2,382.9 1495.3,403.9 1562.2,365.8 1624.5,311.0 1399.0,440.6 1615.2,288.7 1600.2,343.0 1414.0,388.6 1600.4,355.7 1630.2,249.7 1485.8,363.8 1500.7,360.1 1624.6,300.6 1380.7,362.8 1414.0,387.2 1355.2,391.4 1501.4,363.2 1483.6,394.6 1599.7,407.8 1564.3,304.6 1508.3,328.2 1519.8,312.4 1488.1,401.6 1439.7,349.0 1617.5,252.8 1540.3,329.9 1524.3,350.3 1613.0,357.2 1519.1,267.7 1417.4,387.8 1520.4,345.3 1593.3,287.1 1508.2,381.4 1624.6,381.6 1701.4,368.6 1709.6,416.8 1468.4,331.0 1618.7,242.9 1617.8,336.5 1536.2,415.8 1360.3,285.6 1489.9,354.0 1467.2,432.9 1634.9,361.7 1656.7,348.7 1541.1,372.1 1636.9,399.0 1587.1,326.9 1537.6,374.5 1593.6,377.2 1649.8,476.9 1695.9,373.4 1539.3,405.4 1628.9,308.8 1401.5,424.3 1412.1,383.0 1380.2,354.0 1667.6,382.9 1600.0,440.5 1348.8,342.4 1598.1,378.7 1451.9,409.4 1595.2,340.5 1516.0,380.2 1573.5,281.2 1556.6,343.0 1374.6,377.0 1667.8,395.5 1642.1,396.1 1480.1,446.6 1541.9,341.2 1492.2,189.4 1572.1,268.7 1609.9,345.0 1584.5,266.5 1508.7,428.2 1419.2,396.3 1601.5,374.2 1461.2,333.7 1665.3,309.3 1631.5,300.3 1670.6,380.8 1551.1,385.7 1676.9,332.1 1558.7,379.3 1614.5,393.8 1577.5,284.2 1370.5,412.2 1559.6,369.7 1658.3,213.4 1552.3,318.1 1509.4,397.9 1511.3,378.1 1563.7,241.6 1378.1,454.0 1378.3,417.7 1415.2,414.3 1504.4,250.7 1396.7,377.8 1519.4,333.8 1523.4,367.4 1600.4,318.1 1405.7,392.1 1618.7,343.4 1693.9,273.2 1524.3,335.6 1597.0,384.4 1351.0,355.4 1505.7,333.5 1512.4,312.0 1672.3,325.3 1502.5,391.3 1603.6,413.1 1590.4,416.8 1539.5,315.5 1545.5,412.9 1535.2,259.7 1349.5,388.7 1593.1,346.0 1504.6,390.1 1508.3,432.5 1576.7,336.2 1489.3,406.0 1544.6,379.2 1428.3,395.3 1563.6,303.2 1649.5,346.5 1471.6,385.9 1601.9,354.7 1695.9,393.9 1602.1,367.2 1555.4,294.9 1650.2,371.6 1676.4,399.9 1632.8,327.5 1557.5,394.7 1633.9,426.1 1587.1,290.3 1634.9,422.7 1497.3,383.9 1554.4,315.9 1492.0,318.8 1462.8,377.1 1698.4,409.5 1533.5,315.9 1484.9,427.8 1700.2,365.1 1629.3,330.6 1637.7,343.4 1629.2,301.1 1630.4,384.3 1688.4,361.9 1517.1,332.8 1669.2,359.9 1441.0,392.8 1692.6,336.9 1633.3,436.8 1391.4,379.4 1699.1,424.6 1636.9,309.6 1381.2,416.5 1497.2,324.6 1400.9,381.8 1436.6,397.9 1372.6,355.8 1482.5,359.1 1679.2,354.1 1478.2,374.1 1544.5,323.6 1659.3,302.7 1608.9,247.7 1385.4,371.9 1663.1,396.4 1514.9,404.1 1653.1,315.6 1470.8,279.2 1687.2,351.3 1576.9,459.0 1345.1,453.0 1516.1,372.9 1661.8,341.6 1532.7,226.5 1477.3,365.5 1679.3,417.2 1686.4,263.0 1674.3,349.3 1396.7,311.4 1376.0,391.0 1555.1,475.0 1619.8,368.8 1569.1,384.7 1530.7,407.3 1682.1,375.1 1395.7,410.4 1597.2,321.3 1386.6,437.3 1606.7,385.9 1579.9,311.0 1456.6,399.2 1565.6,298.1 1602.7,365.4 1465.7,376.9 1583.7,399.1 1464.8,333.2 1716.0,351.5 1443.4,428.6 1601.1,254.3 1595.8,338.8 1431.8,317.1 1507.2,445.1 1684.1,304.4 1496.5,324.1 1459.1,414.8 1499.6,244.0 1374.3,384.1 1619.6,347.6 1542.8,329.8 1497.0,309.3 1546.7,351.5 1699.7,404.9 1613.5,277.5 1436.5,328.9 1549.2,320.4 1414.8,287.1 1551.3,411.5 1598.7,357.0 1607.9,386.9 1422.0,388.9 1628.4,366.4 1528.7,388.1 1525.0,376.3 1647.5,354.3 1565.1,379.8 1630.6,343.9 1682.4,403.4 1659.0,281.0 1616.8,393.6 1511.3,369.9 1492.1,413.7 1438.2,341.3 1414.3,357.4 1558.9,356.6 1448.9,338.1 1652.0,333.9 1407.7,428.3 1553.4,370.5 1349.0,327.5 1516.7,360.2 1389.7,387.5 1590.5,343.9 1525.1,371.5 1666.5,318.4 1710.6,249.8 1506.6,377.4 1583.6,387.1 1538.1,416.2 1411.0,410.1 1430.3,406.6 1621.5,358.6 1654.1,307.1 1474.4,314.2 1620.2,394.0 1682.1,262.6 1582.6,408.0 1391.3,382.2 1549.0,360.0 1588.3,468.1 1406.4,376.1 1354.6,337.4 1504.4,376.6 1469.6,461.9 1580.6,398.0 1443.3,318.0 1413.0,393.7 1462.3,384.7 1560.1,358.2 1487.0,337.7 1594.7,368.1 1603.9,362.1 1477.2,430.8 1623.9,373.5 1584.9,387.8 1587.2,375.3 1430.4,355.2 1617.5,302.6 1385.0,321.3 1457.7,332.3 1451.9,398.4 1437.9,405.8 1631.4,323.1 1373.8,408.4 1533.1,388.5 1594.1,343.6 1568.4,470.2 1576.0,384.8 1602.0,338.3 1530.9,305.0 1605.5,357.5 1612.9,388.6 1661.6,416.6 1646.2,333.3 1655.3,411.4 1640.9,383.2 1652.8,356.4 1533.1,369.7 1611.5,360.8 1481.3,379.4 1523.8,278.1 1569.5,436.9 1615.0,412.0 1511.4,373.6 1439.3,342.7 1658.9,313.8 1535.1,408.4 1652.4,410.9 1425.6,361.3 1538.5,338.7 1443.4,360.1 1418.4,427.4 1469.7,287.3 1638.5,421.4 1575.5,257.3 1680.0,400.1 1580.9,386.9 1518.9,401.4 1492.5,386.0 1364.9,314.1 1603.9,349.7 1507.0,421.6 1642.1,368.9 1500.2,340.6 1373.2,373.3 1543.2,368.1 1614.3,353.4 1520.2,378.8 1579.0,375.2 1609.7,356.5 1662.7,382.0 1464.9,276.9 1532.1,319.7 1509.4,313.0 1394.2,416.9 1478.2,327.0 1426.7,431.5 1556.0,399.1 1644.7,386.8 1413.3,306.5 1647.5,269.9 1644.6,330.7 1593.4,361.1 1583.5,358.2 1534.8,377.1 1396.2,413.7 1559.4,330.2 1438.6,278.0 1456.5,367.3 1613.1,271.2 1459.1,323.5 1682.8,367.5 1501.6,337.4 1599.1,436.7 1669.3,301.7 1560.1,417.1 1515.0,346.3 1556.6,399.4 1452.8,390.9 1555.9,370.4 1468.5,369.9 1467.6,368.3 1557.3,387.7 1592.4,384.6 1345.1,412.6 1545.6,376.7 1596.8,345.7 1649.8,341.5 1641.0,358.2 1631.8,349.5 1597.0,365.9 1607.5,349.9 1459.7,363.6 1663.5,283.8 1575.7,348.9 1609.6,290.9 1588.7,341.4 1657.3,313.0 1533.1,306.3 1594.6,390.4 1667.4,350.1 1390.9,402.0 1555.8,355.1 1541.1,418.0 1577.1,382.1 1667.6,444.4 1614.0,357.1 1409.7,433.1 1452.7,390.4 1514.7,417.0 1437.0,394.2 1634.4,332.2 1539.6,397.9 1677.4,374.5 1684.2,360.6 1634.0,387.4 1501.7,397.8 1436.8,383.1 1616.8,373.5 1499.8,443.5 1662.8,297.8 1665.6,402.7 1501.6,396.5 1681.8,420.1 1471.8,367.6 1555.7,360.9 1397.3,386.4 1554.7,382.9 1607.9,356.8 1597.2,391.7 1496.9,285.9 1598.2,300.9 1458.0,394.3 1531.2,350.1 1585.0,366.7 1639.9,439.7 1549.4,353.8 1437.6,398.7 1522.7,361.6 1642.9,342.9 1545.6,264.7 1568.1,441.1 1655.2,389.2 1627.5,318.4 1401.9,341.8 1676.9,433.4 1507.1,393.4 1578.5,373.6 1484.8,361.1 1549.3,370.4 1564.5,414.9 1500.1,345.5 1515.0,386.1 1585.5,367.5 1663.7,428.9 1686.6,308.9 1477.8,392.0 1589.4,362.4 1424.9,394.7 1451.5,368.3 1599.3,333.3 1526.4,320.4 1635.2,383.7 1519.5,378.6 1351.3,387.6 1432.1,428.8 1495.2,361.4 1595.4,404.9 1648.2,415.4 1645.6,361.4 1476.0,297.9 1615.7,387.3 1418.4,462.0 1606.6,340.0 1651.7,345.3 1522.5,431.6 1540.1,380.3 1581.7,334.7 1657.9,306.5 1552.2,419.9 1602.4,352.7 1698.5,348.1 1600.3,426.0 1581.5,450.6 1380.6,430.1 1543.1,352.7 1502.4,336.0 1621.6,363.2 1480.2,452.2 1628.9,232.6 1566.0,426.9 1686.4,385.5 1531.9,323.3 1644.2,264.9 1475.9,365.4 1541.4,359.1 1425.5,386.7 1499.6,339.2 1599.3,369.5 1459.1,393.2 1421.1,389.7 1546.6,274.1 1622.3,333.2 1684.6,331.7 1498.1,369.4 1623.3,304.6 1693.2,345.6 1544.6,346.8 1473.5,377.0 1502.1,321.4 1657.2,350.7 1612.7,396.5 1386.9,396.4 1429.2,344.7 1515.3,340.4 1493.0,384.5 1548.8,303.7 1443.8,396.3 1634.3,308.0 1565.5,314.6 1693.0,399.2 1718.8,274.8 1496.3,405.8 1675.5,291.5 1462.1,311.6 1484.1,316.3 1616.7,399.1 1522.9,346.5 1370.9,348.2 1492.4,334.2 1647.3,296.6 1556.6,383.6 1458.3,384.8 1632.9,427.8 1536.1,379.7 1557.9,395.4 1452.4,400.9 1436.4,380.8 1638.7,358.1 1648.0,301.8 1518.2,370.1 1593.9,303.5 1422.0,394.6 1617.2,331.5 1662.1,375.4 1592.1,282.4 1477.2,275.5 1534.9,396.9 1512.5,283.5 1532.5,253.3 1603.7,362.1 1477.9,381.2 1669.6,380.8 1666.5,496.1 1360.6,447.1 1557.3,372.9 1647.6,274.0 1443.5,404.7 1485.7,355.0 1400.0,342.7 1543.2,403.1 1482.5,380.0 1645.1,383.9 1476.3,404.4 1439.3,365.4 1398.3,417.5 1508.2,328.1 1429.0,442.0 1625.8,284.9 1440.2,388.8 1420.1,336.9 1470.5,283.3 1443.9,426.2 1548.9,234.9 1491.3,396.8 1368.4,370.3 1584.1,362.1 1423.4,384.5 1351.8,413.8 1414.6,431.1 1552.3,366.9 1710.5,280.9 1583.7,350.4 1670.9,293.4 1476.8,332.6 1532.7,423.5 1591.3,351.0 1565.7,361.1 1391.9,404.9 1362.3,411.6 1342.2,324.8 1637.7,412.0 1665.4,428.4 1654.9,348.8 1588.4,329.2 1492.8,393.1 1636.2,360.9 1506.1,374.9 1428.9,419.0 1550.1,351.8 1405.6,420.4 1487.4,353.6 1542.1,366.5 1636.0,343.1 1523.0,388.3 1569.4,347.5 1596.3,369.6 1573.9,348.2 1414.6,342.3 1480.0,321.2 1632.4,294.0 1607.4,396.8 1470.6,386.5 1379.3,353.9 1649.9,367.1 1507.7,421.2 1471.9,354.6 1581.3,331.3 1372.9,401.6 1515.4,347.5 1641.8,304.3 1343.1,337.2 1417.3,441.0 1592.4,400.3 1616.2,417.3 1541.0,290.0 1562.1,361.0 1570.5,328.1 1534.7,307.4 1576.4,376.4 1633.4,393.1 1446.4,394.2 1444.9,425.7 1431.3,360.4 1523.7,317.2 1539.1,343.8 1582.0,368.0 1407.2,409.4 1344.8,306.6 1428.6,317.5 1669.2,343.7 1423.5,386.3 1572.5,324.9 1631.6,362.2 1559.8,378.9 1659.4,398.1 1480.0,462.6 1568.8,366.3 1597.2,338.2 1629.0,323.6 1717.9,260.5 1345.6,307.3 1602.6,337.1 1353.4,400.4 1494.5,382.5 1458.8,415.3 1360.9,346.8 1586.0,297.6 1632.0,415.1 1587.5,243.1 1435.9,329.5 1671.5,282.5 1639.7,347.5 1558.4,421.8 1416.4,420.1 1473.1,432.0 1635.0,281.2 1680.6,380.2 1642.0,324.1 1561.8,320.1 1510.4,328.5 1563.5,383.7 1602.5,302.0 1426.6,452.4 1593.3,302.4 1595.0,351.6 1384.1,389.8 1353.0,422.6 1423.2,395.2 1577.7,313.8 1657.0,284.0 1633.3,288.7 1435.9,278.7 1644.6,408.6 1523.7,384.0 1704.1,358.5 1380.9,332.1 1587.9,368.1 1633.5,386.5 1622.0,381.4 1595.5,420.5 1571.0,354.0 1356.1,348.5 1636.3,375.7 1477.8,327.8 1398.6,433.5 1585.2,365.1 1359.0,389.3 1411.1,395.2 1370.3,428.2 1433.1,484.5 1457.9,431.8 1546.7,410.4 1578.2,360.6 1519.2,372.6 1381.7,454.2 1614.2,300.0 1418.8,327.8 1486.2,398.1 1673.2,420.1 1493.0,368.5 1667.2,287.6 1456.4,362.2 1365.0,437.2 1421.2,395.1 1459.9,379.6 1475.0,331.8 1643.6,259.7 1643.6,406.8 1420.8,333.1 1573.1,430.5 1606.4,310.8 1611.3,283.4 1611.3,354.6 1544.5,360.8 1566.3,361.5 1586.9,406.2 1579.9,290.6 1538.9,390.1 1407.8,435.7 1526.3,371.0 1501.2,369.7 1662.3,284.7 1552.4,388.2 1672.1,421.3 1416.9,414.4 1453.0,313.1 1492.6,384.4 1598.5,329.0 1597.8,366.2 1591.1,304.7 1474.9,388.9 1458.5,325.8 1636.1,340.1 1393.7,356.1 1605.3,351.2 1372.3,368.5 1579.2,356.0 1595.3,270.4 1635.8,346.4 1445.8,318.9 1481.9,323.6 1507.3,444.7 1552.1,349.4 1430.9,371.1 1589.4,272.7 1572.2,264.1 1584.0,316.2 1606.5,307.2 1590.8,383.8 1586.1,379.1 1696.7,356.3 1458.3,395.7 1616.9,346.6 1524.7,286.1 1447.3,336.9 1501.0,329.8 1576.8,343.1 1658.7,344.2 1570.2,421.5 1531.7,347.5 1449.4,300.1 1665.1,350.8 1404.2,345.5 1613.6,285.1 1568.3,307.3 1539.9,331.7 1421.0,397.5 1666.9,344.3 1607.0,338.6 1468.0,324.2 1653.1,417.5 1556.3,347.5 1571.6,305.6 1593.5,309.7 1568.7,281.5 1402.6,333.2 1539.7,364.8 1585.7,324.7 1678.5,337.5 1655.5,346.1 1364.6,344.0 1570.7,372.3 1517.4,353.0 1479.1,350.5 1540.3,434.0 1437.7,393.5 1656.7,363.5 1608.2,380.6 1511.3,322.9 1625.4,386.0 1465.7,408.1 1681.3,344.4 1556.8,392.3 1594.7,243.5 1647.3,294.1 1668.4,288.3 1440.0,313.7 1580.1,358.4 1492.9,380.9 1700.4,365.8 1566.8,405.6 1469.4,350.7 1606.9,310.6 1655.4,373.1 1607.1,369.0 1615.4,327.7 1576.7,304.3 1407.3,356.2 1631.5,336.2 1677.3,334.9 1591.5,368.7 1595.1,323.4 1574.1,280.2 1571.9,409.8 1665.0,313.6 1482.0,287.6 1503.1,387.0 1584.7,408.7 1477.2,371.6 1670.8,278.4 1701.4,402.4 1401.3,392.0 1695.9,274.2 1387.2,434.2 1558.0,271.1 1639.2,363.5 1684.6,323.3 1624.7,322.2 1562.2,361.4 1428.3,365.0 1394.9,290.2 1517.6,278.6 1657.5,342.8 1650.3,337.2 1637.1,284.5 1473.4,412.8 1529.0,398.3 1596.1,398.2 1504.4,371.8 1599.2,338.0 1545.5,388.6 1631.1,425.7 1426.8,436.0 1659.6,289.4 1597.4,352.8 1598.9,452.9 1521.7,382.3 1499.5,376.5 1442.6,307.7 1490.8,407.5 1567.4,396.5 1666.0,381.9 1487.8,422.8 1457.6,338.9 1542.6,350.2 1462.9,341.0 1426.8,410.8 1471.9,431.5 1550.8,354.4 1556.9,361.5 1398.3,346.9 1682.4,356.2 1620.0,373.4 1642.3,281.5 1448.8,444.5 1482.6,354.7 1422.5,353.6 1554.7,395.6 1586.1,382.3 1652.4,337.7 1569.1,299.9 1440.9,274.0 1402.3,331.4 1704.1,386.7 1456.5,317.6 1504.4,371.6 1534.0,370.9 1637.4,365.2 1564.2,346.6 1644.0,408.5 1657.4,293.6 1520.1,416.5 1701.9,303.7 1462.1,395.2 1577.8,311.5 1508.9,279.3 1701.3,208.2 1617.1,361.0 1584.5,342.2 1382.5,434.5 1638.7,379.4 1531.1,274.0 1546.6,411.6 1409.7,344.0 1665.7,280.1 1428.8,361.4 1497.4,380.4 1585.0,311.1 1573.3,402.0 1592.5,392.9 1514.7,373.7 1602.7,393.3 1432.1,393.5 1678.1,360.1 1648.0,411.6 1362.4,419.6 1628.2,390.5 1644.1,377.4 1615.4,292.0 1575.9,369.5 1442.9,401.1 1711.0,360.4 1416.9,359.1 1535.1,380.3 1392.6,460.6 1480.1,400.0 1556.7,366.1 1410.9,376.8 1646.8,432.1 1605.2,363.3 1431.3,425.2 1519.1,344.5 1547.6,387.5 1428.0,401.1 1466.3,312.8 1577.2,260.7 1643.8,369.3 1584.8,253.2 1587.2,370.0 1592.5,347.4 1642.9,363.4 1473.5,296.5 1424.9,203.7 1687.6,269.6 1405.4,301.4 1666.4,335.6 1605.3,313.5 1668.5,320.3 1493.4,392.2 1669.7,311.1 1556.1,216.8 1467.9,348.9 1431.5,389.9 1359.0,307.0 1467.7,375.6 1368.7,365.5 1444.4,330.4 1636.7,353.4 1366.7,417.2 1641.5,314.4 1663.8,349.1 1515.5,351.7 1561.7,357.9 1605.2,257.0 1632.3,314.4 1563.9,247.0 1388.3,360.5 1670.9,301.2 1686.4,365.6 1591.5,390.8 1521.7,241.5 1426.7,262.2 1520.2,386.5 1590.0,341.9 1537.7,387.0 1551.4,354.4 1448.2,325.0 1662.5,333.3 1618.5,379.5 1503.5,402.3 1539.9,338.4 1635.4,430.0 1549.1,370.6 1428.4,393.3 1547.7,295.7 1589.6,376.9 1628.7,364.1 1633.1,342.7 1400.1,346.4 1628.3,401.7 1459.2,359.6 1680.5,371.9 1561.4,355.9 1608.5,310.3 1515.8,432.8 1685.4,386.3 1484.3,345.3 1525.1,401.0 1694.0,316.1 1414.8,328.1 1488.8,406.6 1415.0,444.8 1633.5,386.9 1587.7,380.2 1669.7,277.9 1579.8,349.7 1590.0,404.2 1564.6,419.2 1620.2,306.5 1378.5,376.2 1500.6,345.9 1553.1,316.9 1393.5,376.3 1417.2,380.7 1635.2,380.5 1682.9,281.2 1531.1,372.9 1659.2,338.2 1664.0,332.0 1456.0,436.4 1598.0,413.5 1494.5,429.3 1599.7,304.8 1451.9,338.9 1472.8,348.4 1503.3,393.6 1610.0,303.5 1459.5,321.6 1524.4,407.3 1449.3,358.5 1664.1,304.1 1624.6,416.4 1615.3,306.1 1605.5,344.0 1421.3,308.6 1670.5,350.0 1575.6,271.9 1680.8,323.4 1406.5,417.5 1448.9,456.0 1421.1,480.7 1587.3,343.6 1634.6,313.0 1631.1,342.8 1596.7,342.0 1667.8,345.9 1573.9,349.0 1550.5,431.8 1651.2,376.4 1578.9,291.2 1607.9,336.4 1529.2,315.8 1686.1,299.7 1606.3,387.3 1363.4,467.2 1429.0,376.5 1354.8,378.0 1549.9,326.9 1479.6,378.5 1371.9,389.4 1557.5,402.7 1515.5,415.5 1344.4,387.7 1384.0,345.8 1622.3,261.4 1545.2,282.2 1460.2,386.9 1548.0,385.6 1433.6,366.9 1527.4,316.6 1480.3,416.3 1408.1,343.9 1431.5,302.2 1426.6,368.9 1390.3,330.5 1418.6,350.2 1550.1,413.2 1616.8,398.7 1654.1,371.0 1547.8,372.5 1556.8,361.3 1467.3,377.3 1448.2,359.6 1497.2,446.1 1595.0,328.0 1545.2,369.0 1458.7,348.8 1511.5,353.9 1352.3,396.6 1661.0,202.8 1611.0,379.6 1423.3,349.9 1621.7,337.6 1707.7,365.0 1587.2,310.8 1612.6,397.4 1541.8,369.9 1569.8,349.9 1587.7,370.1 1515.2,362.3 1662.4,380.1 1627.6,318.4 1613.0,245.2 1447.8,437.6 1550.0,353.0 1595.8,304.8 1589.4,434.6 1682.1,269.3 1561.2,382.3 1388.5,414.6 1700.5,340.3 1655.3,336.9 1545.8,375.8 1395.5,392.5 1651.5,357.0 1707.9,332.7 1475.6,388.4 1424.2,371.2 1440.9,311.1 1500.7,382.9 1402.5,300.2 1509.0,384.7 1557.4,372.1 1341.5,452.5 1468.7,366.6 1535.0,368.2 1629.2,445.3 1360.2,420.4 1657.6,331.9 1696.2,290.6 1423.6,412.9 1512.2,378.2 1444.8,351.9 1610.8,425.8 1557.6,389.1 1543.7,333.0 1366.3,368.5 1488.0,345.5 1472.6,364.8 1530.1,357.5 1457.4,378.3 1653.0,381.4 1668.8,381.8 1389.4,395.5 1651.1,268.5 1600.0,326.6 1472.5,265.2 1563.8,375.5 1415.2,421.2 1571.4,243.4 1552.4,305.8 1619.1,318.2 1620.4,318.4 1624.5,312.2 1465.7,426.9 1458.7,312.5 1638.2,300.2 1370.2,290.6 1564.3,381.0 1421.7,397.7 1575.3,410.6 1364.8,371.1 1371.1,502.8 1545.3,353.8 1487.4,307.5 1665.2,263.4 1679.1,318.5 1605.6,358.5 1432.7,337.1 1656.0,387.5 1654.0,303.6 1377.6,349.5 1648.2,351.2 1513.9,271.9 1683.4,317.2 1587.0,402.9 1561.7,497.7 1399.6,364.4 1580.2,447.0 1652.0,263.2 1620.9,342.4 1485.4,359.7 1631.6,323.4 1476.9,316.1 1641.4,307.2 1367.0,433.9 1359.1,370.9 1379.1,344.4 1500.3,354.9 1681.0,389.1 1544.3,395.8 1554.7,339.7 1552.3,385.6 1454.1,325.0 1581.6,191.0 1647.3,308.2 1512.1,428.0 1512.1,346.1 1634.9,299.7 1488.1,282.6 1644.1,279.7 1606.4,325.9 1684.1,284.1 1375.0,398.4 1540.6,370.2 1643.9,294.6 1574.7,321.1 1717.8,360.8 1686.5,367.5 1396.3,420.1 1420.6,401.1 1634.8,399.6 1643.6,328.9 1545.6,264.9 1402.6,352.8 1508.6,314.0 1612.8,381.1 1576.6,378.0 1545.6,420.1 1502.5,425.3 1605.0,396.3 1619.4,345.1 1520.2,276.2 1596.8,353.5 1474.6,320.9 1353.6,398.9 1662.7,294.1 1568.2,332.0 1434.1,384.3 1625.4,342.3 1454.0,449.8 1638.2,382.0 1404.7,368.1 1535.4,383.8 1449.5,480.4 1531.9,372.9 1394.1,330.2 1685.8,381.3 1466.2,405.0 1617.6,305.9 1560.7,378.4 1569.0,371.9 1687.2,348.4 1642.8,340.8 1574.9,422.6 1584.6,380.6 1608.4,268.0 1385.3,400.7 1457.0,382.6 1663.8,389.8 1638.3,382.7 1444.9,423.3 1520.1,331.4 1621.3,377.5 1607.0,365.3 1460.2,382.8 1614.0,371.1 1429.5,407.6 1560.3,350.2 1547.8,406.8 1675.5,315.5 1657.9,365.5 1451.7,348.0 1632.3,339.8 1655.2,334.8 1459.9,372.9 1632.6,294.3 1593.1,365.6 1547.5,312.8 1555.8,327.6 1601.3,346.0 1461.6,344.2 1659.6,395.4 1556.3,395.8 1557.1,340.4 1613.9,322.6 1595.4,363.6 1502.6,396.1 1538.3,339.3 1468.1,386.7 1574.0,355.8 1466.5,371.2 1618.4,325.7 1603.6,373.8 1583.3,398.3 1506.5,358.3 1502.5,341.3 1530.2,433.1 1677.6,344.4 1634.1,342.4 1504.1,344.7 1491.6,304.1 1428.0,366.7 1508.6,355.9 1537.6,325.8 1547.3,382.7 1396.1,366.4 1500.8,315.5 1496.0,311.0 1600.0,355.4 1369.2,355.7 1475.2,335.0 1360.4,432.9 1381.4,416.8 1523.6,382.3 1413.2,384.4 1392.6,343.6 1590.5,318.7 1466.7,421.5 1507.0,434.6 1582.0,310.9 1512.2,357.2 1639.7,358.6 1475.4,237.4 1683.0,408.3 1432.1,408.0 1409.8,399.0 1543.3,403.6 1589.6,401.5 1642.2,410.5 1381.3,411.9 1501.1,450.7 1522.9,372.5 1526.1,344.3 1420.4,411.6 1378.9,323.1 1644.4,388.6 1607.5,401.8 1379.5,414.5 1603.3,321.0 1556.8,284.4 1516.7,364.0 1438.6,408.8 1436.4,369.5 1628.2,339.6 1637.1,346.2 1455.7,301.8 1668.4,330.4 1407.0,441.8 1662.0,315.3 1618.5,323.4 1521.5,282.9 1571.0,337.8 1494.6,376.8 1437.0,398.0 1539.3,304.5 1560.6,357.5 1560.5,375.0 1657.2,350.9 1480.1,394.4 1473.1,367.4 1678.1,329.1 1631.7,264.9 1582.4,345.4 1554.7,388.9 1432.9,418.8 1693.3,291.3 1615.0,330.8 1587.7,418.9 1645.9,419.0 1571.4,385.4 1629.6,305.3 1586.5,239.7 1486.8,319.8 1586.9,332.3 1473.9,393.8 1509.0,378.7 1574.0,350.5 1547.0,356.6 1454.3,367.4 1525.1,396.9 1547.2,289.6 1558.4,389.3 1609.2,319.2 1609.6,290.1 1386.9,390.7 1542.7,301.1 1630.8,275.4 1669.9,326.0 1604.4,433.0 1444.2,380.3 1415.2,396.3 1429.8,338.1 1405.4,427.9 1628.4,290.1 1668.1,361.0 1600.4,402.0 1546.9,393.2 1467.1,426.8 1497.5,364.0 1679.3,391.3 1644.4,375.6 1680.2,354.6 1616.2,342.2 1370.0,404.1 1372.8,306.1 1644.8,421.9 1495.9,424.8 1592.4,314.9 1564.3,401.8 1676.8,373.2 1617.2,353.4 1666.7,264.6 1617.7,388.7 1636.1,407.6 1601.8,290.3 1406.5,349.4 1662.8,396.6 1421.5,350.9 1705.9,401.0 1467.0,409.4 1552.4,385.6 1569.6,335.6 1551.4,346.1 1442.4,380.8 1556.4,389.5 1553.0,395.1 1653.5,376.1 1461.8,453.4 1389.0,444.0 1611.5,342.3 1686.9,290.3 1483.0,377.8 1536.5,313.7 1553.8,322.6 1536.6,359.3 1544.0,383.7 1560.2,292.4 1635.3,250.1 1423.1,433.3 1516.6,340.9 1460.8,338.2 1369.6,394.3 1623.4,343.9 1665.7,286.3 1624.7,361.5 1430.9,388.0 1692.3,470.2 1528.4,397.8 1504.9,431.5 1501.8,374.3 1470.6,307.3 1503.9,435.7 1375.4,395.7 1547.2,322.9 1605.7,351.7 1560.2,304.4 1585.6,316.8 1460.3,326.8 1567.4,334.5 1497.1,435.5 1494.7,414.8 1447.9,382.1 1544.0,372.2 1658.0,391.5 1637.7,407.3 1413.7,404.0 1643.5,309.9 1530.1,294.1 1624.2,341.2 1543.0,330.7 1642.4,358.5 1573.4,335.0 1507.1,265.9 1524.5,398.8 1600.8,278.1 1404.6,353.9 1405.6,257.6 1493.1,378.5 1433.2,309.5 1498.5,331.8 1539.6,375.4 1608.3,395.7 1468.7,395.1 1592.9,289.8 1525.9,397.1 1445.5,393.9 1608.6,212.0 1592.9,374.3 1534.3,379.3 1667.3,376.6 1623.6,312.4 1550.1,359.6 1455.9,438.3 1594.0,342.9 1368.9,380.6 1702.3,408.2 1601.1,404.3 1550.6,292.4 1660.7,383.3 1606.5,237.8 1569.6,325.6 1604.0,386.2 1465.5,260.9 1667.4,392.3 1614.7,396.4 1536.0,364.3 1497.7,303.6 1630.4,358.5 1419.9,382.3 1496.1,413.5 1376.7,397.9 1386.2,367.9 1466.7,384.1 1445.6,399.4 1657.5,306.2 1404.5,458.7 1351.7,257.4 1648.8,401.1 1509.6,403.1 1620.6,240.7 1533.8,348.9 1511.0,392.7 1587.9,402.5 1518.4,381.1 1539.9,422.9 1653.8,297.8 1557.6,308.3 1437.6,352.2 1382.1,397.5 1651.8,364.5 1564.6,376.0 1490.8,395.1 1419.5,333.3 1655.2,233.0 1619.6,389.9 1401.1,281.8 1536.1,351.9 1607.2,348.7 1398.1,362.8 1476.0,399.5 1369.9,376.0 1579.2,366.3 1434.3,404.4 1664.8,303.1 1481.7,388.4 1481.8,376.0 1470.1,384.6 1661.1,319.8 1615.8,393.8 1390.6,441.6 1540.7,383.1 1559.9,352.5 1632.0,383.9 1609.5,265.7 1588.6,336.3 1516.6,385.4 1438.2,346.6 1532.3,422.8 1643.8,391.1 1409.7,351.8 1470.4,404.5 1598.6,362.0 1618.6,317.1 1526.1,409.9 1656.7,357.5 1546.6,401.2 1524.3,334.8 1375.6,391.9 1468.4,452.4 1643.5,343.6 1687.3,258.6 1687.5,306.9 1464.4,390.1 1530.1,252.6 1402.4,399.9 1698.6,321.1 1570.9,416.5 1444.8,311.1 1551.8,376.1 1631.1,230.5 1583.7,349.1 1692.9,402.1 1487.1,307.0 1451.0,430.4 1644.4,328.7 1660.8,346.2 1559.6,404.1 1431.2,387.8 1578.1,365.5 1559.1,382.2 1402.6,394.8 1575.8,336.6 1603.5,369.2 1531.2,389.5 1619.0,332.2 1420.0,333.1 1656.9,337.5 1635.3,380.8 1557.1,330.4 1456.1,385.1 1653.4,376.3 1529.2,412.2 1568.5,404.4 1414.3,362.3 1670.8,368.9 1618.0,334.9 1400.1,439.5 1356.2,358.4 1538.5,226.5 1647.0,321.3 1557.1,388.3 1654.6,380.5 1631.3,366.2 1358.6,400.9 1622.2,380.8 1522.7,372.1 1683.9,299.1 1555.8,277.5 1593.1,287.2 1567.8,354.1 1665.4,435.9 1598.3,389.8 1597.9,405.6 1456.4,423.8 1534.5,318.3 1663.5,429.0 1583.1,358.0 1433.0,395.2 1460.9,384.3 1447.7,346.9 1599.6,258.9 1492.9,278.0 1529.2,351.0 1414.3,345.4 1648.8,281.9 1620.0,373.8 1394.0,391.2 1678.5,376.6 1436.7,407.3 1687.7,416.9 1677.5,353.3 1526.6,384.8 1596.7,378.5 1368.7,436.0 1394.7,364.9 1526.1,409.0 1589.5,250.9 1571.2,354.7 1649.8,284.8 1709.6,315.2 1677.7,281.1 1516.4,377.1 1514.4,387.7 1645.3,304.8 1626.3,344.0 1365.9,423.2 1577.6,389.2 1619.4,358.0 1666.4,271.4 1545.8,360.1 1682.0,360.7 1604.8,355.3 1372.3,378.2 1532.8,306.4 1650.2,274.3 1456.0,338.9 1358.9,439.8 1618.2,358.2 1606.7,335.1 1346.4,379.1 1591.3,361.0 1552.0,353.0 1530.1,228.7 1373.0,376.5 1581.9,371.3 1660.8,388.8 1574.8,377.1 1682.9,422.2 1583.4,345.4 1625.1,332.2 1604.1,384.3 1650.1,465.6 1566.6,454.9 1389.3,428.3 1672.1,349.2 1582.9,316.1 1669.1,359.8 1608.5,308.0 1708.7,329.1 1544.4,335.3 1667.3,243.7 1481.1,377.8 1607.2,381.1 1480.7,302.5 1596.1,400.3 1664.7,281.8 1453.5,365.5 1396.0,454.4 1409.9,426.3 1660.7,360.4 1436.2,440.2 1371.2,412.3 1472.3,327.3 1482.1,390.3 1626.6,354.7 1610.5,342.2 1537.0,409.1 1490.4,272.7 1452.0,380.5 1617.3,345.2 1441.4,401.6 1470.8,359.5 1455.4,297.3 1379.1,319.5 1715.0,359.9 1634.5,325.1 1720.2,377.3 1522.2,376.2 1624.7,381.2 1715.0,277.3 1413.4,388.5 1508.2,304.8 1480.8,357.5 1670.4,238.4 1463.9,378.6 1720.5,405.3 1458.5,403.2 1368.4,433.2 1538.0,286.0 1546.0,268.3 1441.2,412.3 1557.2,356.5 1658.6,436.0 1416.2,268.6 1382.9,385.0 1573.8,368.7 1492.3,418.3 1377.4,413.0 1543.9,338.1 1440.3,391.2 1460.2,364.5 1568.4,313.3 1669.8,306.9 1516.2,469.6 1356.6,323.4 1470.6,371.3 1449.0,352.2 1697.6,320.6 1518.7,388.2 1584.2,368.0 1579.5,338.0 1634.2,387.8 1519.1,326.3 1528.8,278.1 1669.8,358.9 1502.1,435.6 1386.3,335.4 1509.4,413.8 1587.5,366.4 1604.1,356.9 1658.5,254.5 1622.7,345.5 1467.7,366.5 1594.2,250.4 1489.7,330.1 1665.4,317.7 1700.5,346.3 1559.5,370.5 1378.7,405.1 1624.4,387.4 1661.1,353.8 1495.8,348.8 1352.7,432.3 1368.1,392.6 1478.2,398.9 1578.1,383.1 1375.7,356.9 1458.8,308.8 1557.2,277.0 1546.8,292.9 1441.7,424.1 1470.7,383.4 1614.9,324.1 1519.4,286.8 1633.5,407.3 1449.0,375.5 1523.1,312.0 1667.7,366.0 1608.4,290.6 1636.8,178.8 1517.6,444.4 1623.1,361.0 1520.8,409.6 1577.5,338.5 1616.0,326.3 1624.6,403.7 1683.6,386.9 1641.3,351.2 1560.3,308.8 1546.9,364.8 1628.9,337.5 1407.5,436.5 1665.2,301.8 1452.7,407.0 1561.3,387.9 1454.6,443.8 1578.4,365.2 1537.8,386.7 1396.2,386.7 1539.0,365.9 1544.3,428.2 1586.4,296.3 1373.1,389.5 1624.3,314.9 1606.4,366.0 1668.5,326.3 1461.7,387.6 1668.9,286.5 1562.1,405.3 1377.6,311.6 1680.8,380.6 1565.7,372.2 1554.0,349.7 1551.4,350.6 1555.4,291.7 1525.1,370.8 1703.5,284.3 1600.1,313.0 1412.8,417.7 1584.3,304.6 1619.1,418.2 1399.0,346.1 1442.3,339.8 1517.5,409.2 1402.5,317.5 1524.5,334.5 1553.7,294.6 1655.2,290.1 1576.2,233.3 1432.1,371.8 1658.5,351.3 1558.7,394.9 1439.3,381.4 1647.4,372.7 1461.6,383.8 1459.9,332.4 1499.2,391.3 1382.2,393.5 1479.0,330.7 1668.1,278.7 1409.3,368.0 1497.3,371.3 1612.0,331.0 1640.2,333.1 1661.0,336.4 1521.9,373.4 1634.1,368.4 1428.1,347.4 1524.7,388.3 1426.7,383.6 1656.5,295.2 1541.2,306.5 1681.6,388.5 1612.7,355.9 1659.9,286.3 1605.8,379.7 1673.6,377.2 1591.0,362.5 1505.9,353.1 1393.9,392.3 1677.0,312.1 1656.9,298.5 1608.9,391.8 1608.9,358.1 1402.7,425.3 1477.7,323.8 1687.0,354.5 1700.4,341.6 1579.0,255.9 1443.2,401.4 1508.6,313.2 1548.5,376.3 1578.3,363.7 1416.2,387.9 1428.5,336.8 1572.6,416.5 1669.1,368.2 1483.1,309.1 1540.3,359.3 1563.5,332.6 1589.7,349.5 1616.0,356.7 1615.5,365.3 1674.2,380.6 1688.5,315.4 1408.3,348.9 1504.8,431.3 1353.5,379.3 1482.6,365.4 1612.8,389.6 1508.0,350.6 1506.8,318.2 1510.9,367.1 1608.7,355.4 1535.9,378.0 1531.3,345.2 1430.3,412.7 1698.2,233.9 1500.5,309.4 1631.3,351.5 1590.3,276.2 1421.4,343.0 1430.5,391.2 1580.3,460.8 1500.2,313.1 1473.8,246.8 1645.6,402.0 1460.0,413.9 1452.4,331.3 1551.0,369.1 1592.7,453.2 1638.7,362.2 1625.6,361.7 1637.1,339.6 1696.8,367.5 1583.8,393.2 1550.6,349.2 1667.0,329.7 1713.2,359.3 1627.7,337.7 1429.6,303.4 1607.4,375.9 1656.0,446.5 1465.3,344.7 1539.5,287.9 1593.3,366.5 1524.8,385.6 1463.6,289.3 1578.7,372.2 1569.1,413.8 1666.5,345.8 1420.9,400.9 1493.2,284.3 1578.9,320.4 1626.7,355.0 1404.4,393.8 1465.9,427.8 1524.5,272.5 1559.3,415.3 1609.7,331.8 1560.1,378.1 1633.8,237.6 1590.8,298.6 1454.4,428.1 1708.0,251.8 1599.5,365.9 1505.0,356.1 1485.9,402.0 1650.7,362.0 1597.0,389.6 1634.6,331.0 1493.8,325.6 1507.8,353.4 1544.9,305.5 1548.8,338.8 1650.9,330.9 1540.1,380.3 1565.8,376.6 1529.5,222.0 1376.2,379.1 1611.4,355.7 1523.2,359.5 1612.5,346.2 1533.2,342.5 1442.8,364.5 1483.9,276.7 1583.4,373.3 1549.7,352.6 1465.4,278.6 1642.2,270.0 1417.8,450.3 1593.7,339.2 1391.9,415.8 1660.6,274.5 1588.7,345.1 1533.1,356.8 1541.5,370.9 1407.6,306.5 1520.6,326.1 1547.2,363.9 1652.0,411.9 1554.3,314.4 1585.5,307.0 1654.5,384.7 1610.1,350.5 1503.3,382.4 1432.1,317.4 1435.5,364.4 1514.9,405.0 1508.7,338.7 1541.0,368.3 1514.2,381.9 1383.1,318.7 1462.8,391.9 1689.6,278.8 1461.6,315.6 1404.4,333.0 1542.5,361.9 1587.2,381.0 1634.6,289.4 1659.2,427.4 1347.4,436.7 1666.5,330.6 1361.0,386.0 1597.1,454.8 1698.4,275.1 1590.3,298.0 1669.0,368.1 1659.0,240.8 1630.4,383.2 1641.2,273.5 1566.3,344.5 1646.7,403.6 1403.2,252.9 1602.7,372.8 1385.7,379.0 1400.4,360.8 1628.2,361.5 1565.7,392.9 1553.3,336.6 1615.5,251.9 1569.9,369.0 1611.2,392.8 1658.8,261.6 1675.2,374.5 1481.4,329.4 1540.4,278.1 1476.4,411.4 1705.9,415.1 1554.1,372.4 1621.2,350.8 1409.3,326.0 1521.3,416.9 1467.0,380.8 1474.8,311.6 1517.8,379.7 1418.8,318.7 1589.1,334.0 1658.4,377.7 1556.9,279.4 1541.8,309.1 1507.7,470.7 1673.5,375.9 1378.5,366.7 1488.4,368.2 1647.8,300.6 1626.2,401.5 1563.6,350.9 1599.2,342.6 1524.6,396.9 1651.8,319.8 1401.3,383.1 1476.0,346.5 1523.5,392.0 1656.1,320.8 1487.9,412.1 1490.2,378.3 1651.1,342.4 1584.2,291.6 1597.1,355.5 1598.7,313.7 1614.1,311.9 1683.9,405.8 1596.8,379.2 1470.8,280.8 1521.2,351.2 1535.1,366.0 1631.0,364.0 1468.6,351.7 1635.2,329.3 1417.2,322.3 1662.2,350.5 1620.4,346.9 1651.2,281.2 1434.2,376.6 1386.7,424.4 1672.5,232.5 1624.5,361.0 1457.4,373.1 1483.4,379.8 1588.8,256.8 1541.0,367.7 1623.9,431.8 1480.0,322.5 1584.2,377.3 1572.8,371.3 1380.4,336.1 1584.2,225.0 1547.5,429.4 1375.2,382.8 1470.8,342.3 1398.8,392.9 1525.0,390.8 1711.3,330.7 1461.7,259.6 1390.4,436.8 1674.0,348.3 1682.6,302.1 1568.3,373.9 1634.9,264.8 1547.8,328.4 1479.4,415.3 1639.3,443.7 1686.5,335.2 1662.5,323.1 1379.1,386.6 1421.4,402.6 1552.4,379.8 1554.3,295.1 1683.0,431.8 1674.6,329.6 1524.4,342.5 1519.3,282.3 1398.5,428.3 1515.7,268.0 1544.4,420.6 1485.8,363.4 1544.9,406.9 1429.2,449.3 1534.3,297.4 1542.8,373.9 1435.0,322.9 1598.7,358.9 1504.6,459.0 1508.5,370.1 1484.0,396.4 1446.1,317.0 1427.3,302.3 1668.5,282.3 1411.8,446.8 1541.3,385.0 1540.0,371.4 1619.5,356.2 1472.8,377.1 1572.0,430.9 1430.3,420.8 1595.1,404.0 1524.1,317.7 1612.2,372.0 1618.0,362.5 1355.8,383.2 1654.9,369.9 1474.3,336.5 1406.9,384.6 1402.3,360.8 1670.1,341.7 1608.6,318.2 1609.1,339.3 1404.7,352.5 1354.0,371.4 1403.6,336.1 1376.1,360.9 1660.2,316.6 1420.1,357.3 1406.7,326.3 1452.8,389.7 1657.4,326.3 1385.3,339.4 1673.0,347.9 1501.7,356.6 1637.5,315.8 1479.4,362.8 1602.8,311.0 1670.8,335.6 1454.6,329.4 1526.7,325.0 1373.7,355.8 1570.9,353.4 1651.4,389.2 1478.9,341.6 1542.2,357.6 1577.7,316.5 1552.7,374.5 1349.4,394.3 1652.7,342.6 1398.2,374.4 1542.2,419.5 1658.1,335.9 1570.3,336.4 1479.3,402.7 1399.9,437.3 1647.4,331.1 1564.4,328.6 1535.9,303.3 1675.9,297.8 1507.6,414.1 1514.3,302.4 1704.3,259.5 1657.8,315.5 1492.4,385.6 1631.2,318.6 1678.6,268.9 1635.6,316.3 1597.5,335.8 1577.5,410.3 1665.9,323.4 1579.0,305.3 1700.2,298.7 1640.8,374.1 1669.4,413.1 1373.1,376.1 1505.0,405.0 1612.0,371.1 1563.9,276.3 1540.4,330.6 1597.0,328.1 1678.4,293.0 1466.6,355.0 1658.6,288.9 1581.4,389.9 1672.7,271.5 1597.7,282.9 1369.5,437.7 1466.1,415.9 1604.7,241.1 1439.4,309.1 1680.4,326.0 1697.2,302.6 1595.0,321.2 1510.7,320.1 1482.3,407.9 1542.9,358.4 1550.7,293.2 1496.5,399.6 1513.4,317.5 1540.4,460.1 1540.9,300.4 1449.5,347.3 1512.3,384.0 1482.4,397.6 1585.6,357.5 1381.3,393.9 1521.5,331.9 1670.7,337.9 1427.2,456.4 1554.3,314.5 1676.8,357.9 1550.6,376.1 1687.4,292.0 1521.4,358.9 1607.7,362.6 1596.1,379.1 1665.5,397.5 1499.7,374.6 1347.0,426.5 1619.8,332.6 1520.8,322.4 1436.0,399.6 1427.2,373.7 1503.5,380.5 1609.0,382.8 1546.4,239.1 1587.7,293.9 1488.9,381.3 1555.1,336.6 1431.3,351.3 1624.1,311.2 1635.2,363.4 1515.6,368.1 1502.3,397.5 1482.8,345.0 1520.0,263.6 1674.1,374.6 1637.2,399.7 1625.5,359.1 1382.5,402.6 1522.5,351.4 1404.8,331.7 1552.9,299.8 1672.5,404.8 1416.8,338.1 1467.6,331.9 1413.8,407.8 1442.9,296.2 1589.7,353.4 1415.6,385.1 1561.9,418.6 1365.9,439.5 1395.5,398.8 1664.5,340.0 1478.4,350.5 1481.3,301.0 1504.8,393.5 1534.3,366.5 1542.4,461.7 1665.7,342.8 1633.1,319.4 1445.1,444.2 1448.1,408.0 1501.8,404.3 1496.7,363.9 1384.3,293.7 1584.8,299.4 1537.4,408.8 1687.1,328.5 1643.7,430.2 1579.4,391.9 1411.2,305.4 1425.6,430.2 1633.0,352.7 1517.3,410.0 1557.9,281.3 1512.6,411.3 1689.3,276.8 1569.5,403.0 1615.7,361.5 1411.9,387.8 1583.6,283.9 1616.2,341.8 1544.6,328.0 1484.0,378.1 1638.9,335.8 1620.9,352.0 1442.7,370.1 1610.7,430.0 1373.5,366.7 1459.2,297.5 1554.9,423.5 1577.4,402.7 1494.6,355.4 1602.1,425.4 1485.6,398.5 1551.6,347.7 1359.3,366.8 1408.8,449.6 1530.2,303.7 1625.0,344.8 1588.7,385.6 1553.1,330.5 1392.9,372.9 1603.0,299.5 1520.3,369.6 1612.4,398.8 1419.4,333.3 1555.0,304.8 1406.2,368.9 1646.7,430.9 1548.2,374.6 1532.9,309.0 1537.2,344.8 1676.3,343.2 1503.8,370.7 1699.5,315.4 1546.4,363.1 1545.1,397.2 1604.8,282.0 1375.2,396.6 1565.8,361.7 1489.7,382.8 1356.6,400.1 1448.9,380.9 1554.8,291.9 1413.0,407.8 1578.2,416.9 1475.3,369.6 1408.7,391.1 1602.9,402.4 1637.0,434.4 1574.4,333.3 1626.9,389.1 1409.3,413.7 1564.4,434.8 1618.5,281.6 1587.9,341.0 1621.2,379.1 1579.7,383.1 1660.2,313.4 1467.1,350.4 1623.7,332.4 1379.5,377.8 1493.5,398.5 1592.7,402.3 1591.1,376.5 1670.6,354.1 1699.5,368.1 1567.0,331.6 1690.0,335.3 1640.9,297.1 1656.8,346.4 1455.3,310.9 1418.0,290.6 1581.1,403.5 1477.6,466.1 1526.7,311.0 1510.4,385.8 1642.4,353.0 1468.3,421.1 1540.4,420.8 1430.5,475.9 1549.9,356.4 1712.3,313.9 1553.0,299.5 1392.2,384.5 1375.3,450.0 1553.5,354.2 1622.1,313.6 1488.7,298.1 1475.3,344.6 1708.7,222.4 1544.3,293.8 1476.2,344.8 1636.8,331.9 1597.9,375.2 1552.3,409.0 1622.8,244.1 1444.4,402.3 1601.9,359.4 1645.2,414.8 1431.6,323.4 1429.5,393.6 1666.6,373.0 1603.2,306.6 1620.9,385.1 1702.6,306.6 1494.1,407.8 1651.9,353.2 1602.0,326.6 1679.7,298.6 1438.3,358.7 1657.2,341.1 1597.0,381.7 1592.2,385.5 1547.3,317.2 1595.0,325.5 1582.9,353.6 1649.7,379.9 1668.5,297.3 1657.9,322.9 1478.8,391.9 1483.4,318.1 1701.5,313.8 1564.0,376.1 1621.2,349.9 1415.3,332.6 1654.2,326.1 1419.5,326.4 1657.1,410.3 1462.1,385.9 1354.6,391.3 1597.7,384.9 1404.1,383.6 1527.1,277.2 1545.4,365.4 1465.5,380.9 1429.1,271.9 1585.0,347.2 1598.0,372.4 1670.4,335.2 1537.5,406.7 1461.1,427.3 1394.6,401.3 1565.0,409.5 1487.3,355.6 1541.9,355.4 1540.4,327.5 1498.0,377.6 1502.1,381.7 1535.9,387.0 1561.3,449.8 1390.0,416.1 1436.0,392.3 1608.2,417.2 1569.4,411.9 1624.0,316.2 1664.7,385.7 1564.2,377.5 1637.3,344.7 1401.6,388.5 1614.6,408.1 1455.8,372.7 1636.5,322.3 1380.9,405.2 1480.0,335.2 1621.1,300.2 1403.1,403.9 1599.2,281.1 1629.7,338.7 1574.5,281.4 1519.5,439.9 1694.4,281.5 1660.8,256.7 1679.8,441.2 1584.5,348.3 1607.0,309.2 1460.5,341.3 1487.6,333.9 1578.8,301.7 1390.2,323.2 1384.1,363.5 1712.9,300.8 1669.0,353.7 1687.6,318.0 1507.2,386.2 1637.5,288.9 1501.8,339.0 1598.9,355.4 1361.1,386.5 1646.2,437.9 1568.7,314.8 1396.0,355.1 1608.4,370.0 1475.6,434.2 1523.8,358.6 1656.4,402.9 1638.3,391.0 1621.6,338.1 1437.8,387.5 1476.0,340.8 1573.1,321.7 1606.6,382.1 1541.4,296.1 1687.6,350.8 1679.3,394.9 1666.6,262.7 1655.6,350.7 1558.4,366.4 1559.6,392.5 1569.5,280.5 1423.6,390.0 1349.9,405.6 1493.2,386.1 1663.2,316.8 1384.2,370.1 1405.4,308.2 1633.4,355.3 1446.0,385.6 1560.9,441.5 1455.6,332.0 1554.2,440.9 1638.1,248.9 1515.2,293.7 1532.2,290.2 1587.2,335.9 1419.9,344.3 1388.8,333.8 1697.7,342.7 1626.8,325.6 1518.3,358.6 1513.6,345.2 1545.7,371.5 1711.5,326.0 1463.6,405.9 1606.7,307.9 1442.0,388.8 1666.5,289.2 1694.3,338.4 1648.7,402.0 1571.7,347.0 1597.8,370.4 1468.8,312.6 1554.8,381.9 1618.3,363.9 1569.1,428.3 1386.7,315.6 1564.7,390.9 1537.5,312.5 1514.6,420.2 1654.6,284.8 1543.6,395.7 1580.0,360.7 1536.4,381.9 1672.3,348.5 1362.8,390.7 1565.5,294.4 1617.4,371.3 1556.4,282.8 1669.1,290.3 1686.5,317.8 1432.7,381.4 1668.0,327.6 1611.2,371.5 1490.4,376.3 1712.9,270.7 1348.2,397.2 1511.5,373.7 1645.8,343.2 1539.1,366.4 1642.4,277.6 1519.7,405.9 1492.4,375.4 1528.6,377.0 1525.8,311.3 1561.4,358.8 1592.8,195.6 1415.5,370.8 1632.6,378.1 1610.3,336.7 1385.7,429.4 1533.1,325.1 1633.4,281.9 1673.8,327.5 1559.6,424.3 1687.8,365.2 1535.6,388.7 1641.4,353.0 1649.5,347.5 1620.6,324.5 1615.0,402.7 1657.1,295.9 1597.8,321.2 1584.3,203.5 1511.6,332.9 1664.3,300.9 1711.0,320.0 1662.4,305.0 1548.3,264.0 1488.4,294.6 1463.2,397.4 1485.0,424.6 1619.1,301.9 1421.6,368.7 1682.4,365.2 1463.3,328.3 1535.7,369.4 1479.7,405.8 1569.5,308.9 1494.4,466.4 1581.9,381.3 1556.0,229.7 1569.9,417.0 1497.8,443.9 1477.9,358.7 1580.2,377.2 1635.1,348.6 1485.7,315.8 1637.1,382.7 1442.9,413.8 1487.9,373.5 1552.1,340.7 1472.9,367.8 1664.8,336.1 1483.9,317.3 1586.2,271.3 1522.9,349.8 1557.2,389.4 1587.9,419.4 1540.6,318.3 1468.0,346.3 1395.0,378.0 1648.6,381.9 1629.4,360.4 1686.0,274.3 1501.9,390.1 1639.1,376.3 1600.7,311.8 1441.8,388.4 1661.7,356.6 1560.1,420.8 1363.1,426.2 1455.3,351.5 1673.7,327.8 1525.3,325.1 1567.2,276.9 1393.3,353.8 1645.5,401.2 1676.0,429.6 1426.8,397.9 1585.3,351.9 1581.4,355.3 1509.5,384.1 1605.1,337.9 1611.7,266.4 1566.4,359.6 1438.6,369.1 1657.0,360.9 1418.5,363.0 1380.1,373.6 1659.5,309.6 1581.7,388.3 1400.6,354.8 1456.3,329.3 1610.7,422.3 1623.1,351.5 1435.1,382.1 1376.4,411.4 1456.4,349.0 1621.3,296.3 1650.0,365.7 1519.1,372.4 1663.0,373.4 1650.0,391.5 1407.7,382.6 1531.9,243.9 1402.4,340.0 1691.1,291.4 1674.4,237.4 1587.8,373.9 1449.2,387.4 1385.3,409.1 1526.2,389.5 1654.0,325.3 1495.7,414.7 1391.7,263.0 1431.2,430.2 1675.5,358.3 1501.7,242.5 1551.8,369.5 1475.4,429.8 1468.9,392.9 1459.1,438.9 1656.4,340.2 1588.6,429.2 1367.2,385.6 1463.7,381.5 1611.8,318.1 1664.1,287.8 1552.1,411.0 1660.6,349.7 1400.3,329.1 1445.0,368.4 1598.1,332.7 1587.7,363.5 1658.6,356.9 1631.4,285.6 1556.8,344.3 1538.9,366.5 1423.5,308.6 1639.9,289.2 1592.8,324.9 1654.1,284.0 1687.1,287.1 1488.2,335.9 1539.2,335.2 1440.5,391.3 1680.8,341.1 1391.8,412.3 1676.2,328.2 1589.4,327.2 1544.8,408.1 1393.1,416.8 1373.3,391.0 1535.2,409.2 1340.7,359.5 1647.8,415.1 1417.7,388.9 1452.0,310.0 1529.0,340.7 1507.1,377.7 1390.5,388.5 1597.3,398.4 1626.6,347.1 1572.6,420.1 1555.0,403.6 1607.7,298.2 1492.6,414.9 1607.9,323.0 1659.3,300.4 1463.2,319.6 1514.2,349.4 1628.2,377.3 1526.2,320.3 1652.9,266.8 1444.9,414.0 1532.7,431.6 1489.5,331.0 1493.3,421.3 1465.2,410.4 1593.5,363.0 1576.9,375.4 1596.8,320.5 1506.6,293.4 1564.1,426.1 1499.6,350.9 1714.1,270.6 1427.4,309.5 1607.4,363.6 1509.5,264.6 1527.6,429.4 1532.8,391.3 1642.9,327.5 1528.1,363.8 1550.4,399.9 1547.5,306.1 1625.0,241.4 1658.9,321.6 1402.7,409.4 1554.3,366.6 1523.8,340.9 1483.3,416.8 1625.6,421.1 1597.2,374.1 1388.9,349.7 1394.9,269.5 1396.3,334.2 1547.1,414.2 1483.1,361.5 1447.6,348.4 1573.3,347.9 1574.2,312.5 1701.5,324.1 1487.6,332.0 1427.7,434.6 1441.2,335.7 1535.7,364.2 1477.0,310.5 1510.8,312.8 1522.3,436.2 1571.7,365.2 1369.7,405.0 1543.7,396.1 1592.4,286.9 1467.3,325.7 1531.2,374.5 1595.7,304.1 1624.5,345.4 1550.5,353.2 1635.6,320.3 1428.6,438.3 1344.9,364.5 1517.0,287.1 1555.7,287.9 1588.2,356.8 1552.1,334.0 1513.8,291.8 1656.5,346.1 1510.1,389.5 1609.3,323.7 1482.0,364.6 1575.3,285.6 1641.3,356.2 1546.6,454.5 1525.0,408.4 1482.3,391.9 1490.9,370.5 1387.2,410.1 1541.6,354.9 1634.3,388.2 1687.6,299.9 1438.3,375.3 1523.6,380.2 1655.7,343.1 1465.6,393.4 1461.7,373.1 1554.7,310.9 1609.1,413.5 1407.5,359.9 1646.0,362.2 1388.1,385.0 1413.0,402.7 1415.2,307.9 1395.9,376.9 1604.4,296.6 1562.1,381.7 1489.2,328.3 1641.4,363.7 1553.9,382.2 1672.6,418.5 1626.1,345.9 1625.9,286.7 1415.3,423.6 1610.6,356.6 1585.2,306.7 1552.9,383.2 1542.0,402.4 1627.6,381.4 1684.5,319.0 1552.2,314.0 1543.1,373.1 1582.0,348.1 1549.9,343.1 1520.7,373.2 1506.5,447.5 1590.2,374.2 1465.9,346.0 1690.1,356.6 1537.9,367.9 1520.8,386.8 1611.8,311.6 1586.2,345.1 1480.2,383.6 1655.6,362.2 1545.3,406.5 1446.5,376.7 1437.7,366.0 1473.1,412.0 1419.5,379.3 1696.3,373.4 1627.1,404.3 1441.4,325.9 1456.6,402.0 1604.3,379.0 1453.7,332.9 1685.6,411.3 1456.3,393.3 1660.7,307.8 1454.5,399.7 1513.3,297.4 1608.9,370.9 1511.9,327.8 1540.0,446.8 1451.4,401.9 1638.3,353.0 1702.7,330.8 1540.2,428.5 1464.6,408.8 1561.1,339.4 1651.6,373.7 1635.8,254.9 1546.2,390.7 1491.1,391.3 1403.3,385.1 1449.8,340.3 1527.0,241.8 1557.2,407.3 1539.3,376.8 1346.0,383.6 1509.1,429.0 1581.2,257.4 1626.4,355.9 1652.5,270.6 1588.3,411.5 1604.7,423.9 1470.6,351.2 1360.2,297.1 1544.0,260.8 1423.1,305.7 1521.7,396.5 1606.7,371.0 1578.2,276.8 1443.2,425.2 1491.2,291.1 1431.4,386.8 1531.4,396.7 1569.5,393.9 1520.4,321.7 1492.0,382.9 1609.8,354.8 1552.1,391.1 1579.1,371.1 1519.4,371.0 1356.4,411.0 1515.8,341.2 1713.2,254.6 1445.9,439.4 1647.0,364.9 1637.2,396.6 1622.1,385.8 1623.3,374.9 1609.4,357.3 1589.1,298.0 1442.5,349.7 1626.0,333.3 1605.7,322.7 1579.0,417.4 1596.9,342.2 1560.2,336.0 1404.2,383.3 1427.1,399.7 1426.3,375.3 1619.6,274.6 1479.1,310.6 1553.6,285.4 1529.1,324.3 1396.2,342.4 1574.5,276.0 1655.5,272.3 1530.8,294.4 1551.6,367.7 1581.4,369.1 1649.6,353.5 1510.2,370.6 1411.1,368.3 1607.7,298.8 1576.5,281.3 1477.5,347.7 1606.2,219.7 1508.1,361.2 1629.1,431.0 1541.7,327.6 1563.7,384.1 1675.7,293.4 1660.5,303.7 1379.7,363.3 1580.5,308.2 1589.0,285.0 1410.7,366.2 1544.0,308.2 1575.7,271.9 1631.3,428.4 1537.4,430.1 1459.5,313.5 1480.0,346.5 1384.0,426.6 1637.6,388.3 1609.5,300.9 1568.7,349.3 1594.0,297.0 1426.9,383.4 1348.4,437.8 1657.5,351.5 1387.8,292.7 1396.0,440.4 1597.9,366.6 1373.9,398.9 1594.2,383.9 1633.6,374.5 1532.1,391.9 1581.0,385.1 1523.7,404.0 1418.4,418.6 1457.4,355.8 1573.2,396.0 1614.0,357.1 1559.7,308.9 1470.9,437.0 1386.8,376.9 1550.1,368.2 1523.4,368.6 1583.7,424.6 1663.7,368.7 1535.7,301.1 1460.9,334.1 1391.9,257.7 1411.9,410.5 1710.6,316.3 1553.9,298.2 1653.4,343.1 1534.9,386.5 1450.5,415.6 1485.7,470.2 1631.8,321.9 1573.6,319.1 1490.3,324.3 1649.8,299.9 1524.4,348.4 1381.0,371.9 1526.1,377.3 1647.9,408.9 1373.0,330.0 1490.2,412.1 1576.8,351.1 1641.7,448.1 1597.7,361.4 1539.6,365.1 1656.2,371.0 1347.5,434.2 1561.7,420.0 1342.6,364.4 1581.1,394.4 1649.2,342.5 1605.6,385.1 1490.4,446.9 1628.7,310.0 1387.7,351.6 1641.3,331.8 1617.7,397.0 1544.9,329.0 1565.8,364.9 1492.9,342.7 1436.9,305.1 1535.5,297.2 1353.8,410.4 1453.0,388.9 1379.6,371.7 1552.9,329.6 1463.9,389.7 1626.9,307.2 1622.5,345.4 1417.2,312.0 1646.2,345.9 1588.5,289.6 1670.4,352.7 1651.0,378.9 1485.7,398.1 1542.2,256.6 1518.2,386.8 1627.2,267.9 1525.7,371.6 1622.7,265.7 1369.1,405.0 1678.7,277.6 1651.5,343.8 1621.5,360.6 1475.6,351.1 1543.2,451.2 1580.1,356.4 1647.5,377.6 1631.6,326.8 1555.9,440.3 1630.3,303.7 1467.5,308.2 1621.7,364.3 1596.0,412.5 1644.5,415.4 1639.8,383.1 1514.1,347.1 1620.7,299.3 1534.5,399.4 1591.0,364.1 1631.9,378.7 1385.2,371.0 1466.7,373.1 1503.1,307.8 1585.4,290.4 1633.3,313.7 1357.6,374.7 1618.1,355.2 1562.1,354.6 1556.4,476.3 1467.3,308.7 1508.8,334.7 1416.7,411.2 1425.4,405.7 1557.5,338.0 1717.3,323.3 1466.4,405.4 1607.9,325.6 1698.4,337.9 1485.7,351.5 1471.4,346.7 1489.5,409.9 1415.1,404.8 1604.6,389.7 1586.3,356.9 1518.1,318.4 1664.9,405.5 1551.4,367.0 1644.9,346.2 1673.1,321.4 1652.3,354.8 1540.3,309.2 1600.7,295.5 1618.3,359.6 1616.0,349.5 1616.7,376.7 1575.3,337.7 1636.1,360.6 1575.5,403.0 1448.2,374.7 1621.9,368.9 1365.2,331.0 1502.6,374.9 1461.9,407.5 1556.1,384.9 1566.9,394.0 1531.8,416.9 1437.0,403.4 1625.4,331.1 1551.0,361.2 1716.2,247.6 1515.2,393.2 1535.7,337.8 1432.5,341.7 1483.7,365.0 1482.6,353.5 1654.0,388.5 1509.8,377.1 1598.0,375.4 1555.4,414.8 1591.2,336.4 1649.9,353.4 1658.9,325.7 1479.5,317.7 1535.0,443.0 1679.2,290.6 1412.9,377.5 1460.5,392.3 1697.2,355.3 1539.7,417.0 1628.4,334.0 1569.5,335.2 1477.1,295.2 1537.3,410.3 1546.8,395.7 1511.4,368.4 1642.0,388.5 1549.3,366.4 1621.5,414.1 1462.1,458.2 1593.5,357.2 1660.4,336.3 1425.4,328.6 1450.1,293.9 1432.1,320.9 1652.9,282.6 1454.3,308.0 1417.0,410.5 1480.1,266.8 1659.1,380.8 1546.4,298.9 1368.1,392.9 1409.5,342.0 1545.0,281.8 1427.1,276.2 1400.2,452.1 1549.7,382.5 1462.8,378.6 1437.3,396.0 1538.5,343.7 1393.3,398.6 1603.4,292.7 1426.6,388.1 1553.5,305.0 1669.9,373.1 1429.9,250.0 1652.5,327.4 1621.1,321.3 1633.5,342.8 1532.9,280.4 1408.8,365.6 1510.5,333.8 1557.9,375.6 1593.9,376.8 1689.4,252.7 1544.5,339.5 1719.8,283.9 1349.5,366.9 1649.4,364.6 1692.2,326.3 1539.8,381.2 1692.1,376.5 1491.0,398.7 1626.0,309.7 1603.9,339.6 1500.5,411.1 1507.4,339.9 1359.0,387.1 1683.1,346.9 1509.2,348.1 1504.8,326.8 1364.1,302.3 1520.7,296.9 1719.0,361.5 1586.9,337.7 1459.1,369.4 1446.3,360.9 1575.0,359.5 1589.2,394.9 1447.8,414.9 1616.1,419.2 1666.6,295.4 1570.3,401.5 1612.1,368.2 1506.1,334.5 1587.7,368.7 1545.0,327.5 1447.6,452.0 1587.0,309.3 1396.8,433.2 1575.6,364.7 1438.6,299.9 1679.9,246.6 1377.9,358.2 1525.3,385.0 1464.9,307.9 1363.4,447.9 1656.1,307.8 1691.3,356.3 1556.0,397.0 1460.6,334.2 1455.0,371.2 1622.7,288.6 1560.7,347.8 1665.0,341.5 1512.8,381.4 1547.3,316.1 1561.1,368.9 1380.2,387.5 1405.3,360.4 1532.0,395.5 1540.8,289.3 1519.8,378.3 1401.7,387.4 1685.4,320.6 1382.3,408.9 1611.8,321.7 1467.8,355.2 1428.2,357.7 1615.7,319.8 1504.3,354.9 1684.0,315.9 1591.3,295.5 1635.9,312.1 1597.1,367.1 1459.5,420.0 1477.2,372.9 1625.3,456.2 1537.7,358.1 1583.6,301.4 1377.9,456.1 1635.5,274.1 1421.5,310.6 1524.9,364.2 1507.0,398.4 1518.1,276.6 1396.3,313.2 1685.9,429.3 1471.7,379.7 1616.6,412.9 1558.9,328.4 1438.2,344.6 1606.5,251.8 1491.2,439.1 1466.1,334.1 1597.2,376.7 1479.5,360.6 1711.4,351.3 1383.3,376.8 1537.8,345.5 1535.6,387.7 1591.8,353.0 1500.9,413.6 1646.8,279.1 1576.6,444.5 1565.0,316.0 1381.6,366.4 1669.2,355.2 1548.2,337.9 1454.6,396.3 1506.8,431.9 1428.3,364.7 1644.2,400.9 1647.0,359.8 1441.5,362.4 1382.2,372.3 1553.4,331.1 1637.8,384.9 1498.1,308.5 1665.1,370.0 1421.8,350.6 1527.3,375.7 1574.2,361.3 1655.5,378.7 1429.7,293.4 1460.7,332.5 1579.7,320.3 1527.8,340.1 1397.4,412.1 1410.6,331.3 1423.9,386.6 1460.1,434.0 1686.6,333.2 1596.9,291.4 1495.4,426.0 1550.6,376.6 1601.7,262.3 1496.7,346.0 1568.6,337.5 1444.9,329.2 1634.3,277.5 1384.6,340.7 1605.3,290.2 1492.1,314.5 1442.2,375.5 1446.7,260.7 1650.1,338.4 1374.9,420.0 1514.5,417.5 1715.5,364.3 1375.4,411.7 1494.4,362.4 1571.4,346.5 1585.5,355.9 1543.8,420.4 1686.1,217.2 1629.8,306.0 1624.9,299.8 1620.9,275.8 1403.5,396.3 1491.6,346.0 1634.9,233.0 1492.1,425.0 1598.3,357.7 1491.5,448.4 1353.9,390.4 1552.8,340.5 1604.2,380.8 1609.4,344.8 1603.5,295.3 1585.8,310.4 1661.2,230.4 1490.1,270.0 1602.4,456.6 1479.0,375.1 1461.3,390.2 1652.5,348.5 1623.6,367.8 1500.2,348.5 1605.6,430.0 1415.3,409.2 1574.7,389.5 1395.3,349.8 1668.2,274.0 1640.4,354.3 1413.9,410.4 1592.3,354.2 1675.7,313.9 1432.2,418.8 1571.3,424.2 1652.5,314.9 1643.6,309.3 1431.2,309.5 1426.0,359.9 1661.7,338.8 1438.4,411.9 1570.0,361.2 1440.0,413.3 1423.0,349.3 1554.1,392.8 1396.3,363.1 1630.1,384.2 1459.0,350.2 1542.1,379.4 1633.5,392.7 1540.0,347.6 1555.1,435.6 1528.7,342.7 1366.1,284.2 1510.5,316.9 1437.2,331.8 1644.5,416.5 1620.9,328.5 1598.1,264.5 1392.3,396.0 1607.8,278.3 1441.9,347.5 1597.8,284.8 1445.2,419.4 1667.5,236.0 1367.8,386.2 1464.5,367.6 1582.7,340.4 1652.9,352.3 1615.0,350.0 1675.5,317.1 1679.7,422.0 1650.1,363.4 1590.1,302.0 1689.3,373.1 1528.1,384.3 1562.7,237.0 1543.8,408.6 1686.5,376.1 1497.0,268.7 1423.9,409.4 1487.1,352.5 1358.3,380.6 1543.4,379.6 1546.0,403.9 1647.8,241.0 1563.5,367.1 1475.6,377.8 1474.0,402.2 1577.0,371.8 1552.4,346.3 1586.9,282.1 1440.5,396.1 1552.8,382.9 1523.4,349.0 1502.2,212.7 1546.2,261.2 1647.0,339.4 1703.0,280.4 1618.8,352.7 1493.4,335.4 1584.4,331.5 1678.7,362.0 1681.8,286.9 1369.1,371.6 1393.9,330.8 1632.2,335.2 1510.5,374.0 1587.1,374.9 1557.5,329.1 1645.5,358.0 1499.6,314.0 1575.3,370.1 1443.7,425.1 1617.9,404.1 1543.6,385.9 1350.0,400.4 1439.4,367.2 1616.8,370.8 1535.3,389.6 1578.1,299.4 1651.5,288.5 1357.5,397.9 1348.9,294.0 1526.0,342.4 1398.7,331.2 1395.6,388.1 1458.9,426.1 1414.9,407.3 1610.1,364.9 1704.5,318.4 1544.5,353.6 1497.5,332.7 1518.9,355.2 1627.1,376.1 1551.7,418.9 1671.7,346.1 1486.1,418.2 1562.9,367.0 1557.6,348.0 1415.2,382.9 1544.9,427.5 1657.4,280.5 1421.8,386.1 1553.3,409.8 1666.9,384.9 1536.5,354.3 1504.1,399.4 1374.8,341.9 1633.4,287.3 1658.8,345.8 1407.3,389.8 1545.8,360.8 1548.7,364.8 1668.8,349.7 1668.6,330.3 1609.8,358.5 1552.2,382.6 1485.5,310.3 1572.1,337.9 1392.5,374.1 1578.1,357.4 1646.7,375.5 1473.6,337.4 1701.0,425.6 1546.3,352.2 1474.6,406.4 1552.5,278.2 1412.9,375.4 1399.4,403.4 1615.9,313.5 1478.9,378.0 1684.5,439.8 1357.2,341.7 1651.9,372.7 1431.3,357.4 1518.5,358.8 1468.9,433.4 1461.3,357.7 1392.8,341.5 1667.7,275.3 1622.2,371.4 1625.3,373.9 1584.9,361.0 1405.1,405.6 1432.4,368.7 1465.6,376.9 1517.4,411.7 1449.6,315.7 1636.2,274.4 1513.3,366.7 1651.2,356.6 1373.6,430.4 1624.0,308.9 1663.5,366.2 1411.9,293.5 1573.6,460.5 1421.2,306.6 1457.2,399.5 1689.6,347.0 1686.0,321.2 1527.7,397.5 1637.9,349.7 1541.2,411.2 1511.4,373.4 1390.9,407.7 1487.8,384.3 1485.2,383.7 1554.3,357.0 1545.2,380.3 1385.3,427.1 1528.9,322.2 1451.4,422.2 1655.3,354.7 1606.4,369.4 1654.7,409.4 1529.7,349.2 1644.1,300.1 1440.8,392.3 1527.8,372.7 1594.1,311.5 1686.3,356.1 1625.3,322.1 1481.1,382.9 1639.1,375.1 1542.8,429.1 1538.2,373.5 1652.3,388.1 1461.7,429.6 1535.6,351.2 1358.7,431.4 1457.3,439.3 1451.5,342.4 1418.4,343.6 1536.3,368.3 1633.1,341.4 1686.6,331.8 1649.8,360.7 1563.6,287.6 1385.3,335.5 1444.6,391.0 1524.9,383.1 1499.2,351.1 1527.0,370.0 1541.8,398.9 1644.1,308.3 1675.2,291.4 1634.2,276.7 1464.6,354.4 1486.4,339.1 1553.1,391.1 1661.8,394.2 1674.7,308.3 1424.2,414.5 1403.7,390.1 1472.9,335.2 1557.4,297.5 1620.2,294.3 1546.4,364.3 1598.6,345.4 1516.2,391.6 1584.5,258.6 1509.7,401.8 1496.1,353.3 1348.0,364.3 1547.3,406.0 1641.5,368.9 1630.3,420.5 1620.3,409.1 1516.3,403.3 1504.6,240.3 1561.9,300.8 1686.6,360.5 1629.0,371.6 1407.0,419.2 1588.4,341.4 1670.3,195.4 1467.1,438.1 1416.1,366.4 1684.9,402.0 1602.7,433.9 1612.3,362.5 1719.6,401.5 1638.7,419.4 1373.5,411.0 1566.1,396.0 1565.7,330.1 1540.2,346.5 1472.9,273.7 1644.7,339.2 1608.5,258.5 1618.3,359.8 1571.3,367.9 1536.3,282.5 1450.9,306.4 1435.5,408.5 1687.2,371.0 1599.6,274.8 1461.3,362.9 1567.4,274.0 1699.5,296.8 1616.2,274.7 1709.5,341.3 1412.5,399.6 1572.3,263.1 1537.8,304.1 1559.0,311.3 1651.2,307.4 1593.3,287.6 1462.3,385.0 1399.9,420.5 1548.9,336.3 1686.3,370.5 1582.7,318.1 1485.2,390.9 1528.5,356.8 1622.8,329.9 1556.6,368.3 1359.2,370.7 1663.6,331.2 1629.1,329.4 1393.0,428.9 1477.2,404.2 1402.0,387.3 1493.6,420.0 1378.7,368.9 1462.9,428.2 1498.0,397.8 1614.5,257.2 1467.1,403.8 1359.9,431.8 1664.1,374.4 1660.1,286.2 1499.8,373.5 1565.8,279.5 1522.8,397.8 1603.3,311.7 1419.5,475.8 1625.3,385.6 1430.2,349.4 1441.1,346.4 1393.1,391.6 1517.2,458.9 1623.1,390.8 1509.4,389.7 1415.8,433.3 1591.0,260.3 1605.2,318.0 1536.7,337.8 1441.1,341.0 1439.3,419.5 1693.8,339.2 1510.9,312.9 1471.9,418.7 1399.8,382.0 1584.0,372.3 1680.0,336.2 1471.7,388.3 1383.9,395.7 1554.3,342.3 1533.0,374.7 1411.2,425.1 1491.1,325.0 1492.1,320.0 1693.5,331.1 1557.3,318.9 1601.3,327.5 1382.7,390.1 1487.2,323.8 1447.8,377.4 1349.4,401.7 1637.2,354.7 1647.2,378.6 1670.5,353.9 1579.4,309.1 1387.8,388.3 1550.6,351.6 1409.2,409.3 1566.1,347.2 1648.9,360.0 1345.1,429.6 1635.2,376.9 1592.5,384.7 1409.4,390.4 1611.1,327.9 1465.1,366.6 1629.6,305.1 1519.6,407.4 1679.5,392.3 1444.8,270.6 1461.8,372.7 1503.2,319.3 1546.1,335.4 1401.1,433.5 1637.5,316.9 1379.6,393.3 1367.0,335.0 1659.9,350.3 1512.7,388.2 1579.0,406.9 1528.3,467.2 1683.7,363.4 1395.5,340.2 1461.8,384.3 1667.5,300.2 1709.6,289.6 1439.6,342.7 1546.7,421.9 1346.2,387.1 1443.8,351.4 1630.0,333.9 1538.8,393.4 1579.6,383.2 1627.7,380.4 1408.6,371.3 1368.4,385.8 1665.0,405.0 1686.8,342.0 1561.9,331.7 1632.9,303.7 1398.2,405.0 1454.8,341.1 1409.7,384.0 1482.0,392.1 1593.0,295.7 1602.9,301.8 1538.2,343.2 1550.4,348.5 1690.6,266.3 1445.3,397.6 1488.5,323.2 1526.1,382.6 1567.8,352.5 1503.6,316.5 1573.4,365.2 1643.7,468.0 1407.7,288.2 1649.7,320.2 1469.8,397.0 1526.9,418.3 1571.7,377.8 1367.7,330.3 1513.9,428.4 1604.4,309.8 1661.1,367.8 1646.7,377.9 1570.6,394.7 1393.9,424.8 1712.2,407.1 1371.3,355.4 1512.3,411.2 1543.9,333.8 1542.8,384.8 1676.1,392.9 1599.9,366.4 1589.8,333.6 1643.8,352.3 1510.9,398.4 1583.9,368.3 1433.3,408.6 1644.2,399.2 1369.9,336.0 1593.9,366.0 1523.9,403.3 1348.9,411.3 1488.2,277.3 1661.4,292.0 1537.0,372.1 1579.8,360.1 1358.2,396.2 1613.3,314.4 1441.7,431.2 1439.5,379.1 1633.8,383.7 1398.7,378.9 1500.8,334.3 1513.1,455.7 1564.4,285.6 1523.7,376.4 1643.3,306.4 1510.7,320.1 1673.5,332.2 1639.4,295.7 1450.4,416.4 1565.3,291.5 1388.6,405.1 1606.1,378.2 1609.5,385.9 1550.2,446.8 1680.8,340.4 1378.3,442.0 1580.0,411.0 1442.4,411.2 1400.2,301.5 1584.4,463.4 1497.7,310.0 1375.4,331.3 1382.3,403.4 1700.1,243.9 1695.3,310.9 1532.2,305.9 1501.4,277.8 1417.0,475.1 1406.8,380.6 1379.6,338.8 1683.0,370.6 1406.3,384.6 1421.6,328.1 1605.9,315.1 1636.8,352.2 1603.8,351.2 1594.3,238.4 1592.2,358.7 1521.6,407.2 1395.2,463.3 1438.3,391.1 1544.1,364.8 1669.0,332.9 1564.6,259.7 1610.5,401.7 1557.1,359.5 1470.5,403.8 1632.2,250.9 1585.0,309.1 1671.3,306.6 1479.2,380.7 1671.6,368.7 1598.8,384.6 1574.8,419.6 1615.6,329.8 1535.3,340.1 1613.7,327.0 1627.1,291.0 1670.1,324.0 1600.7,383.4 1600.9,380.4 1499.1,325.5 1591.4,347.6 1602.2,360.3 1662.4,329.7 1401.5,367.1 1521.6,346.1 1358.6,378.6 1587.0,417.3 1618.0,330.7 1460.9,358.8 1387.4,388.2 1671.4,321.8 1508.0,418.4 1566.7,374.8 1505.0,290.0 1601.7,357.4 1350.1,362.5 1635.6,360.7 1629.6,345.5 1691.3,325.9 1486.9,389.8 1645.7,308.9 1631.4,251.7 1464.8,427.4 1410.1,399.7 1460.2,443.1 1401.7,423.7 1392.2,280.5 1386.9,446.2 1599.7,194.1 1456.9,380.7 1468.8,382.3 1455.9,316.4 1665.0,311.6 1595.5,401.4 1712.8,334.6 1491.0,222.6 1626.4,409.8 1581.1,313.7 1711.2,391.8 1557.5,307.3 1434.2,384.7 1420.4,362.9 1621.2,347.5 1542.2,331.0 1473.6,321.1 1432.5,381.3 1511.5,343.1 1681.9,381.0 1555.4,392.9 1645.0,429.0 1471.2,417.6 1598.0,393.8 1588.5,358.4 1541.3,271.8 1487.1,358.1 1539.0,328.0 1476.8,389.0 1558.4,267.3 1473.6,361.7 1454.3,376.2 1458.5,390.0 1708.7,438.4 1560.6,436.7 1613.3,450.1 1591.5,349.1 1375.4,353.4 1445.4,338.1 1612.0,321.0 1562.8,346.4 1546.7,400.0 1480.5,444.5 1607.4,280.3 1612.5,233.4 1539.5,314.3 1595.3,356.2 1611.6,277.9 1623.6,350.0 1490.3,376.9 1397.6,436.6 1545.3,283.5 1555.4,358.4 1564.0,319.0 1619.2,363.4 1464.5,388.9 1399.3,394.8 1572.5,419.7 1469.6,418.3 1674.3,266.3 1429.8,343.3 1545.0,352.6 1553.2,324.8 1436.5,301.6 1539.8,340.1 1636.9,353.7 1359.2,414.5 1508.2,361.0 1508.8,260.1 1676.4,348.6 1483.4,345.8 1631.0,408.7 1550.5,326.7 1570.4,375.0 1518.9,373.4 1547.9,350.9 1548.5,296.1 1640.2,363.0 1531.3,335.0 1629.0,318.4 1661.9,303.7 1418.8,387.3 1437.0,433.5 1699.2,291.9 1433.7,367.7 1464.1,301.9 1462.0,350.5 1710.5,273.5 1608.8,380.7 1478.9,368.2 1542.7,347.9 1541.7,383.2 1541.7,333.4 1636.7,260.7 1555.9,316.4 1671.0,367.3 1434.5,354.7 1405.7,389.9 1363.5,408.7 1442.8,443.5 1410.8,368.2 1641.3,398.7 1605.2,371.7 1515.4,273.5 1636.5,322.9 1499.0,388.4 1642.8,312.6 1388.0,386.6 1503.1,338.2 1503.8,400.5 1627.8,372.8 1713.4,268.6 1623.8,431.6 1682.7,319.5 1373.2,325.7 1646.0,262.8 1578.3,343.5 1414.2,374.9 1635.2,307.5 1395.5,383.1 1533.4,404.5 1533.6,367.0 1680.5,416.0 1649.5,327.0 1517.5,309.0 1394.8,340.2 1539.3,323.3 1609.3,355.8 1646.3,356.0 1607.5,386.8 1596.0,370.2 1546.1,359.0 1633.5,333.1 1672.6,276.1 1394.5,364.9 1514.7,337.1 1583.4,261.7 1645.0,252.4 1526.4,391.3 1682.3,342.2 1665.5,407.1 1486.2,442.5 1642.0,334.0 1612.2,269.5 1548.5,361.9 1679.5,420.0 1571.9,367.5 1458.5,377.9 1624.0,245.7 1676.6,300.8 1635.0,364.1 1628.4,384.8 1603.8,324.0 1558.8,386.4 1458.3,394.9 1604.6,391.0 1628.4,337.0 1411.6,406.3 1580.1,411.2 1545.2,330.6 1521.9,323.1 1689.8,352.3 1536.2,331.6 1588.3,417.5 1456.8,372.6 1387.5,352.0 1586.2,375.7 1525.5,393.3 1387.9,356.2 1525.0,395.6 1646.9,380.5 1552.1,269.8 1639.0,345.1 1596.2,291.0 1681.1,367.7 1421.0,461.5 1607.6,393.6 1555.3,330.8 1636.0,351.9 1667.1,330.6 1474.9,367.6 1582.2,333.0 1562.3,365.3 1491.6,341.5 1636.4,349.7 1506.5,427.0 1638.4,341.3 1509.2,309.2 1634.2,385.6 1577.0,335.1 1621.1,379.3 1658.0,376.7 1488.5,261.0 1554.8,380.4 1431.5,342.5 1704.1,323.1 1379.8,333.4 1697.0,308.7 1529.4,365.0 1661.5,349.5 1607.6,398.1 1530.5,380.3 1492.8,314.2 1581.6,352.2 1412.2,409.3 1473.6,352.7 1417.3,335.0 1573.2,376.0 1371.2,454.1 1410.5,392.6 1470.0,371.9 1676.4,322.1 1603.7,398.8 1396.3,399.6 1414.2,302.3 1485.0,405.7 1630.5,324.4 1424.1,464.1 1644.9,367.6 1404.9,333.9 1507.7,371.6 1456.7,410.9 1421.9,350.9 1613.1,370.1 1553.6,366.5 1616.7,350.5 1340.5,434.5 1421.2,401.6 1580.7,368.4 1641.0,339.7 1615.0,322.5 1429.3,326.8 1584.0,401.0 1582.9,331.7 1636.3,302.3 1651.0,387.3 1586.5,358.1 1463.9,379.7 1643.3,398.2 1621.2,302.8 1438.4,403.7 1610.7,372.5 1641.0,347.4 1439.0,342.6 1616.2,386.1 1404.3,354.5 1646.0,398.4 1572.5,308.2 1712.1,361.2 1546.1,419.2 1595.2,384.1 1468.9,378.4 1593.3,359.7 1648.1,188.4 1636.4,362.9 1687.8,404.4 1366.2,354.6 1454.5,400.5 1652.7,375.8 1588.3,315.5 1543.6,318.6 1574.3,338.2 1391.3,370.5 1647.4,366.3 1665.8,353.1 1379.6,426.6 1494.8,340.1 1433.5,434.3 1626.3,346.0 1456.4,394.4 1684.5,359.0 1620.2,364.7 1524.9,304.8 1639.2,313.3 1502.1,382.7 1438.4,381.0 1608.3,310.0 1577.4,330.3 1635.6,381.3 1477.1,463.1 1572.5,400.3 1581.6,357.4 1457.5,395.3 1509.1,432.9 1551.5,297.3 1631.8,403.4 1541.2,395.5 1382.2,278.5 1452.7,385.6 1543.8,423.0 1637.2,376.2 1563.5,421.3 1469.0,383.3 1628.1,362.2 1428.6,395.4 1394.4,410.2 1472.9,414.5 1546.4,333.8 1518.1,371.5 1396.6,342.4 1619.0,354.2 1450.8,415.6 1372.9,364.3 1414.8,400.8 1482.6,387.6 1689.5,386.6 1499.8,368.7 1548.1,334.4 1540.2,375.7 1614.9,350.9 1572.9,337.8 1415.5,412.4 1584.2,358.1 1498.7,425.0 1398.5,363.5 1376.9,345.7 1454.1,381.1 1543.4,312.5 1451.5,361.4 1655.8,337.1 1482.2,398.4 1573.8,357.6 1449.4,352.3 1541.7,393.9 1477.3,398.6 1622.0,348.5 1467.2,300.7 1608.7,315.3 1642.2,311.2 1577.8,401.1 1607.1,345.9 1671.2,240.6 1518.9,274.4 1578.3,308.0 1442.3,373.1 1424.7,398.5 1388.5,477.7 1382.1,333.6 1584.7,418.1 1701.2,301.7 1561.9,317.8 1472.7,318.5 1475.2,352.3 1538.6,419.2 1465.4,289.4 1522.7,319.9 1461.9,283.5 1664.5,388.0 1629.1,276.8 1381.2,363.6 1491.2,380.0 1628.8,373.2 1452.5,440.0 1426.1,398.9 1670.0,356.6 1477.7,384.3 1448.4,370.2 1592.4,337.9 1402.5,313.1 1421.7,486.8 1700.6,376.9 1464.0,371.3 1566.0,333.9 1577.6,320.0 1704.0,313.2 1533.2,380.5 1657.4,385.9 1483.0,377.9 1650.4,391.3 1410.0,370.0 1700.6,409.3 1653.5,325.4 1361.7,409.3 1577.4,426.4 1442.5,418.0 1658.2,360.3 1582.2,355.5 1480.9,438.3 1514.4,311.2 1634.3,421.7 1394.4,418.3 1507.0,387.4 1656.9,336.2 1411.7,266.8 1622.7,371.4 1399.9,392.0 1567.8,391.9 1382.7,335.0 1464.9,340.6 1472.4,396.4 1546.9,347.2 1502.2,443.7 1569.6,400.1 1582.7,387.4 1605.6,322.3 1521.9,363.7 1627.5,297.0 1465.8,365.0 1350.6,304.5 1434.4,340.2 1465.2,348.9 1389.1,296.7 1359.3,453.0 1552.2,400.1 1632.6,381.5 1624.9,326.5 1519.6,380.5 1532.6,366.4 1633.3,379.5 1552.1,311.6 1538.2,383.9 1392.2,399.2 1619.5,330.8 1436.9,397.6 1669.6,340.7 1635.8,404.3 1685.4,498.5 1401.9,443.7 1634.9,290.7 1482.0,394.0 1458.5,337.3 1412.7,331.1 1507.6,365.0 1438.2,333.1 1660.8,288.8 1598.5,344.0 1706.1,341.4 1579.6,334.6 1571.2,320.5 1580.6,269.1 1669.4,294.9 1532.5,353.7 1663.9,349.3 1395.8,374.0 1553.7,368.8 1441.9,334.5 1671.2,415.9 1543.1,278.1 1381.3,382.2 1469.3,286.1 1674.8,395.9 1624.6,309.8 1456.4,375.3 1655.2,210.9 1372.4,347.2 1585.2,274.9 1503.1,254.6 1396.4,400.1 1613.2,311.9 1552.2,409.2 1524.6,365.6 1453.8,346.6 1454.1,405.2 1536.4,390.4 1414.8,350.8 1606.9,344.2 1561.1,412.5 1486.3,334.5 1636.4,303.5 1603.4,324.2 1610.0,336.6 1471.4,393.5 1508.8,297.1 1491.2,383.4 1376.3,271.9 1559.5,397.6 1521.1,349.0 1626.0,310.6 1380.5,373.8 1387.4,362.1 1598.3,447.2 1508.1,312.6 1471.7,345.8 1633.6,313.0 1685.8,340.7 1421.6,285.9 1409.3,339.1 1520.4,296.5 1517.9,256.8 1543.7,321.9 1589.4,265.6 1681.9,410.3 1468.6,392.2 1455.9,358.7 1475.4,415.9 1481.3,413.8 1402.9,330.3 1381.8,224.8 1558.7,366.5 1433.8,424.9 1551.7,386.2 1392.1,352.7 1372.6,410.9 1397.9,408.1 1510.2,394.5 1407.1,408.4 1493.9,327.5 1582.7,359.6 1560.0,356.2 1381.3,434.0 1685.3,337.8 1396.5,468.3 1699.9,282.2 1626.9,358.0 1357.4,415.1 1561.8,337.0 1676.2,384.3 1412.5,310.6 1497.9,350.9 1512.3,398.3 1487.8,396.2 1472.9,375.6 1466.2,363.6 1623.1,460.5 1626.2,405.8 1643.3,366.2 1552.9,367.1 1632.0,282.2 1372.6,403.0 1375.9,406.8 1574.6,319.5 1527.3,372.1 1638.2,391.6 1466.2,320.7 1451.5,350.4 1598.0,361.8 1487.0,372.2 1429.4,305.1 1589.1,369.3 1491.1,316.0 1459.2,394.0 1540.9,395.7 1516.4,389.0 1551.9,241.0 1606.4,344.1 1546.0,369.9 1450.9,350.0 1371.4,354.4 1548.5,426.0 1684.8,291.7 1686.5,430.7 1495.3,428.8 1611.7,408.9 1368.9,318.1 1529.1,374.1 1524.9,366.5 1634.4,341.5 1406.4,336.0 1700.7,318.2 1477.0,353.6 1388.2,413.6 1364.0,419.5 1578.7,347.7 1442.7,433.6 1543.0,462.4 1699.8,330.5 1585.4,356.2 1595.9,364.0 1434.5,420.8 1469.1,411.0 1569.1,385.1 1421.8,374.9 1659.4,365.8 1599.1,300.1 1452.1,377.8 1623.1,359.7 1611.4,295.9 1556.7,365.8 1550.2,341.4 1480.7,405.2 1416.2,366.0 1549.1,348.4 1459.4,355.7 1614.0,377.2 1474.1,363.9 1664.9,362.4 1456.3,382.0 1371.3,313.1 1569.0,391.3 1441.3,324.3 1645.1,396.2 1647.7,295.5 1583.8,389.0 1431.1,343.2 1569.9,334.0 1523.1,392.7 1585.4,350.9 1418.0,383.8 1404.3,363.9 1670.6,362.3 1447.3,300.0 1710.9,303.8 1369.6,422.9 1491.2,331.4 1427.8,380.6 1492.1,367.7 1474.1,339.6 1637.9,409.2 1396.2,382.9 1652.9,353.0 1618.4,359.8 1528.9,327.1 1382.3,410.6 1673.9,390.0 1536.5,372.4 1526.9,402.3 1667.7,415.8 1527.3,369.9 1673.6,368.7 1612.0,397.9 1668.8,282.6 1506.2,385.1 1411.5,469.3 1512.0,295.9 1473.8,318.6 1362.7,485.1 1352.8,307.9 1604.8,292.3 1690.9,291.6 1588.7,290.8 1509.1,379.1 1649.6,320.1 1661.3,339.1 1482.4,330.9 1404.0,403.3 1568.6,342.6 1659.7,377.7 1461.1,367.9 1514.6,326.1 1558.1,361.6 1397.5,327.4 1622.6,362.8 1474.4,369.2 1554.4,331.5 1558.8,412.9 1354.1,357.1 1450.3,332.8 1688.7,337.0 1539.6,398.0 1490.1,350.2 1543.1,407.0 1454.2,287.0 1450.8,341.3 1614.1,324.9 1386.7,346.6 1564.1,244.4 1566.2,387.2 1561.4,307.9 1566.2,367.1 1538.9,385.3 1562.3,343.8 1398.3,355.1 1586.5,383.6 1677.7,315.5 1547.1,370.8 1553.7,377.5 1465.8,400.0 1603.6,367.0 1708.2,268.8 1409.9,446.4 1646.8,347.0 1672.3,310.6 1472.3,401.4 1661.2,268.8 1528.1,391.0 1441.1,343.4 1540.2,314.8 1633.1,397.2 1719.0,391.8 1382.0,426.6 1490.5,331.6 1672.8,360.0 1587.1,245.0 1555.4,275.1 1577.7,348.7 1508.3,330.0 1354.2,416.9 1374.2,395.6 1630.1,318.1 1454.7,416.5 1661.3,314.2 1381.4,429.9 1655.5,419.0 1613.5,376.7 1412.9,308.2 1605.5,264.1 1520.8,383.6 1623.0,330.1 1590.9,262.3 1573.7,286.4 1524.4,412.8 1456.4,368.1 1423.6,417.7 1605.4,370.9 1626.1,370.7 1573.1,340.2 1646.3,326.5 1530.4,367.0 1633.2,311.7 1612.9,272.3 1655.8,415.8 1604.6,357.3 1592.1,329.0 1432.4,295.9 1552.1,333.7 1445.7,506.8 1627.1,327.1 1636.2,330.9 1518.9,320.3 1554.0,369.6 1475.7,256.9 1534.9,335.8 1372.1,393.1 1580.4,310.6 1646.5,329.0 1552.7,272.0 1359.2,336.1 1598.3,230.6 1545.5,381.7 1523.2,331.8 1371.5,372.1 1542.1,428.9 1516.4,345.8 1581.6,370.6 1562.3,362.2 1481.5,407.7 1626.7,385.1 1454.8,432.8 1515.0,338.2 1518.2,317.3 1596.7,354.8 1668.6,296.3 1402.8,332.9 1526.2,391.5 1523.6,375.3 1657.3,273.2 1610.0,358.7 1695.1,363.2 1673.4,294.2 1539.8,300.5 1531.2,337.8 1451.8,417.0 1543.7,411.0 1556.8,413.2 1562.0,363.4 1629.5,388.6 1398.8,386.0 1402.0,301.9 1629.9,372.1 1630.9,313.7 1643.7,326.5 1438.4,332.1 1511.7,380.9 1526.4,423.5 1591.2,301.3 1510.4,326.5 1455.8,340.5 1638.1,330.9 1397.1,454.7 1673.0,418.3 1566.9,204.8 1663.5,345.9 1470.5,387.0 1506.6,382.6 1526.7,379.6 1602.9,432.1 1515.5,357.4 1457.6,327.6 1643.5,431.3 1445.0,306.9 1575.1,367.7 1549.6,404.7 1577.7,310.1 1574.5,261.4 1521.5,407.0 1422.5,384.9 1590.5,252.5 1517.7,354.5 1637.6,376.5 1540.8,306.1 1696.3,299.2 1428.6,371.5 1604.0,277.3 1541.2,390.4 1409.2,398.6 1609.7,327.3 1394.1,403.3 1635.9,350.2 1657.0,344.6 1436.9,355.4 1546.5,348.5 1594.6,321.3 1459.2,354.2 1534.8,291.7 1526.8,394.6 1567.3,301.8 1431.7,387.7 1435.6,396.3 1670.0,362.4 1498.2,380.6 1477.7,360.1 1665.9,347.3 1636.0,444.1 1543.0,340.1 1543.2,426.6 1459.6,303.1 1542.8,362.0 1621.0,326.8 1635.3,371.1 1672.0,356.6 1694.9,361.1 1594.1,285.2 1654.9,352.4 1641.0,376.3 1491.7,423.8 1711.4,280.2 1385.5,400.4 1643.0,382.5 1567.2,302.1 1436.3,373.6 1545.0,439.8 1457.4,325.2 1439.5,380.4 1469.6,447.3 1477.5,274.0 1528.4,366.4 1429.7,386.0 1529.9,345.0 1440.5,412.8 1647.2,340.5 1455.4,273.6 1612.2,431.2 1636.2,364.8 1582.7,406.1 1541.2,424.6 1376.7,400.5 1713.6,383.3 1639.1,403.3 1420.8,436.8 1360.1,380.6 1457.1,337.7 1685.1,327.9 1518.3,365.4 1382.5,411.3 1409.9,344.3 1520.0,411.2 1523.5,348.9 1532.6,334.6 1635.1,307.9 1512.3,394.7 1617.1,332.6 1694.8,312.9 1443.1,330.4 1638.3,388.8 1496.2,390.7 1506.9,418.9 1404.0,371.8 1480.2,372.4 1541.7,401.7 1704.2,352.8 1490.8,273.1 1384.6,386.7 1456.5,305.0 1441.0,270.9 1703.4,290.8 1638.1,254.9 1579.4,396.7 1654.7,256.6 1545.3,282.4 1535.4,364.2 1560.1,408.7 1562.4,298.3 1392.7,416.0 1501.4,326.7 1678.9,318.2 1447.8,374.8 1382.4,380.1 1565.1,400.9 1398.1,390.8 1457.8,362.0 1421.8,421.1 1523.7,347.1 1448.9,334.5 1465.0,393.6 1471.3,422.8 1611.3,361.5 1613.0,256.4 1442.8,362.8 1415.9,382.7 1717.1,392.7 1518.2,342.1 1397.3,333.0 1705.0,399.5 1535.9,287.0 1675.9,379.4 1494.1,311.5 1502.6,382.2 1520.8,398.8 1401.8,442.5 1553.5,432.0 1504.8,380.6 1551.1,361.7 1460.4,394.0 1647.8,309.3 1692.9,335.4 1483.2,396.6 1390.8,460.6 1529.4,355.2 1709.0,400.8 1667.2,414.5 1663.3,292.5 1598.2,390.5 1644.8,266.5 1632.2,376.7 1541.8,375.4 1446.0,387.9 1690.9,360.2 1537.2,314.5 1538.4,406.3 1410.2,409.9 1577.4,352.3 1579.3,292.9 1510.5,372.1 1566.7,346.6 1658.0,346.3 1577.5,293.0 1551.7,376.2 1613.4,370.4 1614.6,302.6 1672.0,316.7 1546.8,417.9 1521.4,301.9 1468.1,437.5 1618.6,408.3 1538.7,367.2 1520.1,446.1 1596.8,351.4 1662.5,363.9 1644.0,219.2 1627.4,395.2 1532.0,238.7 1567.1,433.8 1668.7,368.8 1404.9,325.3 1636.7,347.9 1655.9,421.2 1359.2,308.6 1583.2,293.6 1548.1,354.3 1592.9,418.7 1584.9,323.6 1457.0,302.2 1529.9,394.6 1622.2,340.4 1564.3,415.2 1564.2,362.6 1445.6,447.6 1665.6,342.4 1527.0,312.2 1436.5,366.6 1461.5,394.7 1378.7,430.6 1697.2,348.0 1452.0,378.8 1639.3,315.8 1550.1,296.2 1536.8,362.5 1367.4,327.5 1477.9,392.7 1499.6,418.5 1431.4,411.1 1653.0,394.3 1637.4,350.5 1443.9,393.6 1413.9,359.2 1508.8,347.6 1543.9,346.5 1582.0,378.6 1365.2,355.4 1582.5,387.1 1580.5,316.3 1440.9,339.8 1668.3,365.7 1626.6,372.7 1414.8,350.3 1547.7,418.8 1489.2,381.2 1646.0,237.2 1582.4,417.1 1715.1,365.9 1561.0,275.9 1396.6,390.6 1623.0,362.3 1386.7,381.5 1592.2,334.0 1469.6,303.4 1562.9,345.8 1591.4,369.0 1608.3,326.9 1501.2,423.1 1452.2,254.1 1428.0,358.1 1576.5,232.0 1679.8,393.7 1667.1,343.4 1436.7,368.7 1657.8,387.8 1489.6,390.0 1484.7,301.0 1584.8,256.2 1489.4,357.4 1508.2,406.8 1488.1,364.9 1549.8,371.9 1512.6,368.3 1582.6,381.3 1569.8,427.5 1361.1,408.3 1510.9,380.4 1346.1,358.7 1524.3,353.0 1549.1,364.2 1355.9,406.7 1581.3,306.9 1418.1,367.1 1493.1,349.2 1587.2,413.7 1454.0,302.2 1489.0,373.3 1633.7,326.6 1595.4,294.9 1588.2,373.2 1541.6,400.8 1570.1,322.3 1675.6,280.7 1410.2,387.9 1496.8,384.1 1600.4,350.7 1537.1,372.9 1653.4,452.3 1486.6,418.3 1487.1,353.9 1475.5,378.1 1522.7,293.9 1450.1,360.0 1498.2,308.7 1553.4,365.7 1647.3,308.2 1595.1,309.6 1561.6,412.3 1653.3,328.8 1429.6,417.5 1655.4,293.2 1527.0,351.9 1606.4,340.5 1413.0,348.2 1568.6,368.0 1577.0,275.8 1587.9,327.9 1360.5,377.8 1528.3,355.4 1542.0,354.4 1430.8,345.1 1570.7,301.3 1653.7,377.9 1666.4,422.4 1607.5,349.4 1583.2,370.4 1484.8,301.0 1514.9,346.9 1680.7,358.9 1616.3,257.6 1599.2,399.9 1426.1,405.5 1474.8,446.2 1688.3,368.8 1618.8,371.6 1569.5,327.7 1512.3,270.3 1512.0,387.5 1557.1,387.6 1646.3,426.6 1658.5,322.5 1683.2,317.7 1637.3,380.7 1371.7,320.8 1373.3,390.4 1695.9,285.6 1388.0,408.8 1408.7,358.4 1631.0,378.2 1513.9,309.1 1620.4,380.9 1508.3,310.2 1524.2,331.4 1682.5,331.9 1578.9,368.3 1505.0,443.1 1468.3,437.3 1541.4,391.9 1534.9,369.4 1636.8,321.4 1471.1,431.7 1528.9,364.7 1598.6,297.3 1597.1,278.4 1581.1,427.7 1553.2,386.1 1348.0,364.0 1517.6,308.1 1575.3,357.7 1536.3,372.9 1428.9,371.7 1464.4,343.5 1403.8,397.1 1542.8,330.3 1614.7,356.6 1380.0,314.7 1668.0,343.4 1666.5,339.6 1495.9,388.0 1421.4,348.4 1658.6,303.3 1429.0,419.5 1653.5,348.7 1619.0,351.2 1472.1,326.9 1676.0,382.1 1469.8,267.7 1498.3,256.9 1594.7,276.7 1640.8,335.8 1433.9,381.8 1611.2,340.2 1383.8,387.2 1571.6,297.7 1562.0,353.9 1375.6,477.9 1384.0,345.3 1544.8,345.2 1560.5,336.7 1627.7,384.4 1623.6,296.5 1444.3,345.2 1679.5,350.0 1643.8,351.9 1601.9,309.4 1702.7,257.4 1388.7,375.9 1552.8,429.6 1565.1,326.7 1662.2,400.3 1518.5,301.6 1685.1,308.6 1525.6,367.4 1571.9,244.5 1582.3,295.8 1512.2,387.7 1552.8,285.4 1578.4,355.0 1381.6,420.3 1535.5,372.3 1451.5,417.6 1427.2,384.0 1383.2,355.4 1633.8,340.6 1697.0,377.8 1518.3,350.0 1635.4,335.8 1381.6,314.4 1574.3,262.8 1657.1,318.0 1515.6,411.9 1464.1,422.1 1632.3,320.4 1586.3,348.4 1508.3,387.8 1678.5,287.3 1487.4,366.7 1560.2,367.2 1684.2,381.4 1551.7,312.5 1597.7,346.1 1646.7,354.8 1579.7,338.7 1644.1,422.5 1469.5,437.6 1619.1,359.4 1674.8,345.3 1602.8,355.8 1377.0,384.1 1412.8,421.7 1508.6,337.8 1361.5,372.8 1385.5,281.6 1603.9,333.8 1453.0,378.4 1546.5,362.5 1468.4,446.5 1548.2,388.1 1388.0,411.5 1524.7,276.9 1363.8,339.3 1607.8,241.9 1628.4,414.5 1626.6,394.4 1423.6,337.8 1414.5,402.0 1379.8,365.9 1645.0,325.8 1494.4,380.0 1470.7,368.2 1520.5,356.5 1609.6,290.4 1540.8,375.6 1582.1,365.5 1654.7,382.0 1478.2,284.5 1612.0,320.7 1552.5,333.0 1498.4,281.2 1348.9,389.9 1656.1,246.8 1342.7,404.1 1645.4,382.0 1360.6,416.8 1602.7,367.6 1501.1,370.0 1656.3,310.0 1597.0,297.8 1378.9,342.3 1645.0,308.0 1389.0,341.9 1698.4,380.7 1562.0,422.8 1455.6,435.9 1396.8,362.4 1608.5,291.3 1392.4,331.9 1387.0,354.4 1565.4,227.8 1554.1,421.0 1620.2,204.2 1598.1,351.6 1634.3,285.2 1612.3,284.4 1571.4,391.5 1371.8,299.1 1704.0,360.9 1616.0,336.5 1476.8,414.0 1417.6,422.3 1640.1,403.2 1621.3,345.1 1395.8,351.6 1620.6,305.0 1476.5,366.4 1392.9,462.5 1629.6,411.5 1492.8,301.3 1625.5,309.6 1550.0,416.1 1579.5,299.5 1571.3,383.5 1687.9,304.2 1567.3,397.1 1544.8,352.9 1494.4,217.9 1462.1,380.5 1559.5,353.4 1575.4,294.7 1554.1,369.0 1668.8,357.7 1629.9,343.5 1562.0,435.8 1368.7,374.2 1515.7,331.5 1416.4,401.2 1582.9,336.5 1570.9,357.2 1707.3,284.2 1404.3,348.5 1367.2,319.4 1546.4,390.8 1608.5,295.4 1543.0,243.5 1592.4,240.5 1430.5,420.6 1609.3,303.7 1670.0,369.3 1563.5,298.2 1712.3,433.8 1667.6,417.8 1570.4,333.7 1502.0,327.5 1479.8,275.1 1517.6,302.9 1654.9,343.5 1628.0,283.6 1361.4,355.4 1494.9,347.4 1490.7,434.7 1476.8,382.4 1584.0,396.4 1492.5,354.2 1481.2,305.8 1523.7,382.5 1632.5,361.7 1638.6,315.1 1523.1,346.2 1465.5,257.2 1533.5,332.2 1480.5,370.1 1620.1,310.9 1357.3,422.7 1418.0,363.7 1632.9,344.4 1626.4,315.6 1636.2,409.7 1501.4,383.6 1445.0,389.4 1671.6,357.0 1404.1,332.2 1433.9,307.1 1457.0,333.7 1589.7,359.9 1412.3,387.9 1491.4,412.4 1532.3,286.2 1589.2,335.2 1692.6,365.1 1562.9,326.6 1677.0,283.5 1409.2,384.8 1546.3,364.4 1378.3,432.3 1419.4,360.0 1603.4,332.0 1487.1,306.2 1679.2,325.0 1505.6,399.7 1370.3,351.8 1510.5,330.7 1495.4,327.7 1368.4,382.7 1431.6,375.8 1470.6,368.8 1415.2,374.5 1510.3,413.9 1534.6,361.0 1657.2,297.5 1422.6,412.6 1689.4,379.3 1362.8,255.6 1561.9,422.9 1384.2,338.3 1588.8,410.3 1460.0,352.0 1639.9,361.4 1611.1,395.7 1621.9,359.3 1498.9,360.1 1450.6,441.3 1702.6,285.5 1516.9,309.5 1613.3,353.8 1422.4,372.7 1464.2,433.9 1690.7,361.1 1555.2,333.5 1676.3,262.2 1527.8,355.6 1632.1,309.6 1671.7,302.0 1388.6,442.9 1538.2,368.6 1577.5,341.9 1560.0,309.8 1621.2,324.7 1427.4,368.4 1544.8,367.6 1413.8,397.8 1587.7,314.4 1369.1,375.5 1624.2,329.1 1498.8,401.1 1552.5,352.2 1617.1,298.1 1429.1,332.9 1522.2,449.3 1427.7,426.3 1625.0,368.5 1668.1,381.3 1619.2,348.3 1664.3,315.0 1532.4,402.2 1559.3,400.1 1487.4,387.7 1668.0,351.9 1622.4,352.0 1525.0,311.7 1437.3,312.7 1458.1,359.6 1570.4,401.1 1377.7,435.0 1397.8,364.7 1456.6,295.9 1580.5,332.7 1625.8,432.1 1429.5,284.0 1487.0,420.1 1379.5,347.8 1425.9,331.2 1562.8,356.8 1621.2,376.0 1601.0,331.0 1457.9,381.3 1484.5,436.7 1483.0,383.7 1557.5,324.8 1624.1,345.9 1610.1,382.0 1521.7,377.1 1632.4,280.4 1614.1,399.2 1485.9,320.5 1665.7,393.1 1433.4,370.9 1437.2,332.6 1440.7,369.4 1588.6,288.7 1553.3,296.1 1509.2,371.8 1598.6,360.3 1670.9,261.3 1647.1,315.4 1504.0,429.6 1624.6,390.5 1472.5,343.0 1565.7,451.1 1698.2,350.7 1506.6,347.9 1649.0,324.8 1543.8,323.2 1623.8,313.6 1386.6,392.0 1362.3,409.1 1594.8,362.6 1558.2,346.9 1480.3,397.1 1674.4,313.5 1549.1,301.6 1449.4,477.4 1552.0,348.6 1372.4,322.2 1415.7,395.5"/>
<polyline fill="none" stroke="none" marker-start="url(#ms)" marker-mid="url(#ms)" marker-end="url(#ms)" points="1520.8,390.5 1597.3,345.3 1576.1,409.9 1585.0,362.4 1550.7,348.2 1598.1,369.7 1584.0,357.2 1488.9,374.0 1545.3,361.0 1542.4,419.9 1474.9,322.5 1546.3,399.8 1569.6,380.1 1526.0,406.6 1599.9,393.7 1562.0,394.8 1527.0,392.5 1546.5,393.9 1567.9,393.5 1569.6,422.6 1461.1,407.5 1597.1,365.3 1494.6,318.6 1540.8,418.8 1556.8,408.3 1518.9,402.3 1559.0,405.3 1524.1,364.6 1533.9,394.0 1484.3,403.0 1537.1,376.2 1545.6,347.3 1626.8,331.4 1586.1,329.7 1588.6,393.2 1533.4,337.9 1610.8,353.6 1529.2,396.7 1589.9,376.1 1536.2,334.2 1574.3,351.5 1524.4,384.9 1537.0,357.9 1555.2,391.9 1590.9,347.6 1630.5,389.0 1574.1,427.8 1574.8,373.7 1519.8,444.9 1575.6,381.9 1563.1,389.6 1496.1,415.9 1497.1,412.7 1543.4,350.2 1520.1,385.0 1605.6,398.5 1487.0,380.2 1524.3,324.9 1549.6,368.2 1555.1,350.1 1548.2,384.6 1541.0,366.6 1525.3,369.7 1598.5,363.2 1537.5,413.3 1476.4,396.1 1548.1,354.0 1531.1,376.5 1494.5,391.6 1531.9,397.7 1594.4,365.9 1530.8,373.8 1515.4,392.1 1539.2,406.0 1619.0,345.8 1592.7,397.9 1530.2,368.8 1594.5,329.8 1551.8,353.6 1560.0,318.8 1528.3,363.5 1620.2,367.1 1525.9,425.8 1545.8,398.0 1573.0,446.4 1581.9,364.1 1551.3,340.5 1484.9,419.5 1574.1,363.2 1585.4,315.8 1500.6,293.5 1566.2,340.1 1584.8,375.2 1527.9,432.1 1579.3,341.4 1561.9,383.3 1567.6,348.5 1623.2,326.5 1545.3,359.4 1482.8,414.1 1562.7,380.1 1561.4,371.3 1466.9,426.2 1480.0,456.0 1539.5,421.7 1507.5,398.9 1444.5,418.2 1523.9,347.1 1478.7,447.4 1626.1,382.0 1609.4,339.6 1551.2,413.6 1497.0,405.6 1525.5,362.6 1530.9,395.6 1552.9,343.6 1549.4,427.0 1608.5,339.6 1550.6,358.7 1561.3,438.1 1455.5,503.6 1532.2,342.3 1611.0,386.7 1575.1,384.8 1563.5,401.1 1539.6,380.6 1590.3,349.5 1547.9,369.1 1566.0,351.4 1521.1,429.1 1579.0,407.0 1431.7,422.6 1611.5,373.3 1531.4,411.2 1551.3,403.4 1555.5,426.3 1550.4,393.9 1630.9,288.6 1562.6,343.2 1588.6,391.6 1591.7,342.1 1531.3,394.1 1604.8,370.8 1558.8,356.0 1522.0,426.3 1456.9,399.0 1580.7,308.4 1587.4,363.7 1462.2,419.2 1585.9,413.6 1563.9,301.1 1504.3,341.3 1533.5,344.8 1440.9,401.4 1522.7,368.5 1579.4,374.9 1581.5,392.8 1574.6,424.8 1450.6,418.9 1556.7,432.6 1582.5,337.9 1520.4,353.8 1505.1,394.8 1534.2,450.9 1595.5,297.9 1488.3,411.7 1504.4,415.5 1473.9,447.5 1592.1,388.9 1505.7,375.4 1613.0,356.7 1607.6,354.9 1496.8,410.2 1531.7,385.2 1642.4,364.2 1462.2,387.1 1573.3,356.0 1586.9,337.8 1557.1,354.6 1555.4,349.0 1550.2,333.8 1557.6,432.1 1564.4,368.1 1467.6,389.1 1544.1,361.7 1528.2,425.6 1570.4,370.3 1553.2,418.9 1496.1,320.3 1536.0,446.6 1583.1,423.6 1534.3,382.2 1522.3,360.5 1524.2,378.2 1539.1,440.4 1578.2,394.6 1555.2,359.2 1565.4,414.7 1546.2,339.1 1591.3,325.7 1516.5,450.1 1485.7,406.4 1549.4,371.3 1498.1,374.4 1538.1,344.2 1552.1,361.6 1495.4,361.7 1476.1,449.5 1598.6,309.5 1454.5,387.2 1524.8,368.0 1533.0,408.2 1583.5,355.9 1553.5,369.1 1497.0,388.6 1579.3,401.1 1552.4,397.3 1509.8,429.5 1581.0,342.5 1600.7,362.6 1584.8,390.4 1574.1,358.2 1634.7,336.4 1515.9,379.1 1533.7,381.1 1570.7,333.0 1423.3,395.1 1529.5,366.9 1547.2,393.9 1484.3,403.1 1528.8,369.3 1529.7,354.5 1596.7,287.4 1528.4,318.7 1615.6,372.0 1556.7,368.8 1609.7,373.1 1468.4,420.7 1643.2,375.8 1530.4,384.9 1520.6,368.0 1531.5,370.4 1545.7,415.7 1476.6,433.1 1526.3,399.1 1553.5,366.2 1465.4,390.8 1517.9,352.3 1591.2,365.2 1560.0,405.4 1598.1,402.4 1542.5,391.0 1550.3,399.2 1592.2,405.3 1579.1,362.3 1532.5,375.5 1471.5,401.2 1486.0,347.8 1489.5,423.1 1513.9,332.3 1545.4,398.8 1502.3,395.3 1567.9,379.1 1542.9,377.3 1535.0,384.9 1538.5,407.8 1520.7,421.5 1478.6,400.4 1515.2,388.6 1504.4,404.9 1535.7,386.9 1565.3,337.8 1490.3,409.2 1589.3,371.8 1542.2,390.7 1553.7,367.1 1612.2,351.7 1562.3,413.9 1563.3,429.1 1519.1,396.4 1536.0,432.8 1529.6,364.4 1622.5,337.2 1551.6,340.1 1525.0,413.0 1581.2,365.3 1469.1,388.9 1590.2,359.8 1596.1,380.5 1505.4,446.9 1524.1,337.9 1479.5,425.2 1515.6,347.2 1518.2,364.7 1499.1,403.6 1488.7,336.6 1576.9,356.4 1558.4,381.6 1521.9,352.6 1585.4,353.7 1515.2,364.4 1575.7,342.6 1613.1,327.9 1484.0,392.9 1573.3,423.1 1582.6,426.0 1506.4,390.4 1484.4,435.2 1532.3,361.4 1555.5,362.0 1540.4,386.6 1536.2,330.0 1535.9,389.7 1525.5,371.0 1556.9,392.0 1562.6,391.6 1552.3,398.8 1487.2,357.3 1635.1,315.9 1515.4,397.6 1524.6,365.8 1555.4,369.3 1530.7,387.9 1557.2,313.1 1561.1,347.9 1592.6,407.5 1517.7,384.4 1619.1,323.4 1460.2,388.7 1542.8,369.3 1441.9,423.9 1515.7,385.5 1469.9,467.0 1454.4,307.2 1518.1,398.7 1564.1,371.6 1547.8,390.3 1580.3,408.2 1592.3,345.1 1589.8,378.0 1582.3,328.1 1536.1,349.8 1614.3,306.3 1562.0,335.4 1544.2,351.0 1517.6,390.1 1506.1,382.9 1651.4,354.5 1507.7,413.8 1548.3,325.5 1525.2,416.0 1588.6,420.3 1440.2,385.3 1556.8,383.3 1436.4,409.9 1492.0,387.8 1547.5,389.6 1556.2,379.1 1557.4,366.6 1566.2,383.5 1559.4,363.7 1504.3,419.8 1618.4,416.9 1548.4,362.6 1598.6,310.5 1559.0,422.2 1586.4,430.3 1538.0,339.6 1610.4,284.5 1560.3,351.8 1435.3,393.7 1522.8,378.1 1550.1,387.6 1532.9,355.1 1559.4,370.5 1562.5,340.1 1552.9,377.9 1471.1,378.2 1555.4,421.3 1559.2,359.1 1529.5,381.8 1513.6,433.8 1546.1,367.2 1630.9,325.0 1559.4,376.4 1472.8,352.7 1528.6,382.5 1559.9,342.9 1564.6,426.8 1530.7,420.9 1550.0,344.8 1540.4,372.3 1486.3,407.0 1468.7,418.8 1562.5,414.4 1563.7,344.9 1515.2,376.1 1534.8,373.8 1545.1,328.1 1593.3,399.7 1525.9,388.7 1552.9,437.0 1597.0,416.1 1491.4,361.2 1518.6,451.5 1557.5,403.7 1486.8,462.6 1572.7,362.1 1558.9,400.2 1487.0,426.7 1581.9,355.9 1550.4,386.3 1500.3,390.5 1558.3,388.3 1551.2,406.7 1585.8,362.3 1497.5,398.5 1584.9,356.9 1552.0,334.0 1558.7,358.0 1475.6,455.2 1493.0,373.9 1541.1,387.9 1540.5,368.2 1607.7,303.7 1582.9,406.6 1525.0,324.0 1588.1,378.9 1588.2,354.8 1519.4,416.5 1514.8,433.8 1520.7,353.5 1577.4,339.9 1533.9,390.7 1530.0,359.9 1611.6,342.5 1572.5,348.2 1610.0,369.8 1499.2,381.6 1554.2,352.4 1537.0,364.9 1555.5,415.8 1535.3,373.9 1580.8,368.2 1533.2,369.1 1532.9,394.6 1546.0,357.5 1507.9,439.1 1548.7,364.3 1526.8,360.4 1458.1,386.9 1584.9,328.4 1532.6,417.7 1614.5,337.7 1502.5,417.1 1570.7,361.5 1528.0,370.6 1559.1,357.1 1512.2,365.3 1566.6,338.3 1527.2,358.2 1591.1,377.6 1467.2,406.4 1562.2,370.1 1478.5,348.3 1573.0,410.8 1518.1,439.2 1556.5,356.1 1476.6,379.8 1633.2,364.8 1533.4,323.5 1536.2,377.6 1537.8,403.3 1546.9,365.4 1525.5,391.8 1580.0,347.8 1563.9,358.5 1568.5,333.8 1628.9,338.5 1536.1,380.6 1518.9,387.2 1529.4,373.6 1517.5,390.7 1518.1,332.9 1552.7,400.3 1491.9,422.9 1531.8,396.3 1548.1,400.5 1518.2,362.0 1558.4,406.1 1519.6,423.4 1619.3,395.5 1651.9,351.8 1551.4,396.6 1483.6,360.2 1442.3,359.6 1571.1,359.9 1517.6,413.1 1615.0,359.7 1567.5,311.8 1498.2,452.9 1455.5,415.9 1537.7,376.6 1600.3,351.5 1473.8,375.5 1553.9,387.9 1612.0,390.0 1546.2,390.7 1627.3,345.8 1468.0,424.9 1518.7,353.9 1524.3,359.9 1494.7,440.3 1545.0,346.7 1562.6,376.6 1546.5,368.7 1493.4,403.3 1515.3,414.6 1539.6,359.5 1546.5,387.4 1505.1,339.0 1587.3,353.0 1512.9,432.8 1545.7,398.9 1595.2,403.4 1507.7,396.7 1491.8,436.8 1540.4,374.8 1522.3,382.0 1538.2,414.0 1551.3,408.5 1452.6,414.9 1490.4,409.2 1547.1,412.2 1531.5,347.6 1489.8,367.0 1547.0,348.3 1515.5,350.7 1566.3,367.8 1569.3,371.2 1588.9,366.3 1530.7,364.6 1504.7,411.0 1489.7,413.0 1510.1,418.6 1562.4,351.0 1500.2,392.6 1609.6,377.7 1533.6,390.1 1510.6,377.8 1522.0,352.4 1505.0,397.3 1593.4,423.6 1546.6,427.2 1526.2,384.5 1599.6,336.7 1473.5,448.8 1608.4,336.5 1535.6,406.7 1553.4,366.0 1626.3,320.5 1491.2,454.3 1476.3,436.6 1573.7,305.4 1473.5,438.8 1584.5,413.2 1562.9,371.4 1557.2,397.0 1539.8,382.4 1585.3,386.4 1598.3,441.0 1538.8,362.2 1628.4,336.1 1520.4,369.0 1533.4,361.2 1614.5,335.4 1542.7,404.2 1523.6,372.4 1530.4,366.8 1590.4,371.3 1500.4,337.5 1543.0,421.9 1527.6,384.8 1544.5,392.1 1548.0,397.0 1556.1,369.5 1534.6,379.9 1544.0,389.3 1575.9,384.0 1488.0,414.2 1448.3,447.0 1545.6,462.8 1588.8,326.3 1574.8,435.7 1560.5,318.6 1435.1,421.5 1474.7,385.8 1608.9,296.6 1531.5,337.6 1607.3,418.7 1495.5,383.7 1488.6,418.9 1462.7,372.8 1598.2,367.5 1598.3,395.4 1592.8,316.9 1587.5,361.0 1510.2,361.7 1539.3,287.7 1565.1,363.6 1536.9,375.6 1463.1,379.0 1561.3,417.6 1543.1,352.9 1555.3,379.3 1589.1,375.9 1429.0,462.9 1548.0,434.2 1519.0,345.6 1563.1,374.5 1465.5,411.7 1579.5,384.5 1589.8,424.2 1585.9,413.6 1548.3,419.3 1518.6,385.6 1546.7,366.0 1612.1,309.3 1526.8,394.3 1565.1,377.9 1489.2,434.0 1593.1,353.6 1536.0,367.0 1478.2,421.3 1532.8,377.2 1478.9,336.2 1590.4,310.8 1635.7,356.1 1553.2,412.6 1527.5,367.6 1536.9,341.4 1507.9,406.3 1535.0,402.7 1495.7,388.8 1614.4,343.7 1555.4,447.5 1538.7,379.2 1609.1,330.0 1491.0,465.2 1456.9,383.4 1547.9,395.1 1456.8,354.5 1474.9,368.8 1556.2,398.7 1545.1,378.8 1584.8,360.6 1524.0,413.4 1532.4,483.0 1558.9,399.8 1527.5,333.1 1515.2,460.6 1546.0,346.8 1554.6,385.1 1583.1,373.1 1551.9,392.5 1550.4,374.1 1553.7,356.6 1468.0,385.2 1607.9,418.4 1564.7,358.9 1488.3,384.1 1499.9,367.9 1504.3,396.2 1624.0,390.7 1591.9,392.1 1563.1,435.5 1465.5,436.4 1475.8,394.9 1510.1,372.0 1545.0,370.9 1549.7,407.9 1410.5,453.1 1583.5,351.6 1586.6,380.8 1530.6,419.1 1616.1,365.1 1497.9,422.2 1625.7,347.8 1565.7,342.3 1546.4,381.7 1473.9,418.9 1548.5,345.3 1504.5,366.5 1526.8,388.5 1548.7,348.6 1522.2,381.7 1447.1,406.0 1523.3,439.9 1534.8,389.4 1528.0,397.0 1453.4,371.6 1526.9,378.8 1598.0,409.4 1560.6,412.7 1505.8,435.4 1625.3,370.5 1576.5,400.9 1423.7,441.1 1572.4,358.0 1542.4,356.1 1483.1,385.7 1611.8,376.6 1575.2,355.2 1551.0,398.6 1589.4,345.2 1538.8,350.9 1572.0,393.9 1600.0,368.2 1539.4,352.3 1540.9,365.1 1547.8,361.0 1530.3,356.0 1510.6,452.2 1585.5,364.1 1557.3,372.6 1565.0,325.1 1590.7,346.6 1559.9,400.2 1568.0,354.7 1517.4,371.3 1611.3,403.8 1542.1,402.7 1547.5,387.5 1553.3,344.5 1506.2,442.7 1547.9,396.0 1535.6,393.7 1503.5,377.6 1522.4,337.9 1529.3,397.7 1606.6,347.4 1647.0,343.3 1522.4,374.9 1617.1,363.0 1532.9,386.5 1500.6,382.1 1448.3,369.5 1599.4,365.8 1517.4,371.7 1583.3,369.5 1588.6,379.3 1478.6,370.5 1559.7,373.1 1532.5,352.0 1501.3,415.0 1586.2,376.8 1588.6,304.8 1511.2,337.9 1499.4,374.1 1532.7,360.7 1556.8,298.0 1537.0,376.3 1518.1,394.5 1593.0,354.5 1544.5,343.5 1425.5,360.7 1590.2,350.1 1488.4,418.7 1654.3,361.6 1573.6,388.5 1594.8,345.3 1449.5,385.5 1605.4,389.1 1429.5,430.4 1525.5,397.6 1497.1,352.7 1536.9,461.3 1562.5,381.9 1601.8,396.5 1551.8,347.3 1500.6,398.8 1489.4,419.1 1468.4,375.0 1497.2,395.3 1590.3,350.2 1593.5,336.3 1595.7,346.7 1539.5,370.7 1566.6,353.6 1530.4,403.3 1573.9,369.8 1574.6,394.9 1446.3,420.8 1533.6,353.6 1558.6,354.2 1516.9,379.6 1530.2,320.7 1560.0,337.3 1578.2,338.3 1558.4,335.5 1588.8,373.6 1580.7,385.0 1599.7,402.1 1527.0,417.2 1609.9,315.3 1559.1,309.9 1566.3,356.9 1610.1,391.8 1521.7,414.9 1520.5,306.7 1556.9,381.8 1487.4,393.5 1545.7,403.0 1483.2,465.6 1598.1,415.5 1529.5,361.8 1549.6,379.9 1560.2,383.0 1518.7,400.8 1532.3,347.2 1559.4,403.3 1523.3,357.0 1590.0,376.4 1466.3,371.1 1500.5,425.2 1513.4,430.6 1545.9,354.0 1550.7,359.5 1580.5,336.9 1558.5,354.2 1601.9,346.4 1536.3,392.9 1523.5,355.1 1549.9,430.0 1556.8,431.6 1550.2,400.3 1537.2,432.2 1574.6,363.8 1511.1,396.1 1557.8,367.1 1487.8,444.6 1531.1,374.3 1447.9,421.2 1514.1,415.1 1556.9,354.4 1538.3,373.8 1529.4,415.4 1563.3,316.6 1573.6,326.6 1641.0,302.6 1592.7,363.8 1553.6,377.4 1542.8,404.8 1571.7,412.9 1450.5,425.4 1550.8,328.4 1481.3,420.5 1458.9,382.7 1562.1,436.2 1465.5,403.6 1542.4,372.7 1540.4,369.3 1463.2,346.7 1521.6,374.1 1622.5,375.8 1524.7,395.8 1518.6,383.4 1551.8,389.7 1532.4,420.5 1632.0,341.4 1537.0,364.2 1448.6,391.8 1417.7,424.9 1497.0,345.8 1556.2,356.8 1542.8,375.5 1410.1,441.0 1519.3,350.0 1576.6,317.5 1577.6,371.4 1530.8,312.5 1568.3,395.2 1552.8,359.7 1633.9,324.1 1577.0,364.9 1436.4,460.5 1561.2,403.1 1454.4,404.8 1581.5,348.1 1575.9,346.4 1581.3,331.6 1583.3,409.5 1526.3,401.6 1554.2,410.2 1538.9,434.5 1607.6,294.2 1603.6,335.3 1536.5,360.5 1510.6,384.7 1524.8,358.5 1572.8,391.1 1478.3,430.2 1570.9,409.9 1601.2,303.3 1542.0,321.9 1503.0,417.0 1531.7,392.7 1530.3,364.5 1588.3,346.7 1525.3,355.6 1532.6,370.8 1526.8,411.1 1526.2,347.9 1557.6,363.0 1501.7,412.2 1634.0,364.0 1533.4,336.3 1665.4,301.9 1596.7,377.5 1458.4,402.6 1477.4,434.5 1529.3,432.0 1582.2,392.2 1531.8,317.8 1473.3,401.4 1586.5,404.9 1611.0,368.4 1497.5,405.3 1578.8,387.6 1549.4,390.7 1547.8,347.2 1499.5,413.7 1570.9,331.3 1595.8,346.1 1543.6,364.3 1554.1,392.3 1596.1,391.0 1472.0,411.8 1492.9,429.8 1461.9,438.5 1590.1,370.5 1613.4,371.0 1502.0,376.8 1525.9,353.7 1447.1,404.5 1551.0,382.9 1614.7,371.0 1459.3,367.2 1573.3,365.8 1520.5,398.5 1512.2,386.4 1595.9,345.7 1590.2,393.1 1557.8,355.2 1439.3,383.9 1451.5,420.7 1582.1,336.2 1548.3,363.8 1570.5,364.9 1538.4,382.0 1539.4,440.3 1544.7,317.4 1577.4,350.7 1530.5,366.3 1429.1,380.9 1498.2,368.7 1603.9,355.5 1549.2,393.8 1517.5,340.6 1554.3,393.7 1599.3,418.8 1599.4,329.1 1553.7,375.2 1522.4,369.4 1560.4,305.9 1520.4,436.8 1536.7,360.2 1576.8,336.1 1476.1,431.1 1505.2,384.5 1462.5,335.8 1446.0,412.8 1531.9,412.7 1562.5,337.3 1547.2,380.2 1515.6,366.8 1558.5,364.9 1505.2,419.7 1548.5,342.1 1584.0,339.8 1537.3,353.3 1519.2,365.0 1503.3,448.6 1530.2,403.9 1561.7,385.9 1547.3,393.4 1602.3,366.2 1455.5,361.9 1540.0,347.8 1506.1,354.4"/>
<polyline fill="none" stroke="none" marker-start="url(#mg)" marker-mid="url(#mg)" marker-end="url(#mg)" points="1488.2,371.0 1615.2,398.3 1597.5,360.2 1688.9,361.3 1609.0,416.6 1535.4,380.6 1538.4,295.7 1517.0,270.5 1463.4,357.4 1370.7,410.2 1626.8,334.6 1547.4,385.2 1500.9,415.2 1507.1,407.1 1672.1,300.1 1429.0,439.3 1621.6,314.9 1648.8,371.7 1524.1,349.4 1511.3,291.8 1485.9,409.7 1668.5,301.1 1687.2,298.0 1510.5,269.1 1621.2,353.7 1692.1,394.5 1611.0,264.7 1380.4,343.2 1546.9,364.2 1657.5,366.4 1472.7,263.8 1494.5,363.6 1528.0,400.5 1513.2,398.3 1504.5,390.9 1480.4,313.3 1458.6,384.6 1561.9,355.4 1516.5,391.5 1503.6,440.9 1555.3,390.3 1489.5,380.1 1536.2,349.2 1404.0,419.4 1680.2,325.3 1574.8,352.3 1462.3,398.3 1451.7,374.6 1681.0,340.8 1456.4,309.1 1599.4,311.9 1607.4,284.5 1552.7,443.9 1666.8,267.8 1438.1,347.9 1560.0,275.8 1411.3,419.5 1414.0,408.5 1397.9,300.4 1563.5,372.0 1465.0,443.8 1407.8,384.7 1348.2,371.4 1703.4,186.1 1517.8,366.2 1539.1,368.1 1669.2,355.2 1529.4,332.3 1397.3,440.0 1535.8,353.7 1380.5,327.1 1603.0,426.2 1444.5,355.8 1545.8,410.9 1675.5,328.3 1536.5,367.3 1365.5,502.8 1362.3,460.8 1509.4,315.6 1577.8,381.6 1550.8,393.9 1643.8,325.3 1639.5,336.8 1673.1,311.0 1669.8,357.6 1560.1,392.8 1553.2,365.6 1668.7,285.6 1409.9,313.7 1489.8,454.5 1587.0,325.7 1563.8,322.7 1387.1,365.8 1716.3,352.1 1535.3,370.6 1696.7,392.0 1633.9,490.5 1452.1,331.5 1385.7,461.3 1385.3,350.2 1563.4,303.9 1647.6,357.3 1549.1,429.0 1559.2,328.9 1489.8,346.6 1470.1,277.0 1503.8,430.1 1611.0,278.0 1486.3,387.4 1698.5,367.8 1656.0,319.4 1509.7,392.7 1668.7,314.3 1395.3,378.8 1523.6,419.6 1628.8,337.2 1592.7,350.4 1419.6,376.0 1432.8,347.1 1527.1,379.8 1569.6,416.2 1652.2,372.3 1703.8,290.1 1533.3,262.3 1496.6,381.7 1449.3,428.0 1683.4,359.9 1462.1,309.2 1648.4,319.0 1667.0,343.1 1413.8,264.3 1504.4,319.8 1474.9,236.1 1542.9,397.9 1422.3,376.5 1528.8,367.7 1380.5,436.0 1604.2,271.3 1613.9,327.5 1510.5,370.1 1562.9,421.9 1611.8,310.6 1491.3,395.8 1666.3,324.4 1461.1,397.4 1343.4,365.2 1555.8,345.5 1459.0,375.8 1451.0,356.5 1449.6,353.2 1644.1,326.1 1520.5,297.0 1552.2,304.8 1549.1,302.5 1614.0,294.0 1555.8,346.6 1426.1,321.9 1541.8,383.7 1570.7,369.1 1638.2,330.4 1528.8,323.3 1485.0,322.1 1510.3,313.3 1466.6,377.2 1581.5,400.2 1503.7,377.3 1572.5,374.4 1485.0,381.7 1633.7,364.2 1488.5,378.3 1556.7,325.6 1478.9,274.2 1626.2,378.2 1666.5,373.3 1425.1,403.4 1460.2,266.8 1652.4,266.5 1661.3,290.1 1478.2,373.9 1649.3,301.6 1617.6,266.5 1576.3,314.1 1653.1,327.6 1549.2,358.2 1442.8,283.6 1616.2,364.2 1654.5,357.2 1456.2,409.7 1606.6,271.7 1378.8,395.4 1545.2,387.5 1453.7,345.4 1572.2,365.2 1511.2,282.5 1549.9,368.5 1405.4,370.3 1647.7,374.6 1514.4,333.5 1542.5,392.6 1550.0,341.4 1591.4,222.6 1657.2,448.8 1582.7,372.9 1384.4,362.8 1421.7,382.3 1686.2,251.7 1629.0,384.3 1475.5,383.0 1667.0,256.3 1631.9,384.6 1607.1,395.7 1352.5,316.5 1641.7,334.3 1608.4,304.4 1380.8,355.9 1492.8,332.0 1654.2,349.4 1427.7,280.1 1530.1,361.9 1563.1,362.0 1565.7,333.8 1641.2,341.6 1416.0,358.3 1654.0,395.4 1381.2,424.0 1602.0,363.8 1555.8,328.6 1576.4,308.1 1611.9,385.3 1636.0,307.5 1415.5,408.6 1682.5,304.7 1401.6,382.6 1401.1,398.2 1681.8,291.1 1635.5,331.7 1643.2,402.6 1394.7,373.8 1600.2,373.7 1544.0,344.0 1591.1,369.6 1572.4,261.0 1439.0,321.7 1629.8,347.9 1640.4,355.7 1420.5,391.1 1559.1,288.5 1423.3,347.8 1540.8,336.9 1665.7,268.8 1692.9,345.2 1428.2,357.1 1526.1,361.6 1703.9,362.3 1584.0,362.9 1554.6,338.0 1482.3,403.7 1517.9,389.5 1518.0,412.7 1499.9,387.8 1569.9,327.9 1464.3,403.3 1693.8,380.2 1377.0,390.6 1564.8,350.6 1513.7,364.5 1700.9,318.7 1630.8,371.3 1432.1,358.7 1529.0,339.9 1392.4,408.9 1620.1,320.5 1496.5,286.7 1402.5,301.7 1550.0,414.6 1532.5,375.0 1555.6,380.6 1713.9,357.3 1407.2,443.6 1506.6,416.4 1585.4,325.4 1657.3,329.9 1576.8,377.5 1656.3,287.0 1639.9,377.0 1480.5,427.3 1449.2,333.2 1465.5,297.3 1400.6,337.7 1598.5,383.2 1580.7,331.2 1468.3,375.4 1438.6,349.9 1356.1,398.4 1389.9,396.3 1396.1,396.2 1718.6,388.3 1435.5,393.7 1511.7,378.8 1593.0,390.6 1347.1,390.7 1569.0,362.8 1540.3,316.2 1409.1,371.0 1481.3,393.4 1574.4,347.4 1464.0,365.4 1389.0,380.5 1577.8,348.8 1570.6,394.5 1664.4,300.8 1545.1,310.9 1527.9,409.1 1625.3,458.1 1558.7,330.8 1546.2,349.2 1565.5,365.0 1397.6,431.2 1369.4,369.2 1562.1,371.4 1636.2,409.9 1458.4,378.6 1352.0,345.4 1475.6,319.4 1526.8,378.6 1458.8,391.8 1624.5,381.4 1601.9,352.7 1487.2,402.2 1425.5,367.1 1530.9,345.6 1603.7,314.4 1596.3,332.2 1518.4,382.6 1544.7,381.2 1445.9,296.4 1414.2,374.3 1487.7,406.5 1472.1,404.3 1607.8,386.6 1587.9,384.9 1495.0,303.1 1434.4,319.2 1582.5,319.9 1629.1,329.3 1452.6,273.5 1424.4,339.0 1442.9,397.7 1461.8,397.4 1401.1,382.3 1640.0,361.7 1643.2,332.1 1549.8,383.4 1667.6,345.0 1462.9,407.6 1382.4,409.6 1671.9,242.4 1630.3,377.3 1387.8,408.9 1670.9,288.9 1397.8,354.0 1660.7,276.2 1594.4,369.6 1535.5,376.4 1672.8,302.9 1655.9,400.8 1578.3,298.3 1607.2,315.6 1529.1,349.6 1462.8,383.6 1651.2,363.0 1484.5,373.0 1573.1,332.2 1487.7,471.5 1402.6,324.0 1504.9,364.3 1487.7,447.1 1496.3,307.0 1564.6,290.6 1527.3,388.8 1497.4,447.4 1647.7,301.2 1676.2,336.1 1432.2,408.0 1541.6,402.8 1626.3,286.7 1636.6,392.7 1602.2,331.5 1530.7,370.3 1574.2,344.4 1559.0,315.4 1345.5,337.3 1566.5,392.6 1460.9,393.7 1385.4,392.8 1623.6,374.3 1537.0,288.0 1560.8,348.3 1605.6,359.5 1683.1,413.8 1650.6,375.5 1504.1,365.7 1542.0,337.9 1530.7,395.4 1577.0,337.4 1643.3,333.0 1371.2,288.8 1413.8,400.7 1414.0,295.6 1457.3,317.9 1579.3,334.4 1412.1,345.7 1531.5,297.8 1496.6,422.1 1646.2,259.4 1597.2,385.5 1541.2,359.6 1546.9,400.8 1381.2,438.1 1629.6,334.2 1398.3,418.7 1564.7,435.2 1471.8,331.7 1434.8,400.6 1376.1,266.5 1584.9,400.6 1536.2,296.6 1403.7,344.2 1635.4,327.9 1644.0,191.1 1534.0,361.9 1529.3,370.5 1500.8,356.0 1493.1,391.7 1593.8,373.5 1653.6,272.1 1560.7,358.3 1569.4,269.6 1655.3,277.6 1380.9,382.1 1546.3,448.5 1593.1,383.6 1557.4,322.9 1672.3,320.7 1598.2,378.1 1626.9,182.8 1403.8,341.6 1576.4,352.4 1525.2,283.9 1627.7,338.3 1387.9,378.4 1668.9,365.0 1635.6,277.6 1423.5,465.1 1665.3,310.2 1452.2,412.8 1363.5,417.9 1515.8,282.1 1654.4,373.1 1559.4,308.1 1596.2,393.6 1591.3,356.7 1678.4,312.5 1703.4,359.2 1593.8,353.0 1491.8,366.8 1489.5,309.1 1455.5,350.1 1653.1,413.1 1586.9,360.4 1599.0,361.4 1663.6,359.7 1602.2,309.8 1663.7,357.6 1586.1,372.8 1407.9,463.9 1666.9,332.1 1381.8,261.0 1627.2,288.8 1568.1,310.4 1654.5,393.8 1479.0,364.7 1435.3,387.3 1511.5,329.7 1515.3,446.2 1616.2,233.8 1358.8,401.8 1509.2,245.0 1657.9,261.4 1414.2,398.1 1445.5,410.8 1582.6,364.8 1461.3,355.7 1555.4,404.0 1444.6,376.9 1604.7,284.0 1656.4,307.7 1486.3,415.8 1633.0,338.3 1563.9,389.3 1599.2,369.9 1686.3,333.5 1655.7,290.2 1599.2,394.0 1601.6,366.3 1487.9,388.0 1520.0,368.9 1583.3,410.5 1552.0,441.7 1602.1,403.6 1654.4,278.6 1544.9,334.8 1674.3,319.0 1544.9,394.3 1647.0,367.4 1494.6,306.3 1535.1,436.8 1466.1,461.2 1478.0,340.3 1638.3,277.7 1538.1,311.8 1608.7,320.3 1551.3,390.5 1548.1,355.8 1681.4,397.3 1399.6,361.1 1626.5,387.6 1422.9,396.3 1541.1,338.8 1538.3,387.7 1428.0,420.7 1348.6,369.2 1668.6,333.3 1444.2,306.9 1382.7,392.9 1572.4,378.2 1684.0,314.0 1560.3,297.6 1622.8,339.1 1521.5,407.1 1520.5,376.4 1673.9,294.8 1700.2,340.0 1583.6,313.2 1634.8,370.0 1400.2,422.9 1649.0,435.0 1554.0,393.9 1594.8,301.2 1474.2,329.5 1621.5,246.9 1376.1,398.9 1682.7,340.0 1453.0,382.9 1573.1,401.3 1614.6,474.8 1383.9,399.8 1650.6,371.4 1479.1,321.3 1412.7,367.5 1666.3,317.4 1477.6,380.5 1576.5,382.0 1536.0,338.5 1554.5,371.9 1681.5,294.0 1519.7,348.5 1597.2,356.3 1571.2,373.9 1558.5,430.3 1451.8,294.0 1584.6,347.3 1625.7,302.4 1651.4,371.6 1606.0,325.2 1501.4,303.4 1658.5,460.9 1566.3,380.3 1438.0,382.8 1630.2,378.1 1627.0,351.0 1577.2,356.0 1527.1,375.6 1464.7,411.9 1375.3,478.9 1719.9,457.9 1662.4,389.4 1647.6,308.3 1496.4,341.4 1718.5,328.5 1621.8,343.2 1540.4,364.8 1573.3,356.6 1576.7,253.7 1476.7,362.1 1631.8,402.6 1599.9,280.6 1543.8,320.7 1514.8,356.9 1472.2,415.2 1540.2,273.5 1511.6,240.2 1615.6,377.1 1451.7,283.0 1403.2,267.1 1412.7,439.6 1529.9,301.0 1619.3,373.6 1694.3,297.9 1394.7,436.2 1551.2,352.2 1579.7,402.4 1630.2,383.0 1714.1,298.2 1426.1,357.6 1486.1,305.5 1617.8,261.8 1534.0,310.6 1592.7,394.8 1543.4,386.5 1465.7,341.6 1536.0,323.5 1442.2,353.3 1654.3,252.5 1663.3,375.5 1522.8,373.0 1538.1,391.8 1652.1,429.7 1622.7,348.6 1423.7,360.3 1396.2,391.3 1565.9,333.8 1589.7,356.8 1550.3,321.1 1473.8,381.3 1524.6,311.0 1479.6,422.3 1603.9,383.3 1545.8,384.6 1385.0,377.3 1503.0,343.0 1494.6,412.8 1446.2,410.6 1522.6,377.8 1526.2,427.8 1624.5,372.7 1581.9,412.1 1380.2,449.3 1447.6,344.5 1410.5,301.7 1615.0,296.4 1648.7,253.6 1537.4,285.4 1363.1,392.5 1660.7,261.4 1470.0,346.4 1690.2,450.6 1583.3,452.9 1446.8,408.0 1457.7,341.1 1602.0,298.2 1483.5,372.5 1583.5,314.1 1359.7,386.4 1624.7,383.6 1656.3,379.0 1517.6,386.2 1451.7,313.7 1685.3,300.7 1409.2,306.7 1623.2,376.6 1526.4,415.4 1478.7,302.1 1520.3,342.6 1587.6,264.3 1630.2,350.8 1383.1,359.3 1607.9,250.6 1435.4,414.1 1592.7,383.6 1637.3,330.4 1349.3,405.9 1539.2,270.6 1486.3,323.0 1641.1,285.7 1572.6,343.6 1516.0,390.1 1542.5,456.7 1529.0,413.9 1641.5,289.6 1637.9,382.1 1525.3,293.0 1636.6,385.2 1654.6,307.8 1602.8,342.6 1598.1,267.9 1471.3,320.4 1376.9,411.0 1653.8,329.1 1437.3,387.7 1650.4,338.6 1628.9,293.4 1586.7,412.7 1387.1,388.7 1488.4,413.1 1573.3,363.8 1424.1,287.1 1627.6,376.5 1456.3,392.6 1523.2,401.1 1566.0,389.9 1552.3,380.8 1594.2,360.9 1534.5,296.0 1697.7,343.1 1492.5,409.5 1524.3,381.6 1493.4,417.7 1404.7,441.6 1343.2,462.4 1603.7,359.3 1493.0,313.5 1602.7,370.8 1492.2,392.9 1446.3,400.2 1525.2,364.1 1492.6,252.2 1640.0,356.8 1583.8,354.9 1552.3,303.7 1460.9,356.2 1683.1,423.6 1551.6,337.9 1384.4,334.0 1545.4,314.7 1562.0,363.3 1675.9,304.2 1585.5,363.3 1602.6,355.9 1642.4,382.5 1425.2,417.8 1622.4,364.8 1620.2,372.8 1345.2,468.8 1673.4,347.1 1529.0,413.0 1684.3,346.7 1436.9,365.0 1635.5,415.0 1560.1,376.4 1458.4,376.3 1545.4,338.4 1536.3,412.6 1599.6,352.5 1422.4,363.3 1573.0,368.0 1553.3,253.5 1644.4,359.7 1545.7,330.0 1663.5,341.3 1469.9,392.0 1418.7,389.9 1667.8,372.2 1525.8,367.3 1584.1,362.4 1377.8,347.0 1528.1,337.9 1461.4,392.4 1528.4,385.2 1453.1,371.9 1494.1,280.2 1580.2,360.4 1647.6,311.7 1631.0,327.0 1614.2,421.7 1674.9,377.3 1664.7,327.4 1522.3,335.3 1398.6,410.3 1505.4,391.4 1410.6,371.7 1493.8,374.0 1554.2,398.9 1629.0,331.5 1573.3,299.0 1421.8,335.8 1442.8,364.2 1655.1,308.8 1486.9,394.7 1600.2,345.3 1614.6,333.5 1608.6,368.8 1516.1,321.5 1506.8,347.6 1495.1,329.6 1657.0,319.5 1556.0,366.4 1426.5,449.3 1542.9,286.9 1541.0,354.2 1558.6,271.2 1545.3,381.8 1390.8,362.0 1612.2,285.7 1559.5,396.4 1511.1,399.1 1408.3,326.6 1604.2,392.8 1497.6,373.0 1507.8,357.1 1475.1,288.3 1530.7,320.0 1571.3,422.2 1373.6,423.3 1437.9,381.2 1686.9,362.8 1356.2,405.7 1394.8,371.2 1587.4,421.9 1498.8,402.1 1564.4,412.0 1455.5,446.2 1433.4,310.7 1472.8,359.7 1504.3,343.9 1574.9,377.7 1558.8,299.2 1635.0,319.6 1390.5,478.9 1587.7,353.2 1615.1,311.8 1513.2,338.9 1590.1,272.5 1358.9,413.2 1449.9,393.8 1535.1,361.7 1468.9,363.8 1621.5,266.3 1537.7,377.1 1531.9,285.4 1446.1,243.0 1651.2,280.2 1560.0,405.6 1467.1,380.9 1457.5,337.4 1659.4,307.0 1423.6,440.2 1560.4,361.3 1664.1,352.5 1500.4,377.1 1436.7,351.7 1658.1,331.7 1451.9,342.1 1446.1,357.2 1651.4,363.9 1511.2,375.7 1581.7,304.3 1419.2,401.1 1601.1,240.6 1481.6,376.2 1573.3,354.9 1668.5,345.8 1611.6,375.4 1702.0,368.2 1386.9,282.9 1615.4,360.1 1661.0,382.0 1582.8,358.5 1579.3,252.2 1554.2,378.4 1398.9,412.2 1583.7,442.8 1623.4,377.8 1685.5,407.1 1521.2,263.8 1548.8,382.8 1561.6,323.1 1546.7,307.6 1597.1,386.4 1514.6,415.0 1439.9,362.8 1657.9,427.7 1621.9,366.9 1470.4,365.6 1516.2,361.9 1537.2,403.5 1633.9,266.6 1618.0,323.4 1513.2,477.5 1704.1,303.6 1423.4,380.0 1670.4,377.2 1570.4,391.6 1672.6,359.3 1583.4,361.4 1440.4,418.7 1539.1,256.4 1557.8,385.3 1403.4,423.6 1705.3,319.3 1664.7,373.1 1407.2,407.3 1600.0,358.6 1668.6,354.1 1663.2,349.3 1637.9,320.9 1471.8,341.7 1579.0,290.9 1650.9,424.5 1599.0,303.5 1586.0,334.9 1629.3,358.6 1480.6,342.6 1536.9,370.1 1693.4,378.0 1396.6,384.8 1579.4,446.6 1624.6,414.9 1654.8,343.6 1423.1,345.6 1537.0,379.7 1636.5,379.4 1555.7,342.4 1466.8,274.3 1678.8,299.1 1587.7,414.8 1664.7,323.5 1425.5,362.5 1563.7,370.8 1622.4,440.5 1655.7,347.9 1714.1,385.4 1537.5,387.1 1524.3,374.1 1578.8,390.5 1474.9,391.6 1641.8,310.4 1555.5,361.3 1623.2,402.4 1415.3,275.8 1556.9,453.0 1512.9,342.1 1577.2,350.1 1661.0,316.5 1480.8,342.3 1700.9,351.1 1610.7,372.3 1514.5,394.6 1442.8,388.7 1595.4,328.1 1643.5,320.6 1485.4,371.3 1555.9,306.5 1529.3,388.8 1513.2,301.8 1555.9,342.6 1441.7,445.0 1500.5,416.7 1449.1,343.3 1472.3,417.6 1519.8,302.4 1613.4,324.8 1479.5,373.1 1647.6,313.4 1436.8,345.5 1522.0,390.8 1450.4,341.2 1426.7,395.8 1665.3,272.6 1626.7,336.1 1694.0,365.4 1555.5,365.5 1544.7,357.3 1569.2,386.2 1508.5,370.3 1562.1,422.9 1618.8,450.0 1696.2,332.1 1415.7,395.0 1377.9,346.1 1646.6,441.8 1555.8,335.4 1499.1,380.3 1630.4,360.5 1512.1,351.2 1576.4,363.2 1626.0,361.1 1551.8,315.3 1558.5,365.9 1510.6,388.6 1620.5,393.1 1432.1,327.9 1649.1,258.5 1547.0,394.9 1501.2,358.9 1670.8,306.6 1546.4,420.1 1558.7,341.9 1597.9,385.8 1505.1,365.5 1529.1,302.3 1629.7,377.6 1665.7,307.9 1465.6,302.4 1625.3,308.0 1625.7,375.3 1597.7,360.2 1534.4,366.2 1512.0,371.4 1363.5,410.5 1534.9,328.8 1438.4,349.0 1649.3,362.0 1479.5,390.9 1550.9,290.3 1531.4,363.4 1627.5,242.0 1530.8,434.9 1687.6,367.8 1619.7,290.3 1484.3,320.1 1658.6,279.2 1494.9,378.5 1436.0,387.7 1423.1,287.5 1681.4,365.2 1477.9,336.0 1600.0,357.3 1624.5,398.3 1644.1,248.1 1398.8,303.1 1540.7,324.7 1489.2,385.5 1520.0,406.5 1633.4,315.4 1495.6,337.2 1640.9,345.1 1510.5,289.7 1596.8,353.1 1612.5,311.3 1420.4,417.4 1637.1,346.8 1465.1,354.6 1575.1,414.0 1629.3,362.5 1571.1,327.1 1449.0,397.0 1465.2,411.4 1520.0,395.8 1630.8,349.7 1622.1,338.8 1585.7,322.8 1645.5,368.7 1612.4,336.7 1375.3,391.4 1641.7,297.3 1697.4,370.1 1350.8,359.7 1549.3,409.1 1600.3,356.2 1601.5,316.5 1602.1,364.5 1544.5,387.9 1577.8,351.2 1534.5,300.9 1451.7,263.2 1474.0,358.8 1574.6,431.5 1538.8,306.2 1648.3,327.6 1632.4,378.6 1581.2,315.8 1595.1,287.7 1591.2,358.0 1629.2,368.1 1351.2,372.4 1380.5,362.9 1341.7,486.4 1360.2,411.6 1425.7,368.0 1464.4,353.4 1453.0,324.3 1425.3,323.4 1582.2,235.7 1550.3,360.7 1458.7,365.4 1482.9,323.6 1655.9,320.5 1563.6,333.6 1538.0,424.7 1522.9,324.3 1418.7,370.6 1684.9,296.6 1406.5,373.0 1605.5,325.2 1620.5,354.6 1555.3,407.9 1465.0,418.3 1651.5,367.3 1625.5,352.6 1555.9,379.7 1531.7,302.5 1526.3,311.6 1456.2,363.2 1666.8,358.0 1443.9,419.3 1591.8,360.0 1718.4,291.8 1614.2,351.6 1618.2,332.1 1562.2,369.7 1384.1,457.7 1414.7,378.6 1639.2,369.3 1509.7,430.3 1579.5,319.1 1638.3,382.0 1665.7,397.4 1638.6,303.0 1420.3,348.2 1612.8,373.2 1613.8,397.1 1569.0,399.7 1600.4,436.9 1468.4,437.8 1429.1,338.2 1463.5,379.5 1695.0,344.4 1462.8,412.9 1474.0,431.3 1391.2,437.0 1593.8,402.2 1551.3,353.8 1662.4,356.9 1536.9,401.1 1582.7,336.4 1661.4,365.3 1582.5,354.8 1651.1,304.5 1678.4,382.9 1445.5,377.4 1580.4,348.9 1475.5,393.0 1670.3,336.6 1619.4,450.2 1552.1,357.8 1602.3,236.7 1503.4,379.8 1390.3,384.3 1646.2,339.0 1584.6,358.3 1606.6,364.9 1653.8,254.2 1500.8,388.3 1549.9,389.8 1648.7,303.2 1675.1,307.9 1662.0,278.2 1464.0,421.3 1612.5,236.0 1470.1,331.1 1415.7,370.8 1541.9,394.7 1401.4,244.1 1589.0,230.1 1580.1,341.4 1582.8,319.4 1530.1,359.4 1605.8,401.5 1465.9,430.9 1493.5,401.7 1367.0,391.2 1436.4,395.6 1556.8,421.5 1543.8,229.7 1490.5,396.5 1518.2,355.9 1420.8,387.8 1431.2,353.6 1418.4,325.7 1523.7,303.3 1640.3,394.5 1519.3,383.4 1566.0,412.0 1516.1,372.1 1458.0,386.9 1544.0,370.3 1424.2,290.2 1493.1,397.4 1503.2,386.9 1483.8,348.9 1561.4,281.2 1403.8,326.1 1391.9,415.5 1585.1,359.2 1440.5,432.2 1498.0,408.4 1539.7,347.0 1474.3,346.3 1664.1,307.4 1591.6,437.4 1615.7,377.0 1634.5,390.1 1665.3,282.5 1524.2,437.0 1603.2,335.0 1530.4,330.1 1547.0,371.7 1638.5,207.9 1543.5,412.2 1697.5,365.0 1450.1,342.4 1565.6,385.8 1509.1,234.8 1512.4,342.6 1653.5,344.8 1622.6,367.7 1608.4,393.7 1660.8,284.5 1552.5,332.5 1554.0,356.5 1623.0,304.2 1632.0,387.8 1641.5,360.8 1417.5,370.8 1637.2,388.1 1577.5,354.0 1557.4,389.9 1381.9,421.5 1527.0,252.9 1670.2,358.5 1452.5,390.6 1392.1,411.2 1659.0,387.2 1478.1,304.1 1563.0,337.8 1632.8,363.1 1536.1,419.8 1428.2,267.8 1490.8,433.2 1601.6,325.2 1571.6,343.3 1576.5,340.4 1615.7,398.1 1698.4,375.8 1438.1,339.8 1624.6,378.6 1433.0,446.2 1541.0,389.8 1488.6,391.3 1466.2,357.8 1461.2,374.7 1497.0,341.2 1440.6,394.6 1587.1,370.9 1435.8,379.6 1630.6,403.4 1615.0,342.1 1583.2,404.2 1445.2,378.7 1592.6,330.6 1633.9,318.5 1621.1,367.5 1612.9,390.5 1614.2,389.7 1664.0,404.2 1426.4,366.4 1592.7,371.8 1603.2,348.1 1406.6,446.8 1503.8,374.4 1539.2,269.7 1363.7,461.5 1610.1,383.5 1713.8,337.1 1483.7,302.6 1430.8,288.7 1380.4,423.4 1540.6,338.6 1547.9,399.2 1594.9,279.1 1459.5,275.4 1512.2,335.1 1530.2,402.6 1627.3,304.0 1524.9,399.7 1498.8,383.9 1624.9,429.5 1566.9,362.7 1524.2,401.9 1623.4,329.4 1688.4,367.4 1562.3,344.2 1678.3,399.7 1523.9,392.2 1646.7,334.3 1456.7,424.0 1670.9,369.1 1583.7,445.1 1590.3,382.8 1487.6,343.5 1556.6,315.5 1681.6,261.9 1460.1,384.7 1480.0,345.4 1631.6,260.2 1494.0,337.6 1582.9,386.0 1633.8,284.2 1502.6,318.6 1506.0,392.1 1422.4,408.2 1418.9,337.8 1510.8,370.1 1549.0,390.4 1379.8,409.2 1510.4,330.8 1494.6,303.8 1442.5,375.1 1681.9,314.7 1611.4,264.4 1403.2,391.0 1620.6,374.9 1637.7,326.8 1381.4,418.3 1489.7,374.1 1635.6,297.8 1616.3,324.6 1360.2,433.5 1703.2,311.7 1660.0,302.2 1622.3,313.1 1423.5,404.0 1671.0,453.0 1632.6,285.4 1701.5,297.6 1663.3,329.2 1622.0,344.4 1714.9,290.3 1647.2,340.7 1680.7,317.7 1481.4,349.9 1481.3,392.9 1621.1,403.1 1483.8,377.6 1647.7,369.7 1688.9,349.0 1500.3,386.9 1462.2,286.7 1616.8,314.5 1461.3,316.9 1639.3,360.7 1563.0,433.3 1361.3,443.4 1395.4,367.4 1485.7,374.8 1478.4,397.2 1696.3,327.2 1365.0,371.0 1626.6,459.9 1626.3,250.4 1557.4,374.0 1701.1,355.8 1602.6,386.0 1660.7,254.3 1356.0,454.2 1619.5,385.4 1586.8,376.5 1439.0,385.1 1623.1,380.4 1386.8,393.9 1681.2,368.2 1378.5,452.6 1606.5,290.9 1404.8,355.9 1604.9,338.3 1379.8,389.9 1655.9,342.3 1467.7,366.9 1679.9,256.0 1569.4,383.3 1672.9,308.5 1622.1,427.0 1410.2,335.2 1484.5,331.0 1518.2,353.0 1352.2,460.6 1520.7,376.3 1626.4,243.3 1580.6,317.6 1697.6,295.7 1582.3,433.9 1628.5,339.2 1567.2,427.3 1546.2,278.7 1469.6,331.2 1584.9,427.1 1545.2,359.9 1527.0,437.0 1379.9,406.3 1550.0,334.4 1597.7,325.0 1505.9,308.2 1583.2,314.2 1662.0,366.4 1625.4,312.1 1451.2,440.9 1632.7,340.2 1472.7,439.3 1591.0,312.1 1634.3,360.6 1484.3,385.9 1493.1,327.7 1663.3,292.1 1530.8,336.7 1554.8,320.0 1576.7,358.2 1627.1,356.7 1498.0,416.9 1467.9,341.0 1507.5,402.9 1402.8,409.4 1443.2,330.1 1579.4,364.7 1423.3,322.9 1560.7,304.0 1604.1,398.4 1708.2,330.7 1456.9,316.3 1582.7,423.7 1420.8,455.0 1593.8,273.8 1554.1,312.6 1500.8,335.5 1454.6,338.8 1648.6,218.8 1630.7,275.1 1478.4,404.7 1479.2,408.6 1606.8,346.5 1661.4,351.9 1476.3,347.0 1597.5,325.1 1520.9,361.2 1593.5,377.6 1459.2,347.9 1596.8,332.1 1497.3,333.3 1386.5,383.1 1355.8,416.3 1568.2,379.5 1531.4,322.5 1459.3,396.6 1649.9,391.0 1554.9,415.4 1471.2,337.9 1507.1,323.3 1538.2,370.5 1586.0,385.7 1404.5,422.3 1464.1,387.9 1621.9,351.1 1478.4,358.7 1514.6,351.5 1659.9,298.3 1544.8,351.5 1550.8,388.2 1444.4,395.4 1669.9,338.9 1669.6,314.6 1469.9,356.5 1343.5,417.8 1566.9,421.7 1701.0,226.8 1619.4,306.6 1533.8,372.3 1689.4,318.3 1447.5,390.9 1590.4,344.2 1450.6,424.4 1484.2,379.4 1604.7,323.7 1382.5,444.4 1451.1,377.3 1557.7,362.3 1423.5,268.8 1708.5,258.3 1577.1,317.4 1445.2,379.3 1679.6,277.9 1495.9,369.3 1481.1,413.3 1532.8,297.7 1642.0,295.7 1363.3,395.6 1535.5,386.9 1520.3,371.9 1480.3,418.1 1483.4,323.4 1659.7,220.2 1463.6,373.0 1617.8,332.5 1480.1,348.2 1438.1,259.1 1654.7,347.9 1574.7,389.6 1575.9,365.8 1413.9,432.4 1655.4,343.4 1618.4,274.9 1657.5,302.9 1444.8,359.4 1499.9,382.5 1417.0,321.8 1632.9,390.1 1357.9,395.6 1536.1,331.7 1511.4,425.7 1555.8,349.0 1710.3,315.3 1639.4,270.6 1634.7,366.7 1356.9,427.6 1506.7,468.7 1649.6,386.3 1613.0,376.4 1681.2,290.3 1449.6,299.7 1425.5,298.8 1502.7,409.7 1368.2,430.7 1647.0,271.7 1610.9,397.8 1539.1,365.9 1539.5,298.0 1632.3,362.8 1497.7,348.9 1519.4,408.3 1625.6,310.6 1544.4,425.7 1637.0,217.4 1512.0,315.9 1681.3,342.4 1386.1,361.0 1352.0,359.7 1606.5,336.5 1399.5,369.4 1397.8,360.1 1659.0,309.7 1397.7,384.1 1493.4,317.6 1658.3,365.4 1578.3,401.9 1602.8,359.5 1691.9,297.0 1420.0,338.5 1449.9,481.0 1528.4,340.9 1612.4,363.0 1617.8,346.6 1586.8,379.6 1423.1,369.3 1607.7,299.3 1574.3,324.6 1571.4,296.9 1476.3,433.3 1680.0,226.6 1419.5,252.6 1638.8,428.4 1573.1,327.3 1546.3,315.2 1542.8,395.9 1688.8,404.5 1577.3,300.7 1569.9,350.1 1460.1,432.4 1547.5,384.2 1562.7,370.2 1604.0,374.6 1427.2,380.7 1564.8,405.3 1480.8,287.0 1478.4,351.9 1686.9,273.6 1573.5,358.5 1533.1,329.7 1626.9,241.4 1575.1,358.9 1653.4,363.0 1361.0,315.4 1702.8,367.7 1614.0,309.0 1676.8,321.2 1381.8,454.3 1504.2,382.7 1585.5,318.4 1422.1,391.5 1584.3,407.1 1551.1,417.0 1590.3,403.4 1430.2,406.1 1676.6,348.8 1564.0,341.9 1551.2,379.5 1606.3,365.8 1411.0,418.0 1586.3,370.8 1649.7,377.8 1451.3,361.1 1582.7,392.0 1415.0,421.8 1547.9,323.4 1392.2,413.9 1669.5,360.4 1514.7,326.2 1583.0,333.9 1470.9,296.9 1620.6,324.3 1449.0,305.1 1485.6,268.3 1633.6,388.6 1375.3,363.0 1576.3,305.8 1630.0,415.3 1397.9,297.9 1650.1,266.6 1460.1,436.5 1558.1,249.5 1670.2,299.5 1685.4,352.3 1465.5,418.3 1639.6,408.2 1376.2,362.2 1597.9,237.0 1633.6,278.2 1561.2,288.5 1716.4,328.5 1583.1,238.6 1387.9,419.6 1666.6,394.4 1417.9,363.2 1486.4,347.3 1509.8,263.0 1526.1,377.0 1426.0,386.7 1660.6,324.6 1473.9,408.5 1631.1,423.8 1563.8,394.2 1628.7,281.9 1601.0,309.8 1541.2,329.3 1569.6,346.9 1612.0,400.0 1626.8,290.7 1515.8,365.5 1622.9,284.3 1625.1,378.1 1482.8,433.4 1632.3,356.4 1407.8,414.7 1545.7,376.1 1458.8,356.9 1589.2,380.4 1545.9,368.0 1606.2,272.4 1376.0,420.0 1616.7,329.0 1671.0,297.5 1363.4,396.4 1414.4,410.2 1538.8,376.2 1509.5,340.9 1542.8,404.1 1580.7,408.4 1654.2,355.3 1645.6,410.8 1624.9,297.9 1444.0,411.8 1482.7,374.6 1591.5,401.2 1508.2,388.3 1612.5,374.0 1579.4,346.8 1453.6,291.1 1635.3,319.5 1565.0,372.6 1580.4,377.4 1426.4,390.1 1439.3,383.0 1487.6,305.6 1661.9,317.6 1457.9,369.2 1500.8,417.0 1660.5,448.2 1436.4,357.3 1703.1,340.9 1649.4,349.7 1594.7,331.8 1615.6,350.4 1665.0,333.9 1542.8,166.7 1534.5,258.5 1684.9,304.1 1373.1,394.7 1654.1,354.9 1426.3,411.7 1534.5,364.7 1597.4,333.8 1622.2,380.6 1689.6,316.8 1528.0,320.3 1526.1,416.6 1428.7,379.6 1600.3,277.2 1474.9,312.0 1508.1,345.1 1403.6,315.5 1659.6,325.0 1589.5,252.0 1488.3,320.7 1565.3,407.4 1447.0,412.4 1551.9,353.7 1612.9,302.8 1565.9,429.4 1515.0,374.5 1632.0,387.8 1484.3,393.3 1653.4,292.7 1625.1,344.4 1413.2,397.0 1580.1,338.7 1476.9,418.8 1497.9,451.6 1530.7,389.3 1369.5,370.6 1671.7,323.2 1426.8,397.4 1646.4,289.3 1578.5,285.7 1470.9,343.0 1540.5,401.9 1385.5,248.3 1469.6,384.3 1564.1,391.1 1632.5,331.0 1551.8,445.5 1653.2,274.8 1638.8,396.4 1579.7,325.7 1559.4,387.6 1476.1,348.3 1641.5,381.7 1642.0,260.3 1506.8,330.6 1598.4,379.1 1637.1,349.6 1684.6,357.3 1554.9,311.9 1500.0,349.4 1420.0,361.5 1670.8,358.3 1637.5,371.4 1532.9,417.5 1471.2,412.8 1604.4,415.3 1671.3,425.2 1637.3,351.0 1587.2,382.6 1547.3,255.0 1419.4,337.1 1418.9,393.9 1555.9,377.9 1696.9,370.2 1649.6,383.2 1535.9,395.1 1384.3,328.4 1452.0,390.2 1437.3,398.2 1634.8,340.8 1564.4,398.8 1413.6,404.9 1590.2,321.8 1635.9,341.4 1586.3,405.7 1454.2,345.2 1382.0,404.9 1413.3,405.5 1466.1,390.3 1426.0,326.0 1424.2,325.2 1390.4,363.1 1529.8,364.6 1452.3,331.4 1399.0,379.2 1560.5,338.9 1423.3,432.5 1502.0,422.0 1657.0,292.3 1680.5,287.2 1665.0,401.2 1561.8,345.4 1606.1,422.4 1678.3,315.6 1556.8,356.8 1583.7,424.1 1414.7,366.9 1664.5,271.0 1618.6,291.7 1402.8,311.2 1536.9,323.6 1575.0,351.8 1342.6,400.2 1589.1,417.8 1610.3,249.0 1526.7,365.3 1613.8,336.9 1450.5,419.2 1574.5,326.7 1628.1,283.2 1395.2,387.7 1621.1,255.2 1591.5,326.9 1660.9,394.1 1545.5,285.9 1553.7,336.2 1584.4,378.0 1529.1,331.1 1684.9,378.9 1680.7,345.2 1688.8,315.8 1661.9,383.0 1521.9,392.0 1534.7,371.6 1595.1,367.2 1616.7,276.7 1612.3,423.0 1528.9,308.5 1585.9,408.9 1589.5,298.4 1638.9,253.7 1605.8,406.3 1435.4,350.6 1502.7,372.0 1502.6,365.4 1493.1,377.0 1587.1,352.2 1613.1,317.9 1570.9,335.4 1385.6,299.4 1624.2,312.1 1609.0,369.3 1630.5,335.9 1663.4,360.9 1676.0,242.5 1561.6,306.4 1383.7,359.3 1635.6,382.6 1467.3,338.8 1474.9,387.0 1634.1,407.7 1627.3,288.0 1575.2,373.3 1444.7,387.2 1490.9,419.5 1610.2,394.9 1602.6,409.6 1569.8,291.0 1431.3,373.2 1615.2,334.7 1607.9,354.1 1605.4,366.5 1526.5,371.4 1493.5,367.5 1348.8,425.3 1435.7,441.0 1543.4,247.4 1594.3,360.7 1639.7,365.2 1556.6,261.8 1639.6,308.9 1387.3,377.2 1550.1,392.1 1568.7,336.2 1542.5,389.8 1652.4,338.4 1594.0,403.2 1568.6,294.3 1666.2,368.4 1512.0,396.4 1407.8,401.7 1501.9,323.5 1544.8,379.6 1475.9,332.8 1522.3,403.8 1413.8,387.8 1526.2,378.2 1444.3,368.0 1584.0,421.1 1563.3,382.4 1639.6,365.4 1349.3,322.7 1504.1,401.9 1599.0,338.1 1587.7,285.2 1564.9,415.5 1436.4,441.6 1544.1,400.3 1403.9,455.1 1434.8,360.0 1470.0,417.3 1499.4,395.4 1503.1,418.1 1351.9,409.5 1534.1,346.9 1667.7,333.8 1568.1,359.9 1454.1,441.7 1416.9,341.3 1362.9,374.4 1396.8,443.2 1645.0,316.9 1607.5,354.9 1544.9,352.8 1530.9,345.5 1600.3,407.0 1475.7,346.1 1687.6,323.5 1512.3,376.1 1449.6,275.9 1565.8,300.4 1662.2,326.3 1452.1,426.8 1397.0,323.5 1647.6,292.5 1364.2,408.4 1458.1,436.5 1538.1,307.8 1463.2,443.8 1604.4,327.7 1522.5,436.1 1505.4,397.4 1474.7,321.6 1371.6,385.5 1501.7,321.6 1655.6,379.6 1423.0,338.9 1537.2,334.7 1643.6,286.8 1481.2,409.3 1623.7,392.9 1614.9,390.4 1401.0,335.6 1395.7,417.9 1581.2,321.5 1415.3,380.7 1393.8,412.3 1589.8,296.8 1625.9,219.2 1474.2,330.8 1426.5,416.9 1550.2,340.5 1530.9,425.8 1681.2,206.6 1663.4,366.0 1522.7,402.5 1682.7,329.6 1597.4,373.0 1518.3,413.4 1659.3,252.3 1464.9,395.4 1613.7,431.8 1557.4,370.4 1650.8,302.8 1431.0,325.6 1574.4,336.0 1387.9,376.3 1553.9,337.3 1486.7,349.9 1488.4,385.6 1554.3,398.6 1623.6,273.9 1499.1,284.9 1551.7,365.5 1534.3,276.6 1460.5,364.3 1381.1,393.6 1443.2,335.1 1565.0,391.9 1515.3,343.2 1613.5,366.8 1655.9,302.7 1659.7,374.8 1496.4,398.8 1576.3,363.9 1347.2,376.1 1633.1,359.9 1622.1,261.2 1589.5,297.4 1551.6,308.2 1549.9,346.8 1518.1,333.3 1525.0,307.4 1662.4,335.5 1446.3,391.8 1522.7,323.2 1583.1,396.1 1544.3,351.5 1673.0,322.4 1550.9,370.0 1612.7,347.0 1436.5,387.0 1600.8,341.3 1712.9,258.9 1547.3,300.8 1694.3,218.6 1671.0,320.6 1675.4,415.5 1519.7,388.2 1571.2,353.5 1632.2,335.3 1504.5,434.7 1459.6,409.9 1430.7,381.7 1353.5,402.0 1602.0,429.0 1638.0,333.6 1655.9,239.5 1493.9,329.7 1608.7,367.7 1556.0,321.1 1640.8,314.2 1496.0,368.3 1456.4,420.8 1539.6,381.4 1390.1,329.7 1460.9,364.4 1354.9,408.0 1580.3,408.1 1380.7,390.0 1674.8,269.9 1482.3,377.8 1596.1,315.2 1393.4,374.0 1461.3,444.3 1685.1,352.0 1635.9,296.9 1463.5,413.9 1572.7,423.5 1574.4,383.2 1516.6,350.1 1448.6,392.2 1666.0,362.0 1513.4,407.2 1500.6,394.2 1588.7,275.2 1480.9,403.3 1483.7,307.7 1617.5,319.3 1571.4,327.0 1374.7,350.9 1593.4,375.0 1538.1,447.1 1628.4,328.4 1435.9,358.3 1665.3,345.3 1591.1,353.1 1409.7,372.7 1532.0,351.0 1572.6,356.7 1592.5,256.2 1503.9,363.5 1605.4,370.3 1534.9,322.3 1542.1,385.2 1533.3,298.8 1499.1,411.5 1647.7,381.8 1684.9,353.1 1416.8,355.9 1477.5,384.1 1488.6,308.2 1653.0,398.4 1464.0,346.1 1684.9,296.0 1456.3,344.0 1384.9,389.0 1492.0,349.6 1676.6,356.1 1458.2,323.9 1610.8,324.4 1434.7,423.5 1643.6,315.8 1538.0,301.4 1400.0,435.3 1417.9,349.0 1465.1,219.2 1540.8,324.4 1580.3,363.7 1591.4,356.2 1527.5,376.6 1516.9,379.2 1405.1,301.0 1552.1,340.5 1576.1,225.3 1423.4,342.9 1589.0,286.9 1349.4,382.2 1502.3,311.4 1592.4,373.1 1472.0,359.4 1625.7,382.4 1665.9,341.3 1482.2,310.2 1443.1,386.3 1562.1,281.3 1623.7,273.9 1473.8,358.1 1670.0,311.3 1473.7,409.5 1556.7,368.3 1472.8,343.5 1517.1,332.6 1556.0,310.3 1562.3,378.4 1495.9,362.4 1675.9,367.0 1410.5,443.1 1679.4,361.5 1598.4,345.1 1465.5,339.7 1390.8,448.4 1687.6,276.9 1526.2,388.5 1445.5,357.8 1375.8,385.9 1587.4,374.5 1669.2,287.4 1452.9,353.4 1618.7,327.0 1412.1,345.0 1532.5,341.5 1643.4,353.9 1636.5,404.5 1556.6,347.4 1467.4,298.9 1605.4,371.1 1631.4,372.2 1422.5,331.1 1429.5,391.1 1455.4,332.4 1597.7,316.3 1645.7,370.4 1604.5,265.2 1521.7,416.7 1481.5,374.9 1555.4,259.7 1491.1,331.4 1531.5,384.5 1603.0,379.9 1613.9,396.5 1703.7,418.2 1362.2,338.6 1676.6,310.3 1634.2,325.0 1341.7,431.9 1720.0,331.6 1422.9,357.1 1429.6,363.1 1583.5,405.8 1644.1,375.8 1631.0,380.8 1601.8,382.7 1590.0,332.5 1501.2,394.2 1491.4,379.8 1382.5,394.3 1462.1,355.7 1658.2,387.8 1613.8,253.5 1582.6,346.9 1577.8,360.6 1559.9,331.4 1388.0,300.2 1612.2,283.3 1476.8,325.1 1527.4,389.6 1574.8,412.9 1492.4,341.4 1402.2,398.4 1341.6,374.0 1366.4,351.3 1592.2,369.8 1462.9,461.4 1624.5,386.8 1518.1,385.7 1600.0,345.0 1646.6,312.5 1569.9,333.8 1562.6,354.8 1602.2,421.7 1382.5,333.7 1617.6,366.1 1699.1,399.8 1647.7,381.9 1591.9,370.8 1473.0,356.7 1485.4,311.7 1430.5,378.8 1636.4,369.2 1543.4,375.3 1657.2,315.1 1448.6,352.3 1342.0,428.9 1672.6,385.8 1682.7,341.3 1409.0,395.9 1404.7,391.4 1539.7,348.0 1506.7,339.3 1678.7,367.9 1703.9,212.7 1615.3,359.4 1479.4,344.0 1445.9,297.1 1480.1,399.4 1411.4,324.9 1526.5,357.6 1567.7,239.9 1594.2,349.2 1416.9,421.3 1468.2,316.7 1579.4,353.8 1459.4,345.6 1672.9,337.3 1678.6,334.6 1444.1,376.4 1581.7,415.4 1663.3,264.0 1628.4,357.4 1585.3,429.1 1479.7,371.6 1482.7,383.0 1495.1,376.7 1608.4,440.5 1427.1,307.6 1429.9,413.3 1538.4,408.5 1569.7,332.6"/>
</g></g>
<line x1="1338" y1="393.6" x2="1722.5" y2="332.5" stroke="#808080" stroke-width="4.3"/>
<line x1="1338" y1="445.9" x2="1722.5" y2="322.5" stroke="#fa8072" stroke-width="4.3"/>
<rect x="1322.2" y="169.9" width="417.79999999999995" height="377.1" fill="none" stroke="#000" stroke-width="2.5"/>
<line x1="1310.3" y1="213.2" x2="1322.2" y2="213.2" stroke="#000" stroke-width="2.2"/>
<text x="1292.5" y="214.1" font-family='"Liberation Sans", Arial, Helvetica, sans-serif' font-size="30" font-weight="normal" text-anchor="end" fill="#000" >7</text>
<line x1="1310.3" y1="298.9" x2="1322.2" y2="298.9" stroke="#000" stroke-width="2.2"/>
<text x="1293" y="300.1" font-family='"Liberation Sans", Arial, Helvetica, sans-serif' font-size="30" font-weight="normal" text-anchor="end" fill="#000" >6</text>
<line x1="1310.3" y1="384.4" x2="1322.2" y2="384.4" stroke="#000" stroke-width="2.2"/>
<text x="1297" y="388.4" font-family='"Liberation Sans", Arial, Helvetica, sans-serif' font-size="30" font-weight="normal" text-anchor="end" fill="#000" >5</text>
<line x1="1310.3" y1="469.8" x2="1322.2" y2="469.8" stroke="#000" stroke-width="2.2"/>
<text x="1296.5" y="471" font-family='"Liberation Sans", Arial, Helvetica, sans-serif' font-size="30" font-weight="normal" text-anchor="end" fill="#000" >4</text>
<line x1="1340.9" y1="547.0" x2="1340.9" y2="557.9" stroke="#000" stroke-width="2.5"/>
<text transform="translate(1340.70,589.9) scale(1.09,1)" font-family='"DejaVu Sans", "Liberation Sans", sans-serif' font-size="29.5" text-anchor="middle" fill="#000">1</text>
<line x1="1388.4250000000002" y1="547.0" x2="1388.4250000000002" y2="557.9" stroke="#000" stroke-width="2.5"/>
<text transform="translate(1388.23,589.9) scale(1.09,1)" font-family='"DejaVu Sans", "Liberation Sans", sans-serif' font-size="29.5" text-anchor="middle" fill="#000">2</text>
<line x1="1435.95" y1="547.0" x2="1435.95" y2="557.9" stroke="#000" stroke-width="2.5"/>
<text transform="translate(1435.75,589.9) scale(1.09,1)" font-family='"DejaVu Sans", "Liberation Sans", sans-serif' font-size="29.5" text-anchor="middle" fill="#000">3</text>
<line x1="1483.4750000000001" y1="547.0" x2="1483.4750000000001" y2="557.9" stroke="#000" stroke-width="2.5"/>
<text transform="translate(1483.28,589.9) scale(1.09,1)" font-family='"DejaVu Sans", "Liberation Sans", sans-serif' font-size="29.5" text-anchor="middle" fill="#000">4</text>
<line x1="1531.0" y1="547.0" x2="1531.0" y2="557.9" stroke="#000" stroke-width="2.5"/>
<text transform="translate(1530.80,589.9) scale(1.09,1)" font-family='"DejaVu Sans", "Liberation Sans", sans-serif' font-size="29.5" text-anchor="middle" fill="#000">5</text>
<line x1="1578.525" y1="547.0" x2="1578.525" y2="557.9" stroke="#000" stroke-width="2.5"/>
<text transform="translate(1578.33,589.9) scale(1.09,1)" font-family='"DejaVu Sans", "Liberation Sans", sans-serif' font-size="29.5" text-anchor="middle" fill="#000">6</text>
<line x1="1626.0500000000002" y1="547.0" x2="1626.0500000000002" y2="557.9" stroke="#000" stroke-width="2.5"/>
<text transform="translate(1625.85,589.9) scale(1.09,1)" font-family='"DejaVu Sans", "Liberation Sans", sans-serif' font-size="29.5" text-anchor="middle" fill="#000">7</text>
<line x1="1673.575" y1="547.0" x2="1673.575" y2="557.9" stroke="#000" stroke-width="2.5"/>
<text transform="translate(1673.38,589.9) scale(1.09,1)" font-family='"DejaVu Sans", "Liberation Sans", sans-serif' font-size="29.5" text-anchor="middle" fill="#000">8</text>
<line x1="1721.1000000000001" y1="547.0" x2="1721.1000000000001" y2="557.9" stroke="#000" stroke-width="2.5"/>
<text transform="translate(1720.90,589.9) scale(1.09,1)" font-family='"DejaVu Sans", "Liberation Sans", sans-serif' font-size="29.5" text-anchor="middle" fill="#000">9</text>
<line x1="1345.9" y1="204" x2="1410.9" y2="204" stroke="#808080" stroke-width="4"/>
<line x1="1345.9" y1="242.8" x2="1410.9" y2="242.8" stroke="#fa8072" stroke-width="4"/>
<text x="1434.4" y="215" font-family='"Liberation Sans", Arial, Helvetica, sans-serif' font-size="33.3" font-weight="bold" text-anchor="start" fill="#686868" >Realistic</text>
<text x="1435.0" y="252.7" font-family='"Liberation Sans", Arial, Helvetica, sans-serif' font-size="33.4" font-weight="bold" text-anchor="start" fill="#ee979b" >Abstract</text>
<text transform="translate(1238.9,228.4) rotate(0)" x="-11.97" y="13.63" font-family='"Liberation Sans", Arial, Helvetica, sans-serif' font-size="41" font-weight="normal" fill="#5c5c5c" stroke="#5c5c5c" stroke-width="0.7">+</text>
<line x1="1242.9" y1="311" x2="1242.9" y2="265.9" stroke="#707070" stroke-width="3.6"/>
<polygon points="1242.9,249.9 1234.15,272.6 1242.9,266.9 1251.65,272.6" fill="#707070"/>
<text transform="translate(1252.3,350) rotate(-90) scale(1,1.05)" font-family='"Liberation Sans", Arial, Helvetica, sans-serif' font-size="33" text-anchor="middle">VV</text>
<line x1="1242.7" y1="385" x2="1242.7" y2="430.6" stroke="#707070" stroke-width="3.6"/>
<polygon points="1242.7,446.6 1233.95,423.90000000000003 1242.7,429.6 1251.45,423.90000000000003" fill="#707070"/>
<text transform="translate(1245.0,473.9) rotate(-90)" x="-7.49" y="11.97" font-family='"Liberation Sans", Arial, Helvetica, sans-serif' font-size="45" font-weight="normal" fill="#000" stroke="#000" stroke-width="0.3">-</text>
<text x="1535" y="624.0" font-family='"Liberation Sans", Arial, Helvetica, sans-serif' font-size="32.6" font-weight="normal" text-anchor="middle" fill="#000" >NV</text>
<text transform="translate(1411.3,615.3) rotate(0)" x="-7.83" y="12.50" font-family='"Liberation Sans", Arial, Helvetica, sans-serif' font-size="47" font-weight="normal" fill="#5e5e5e" stroke="#5e5e5e" stroke-width="0.3">-</text>
<line x1="1499.5" y1="618.3" x2="1452.6" y2="618.3" stroke="#c9c9c9" stroke-width="3.6"/>
<polygon points="1437.6,618.3 1461.1,609.8 1453.6,618.3 1461.1,626.8" fill="#c9c9c9"/>
<line x1="1573" y1="616" x2="1620.4" y2="616" stroke="#c9c9c9" stroke-width="3.6"/>
<polygon points="1635.4,616 1611.9,607.5 1619.4,616 1611.9,624.5" fill="#c9c9c9"/>
<text transform="translate(1655.5,613) rotate(0)" x="-11.97" y="13.63" font-family='"Liberation Sans", Arial, Helvetica, sans-serif' font-size="41" font-weight="normal" fill="#595959" stroke="#595959" stroke-width="0.7">+</text>
</svg>
</body></html>
